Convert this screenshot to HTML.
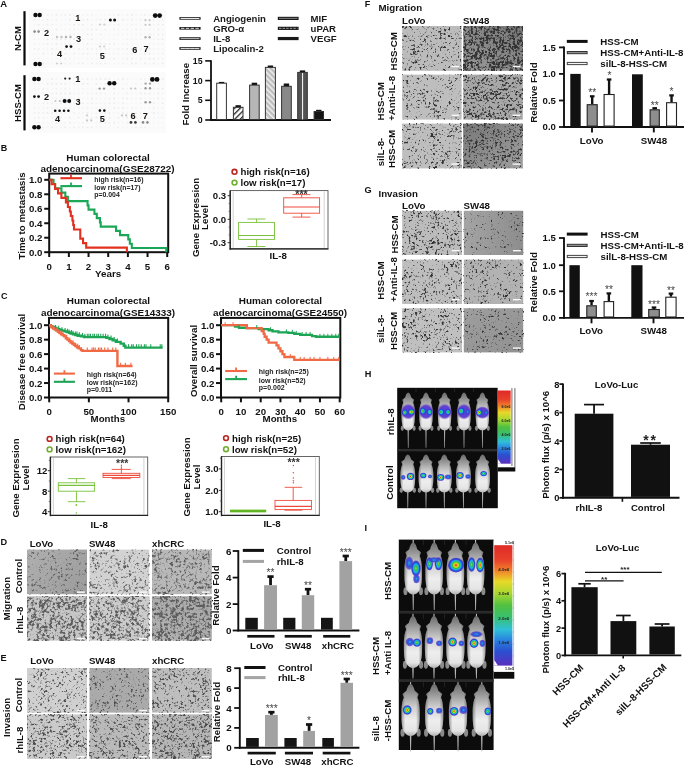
<!DOCTYPE html>
<html><head><meta charset="utf-8"><title>Figure</title>
<style>html,body{margin:0;padding:0;background:#fff;width:685px;height:766px;overflow:hidden}svg{display:block;filter:blur(0.45px)}text{font-family:"Liberation Sans", sans-serif}</style>
</head><body>
<svg width="685" height="766" viewBox="0 0 685 766" font-family='"Liberation Sans", sans-serif'>
<defs>
<pattern id="hatchA" patternUnits="userSpaceOnUse" width="3.9" height="3.9" patternTransform="rotate(45)"><rect width="3.9" height="3.9" fill="#fff"/><rect width="1.3" height="3.9" fill="#222"/></pattern>
<pattern id="hatchB" patternUnits="userSpaceOnUse" width="3.9" height="3.9" patternTransform="rotate(-45)"><rect width="3.9" height="3.9" fill="#bdbdbd"/><rect width="1.4" height="3.9" fill="#f2f2f2"/></pattern>
<filter id="sp1" x="0" y="0" width="1" height="1" color-interpolation-filters="sRGB"><feTurbulence type="fractalNoise" baseFrequency="0.38" numOctaves="3" seed="11" result="a"/><feTurbulence type="fractalNoise" baseFrequency="0.1" numOctaves="2" seed="111" result="b"/><feColorMatrix in="a" type="matrix" values="1 0 0 0 0 1 0 0 0 0 1 0 0 0 0 0 0 0 0 1" result="a2"/><feColorMatrix in="b" type="matrix" values="1 0 0 0 0 1 0 0 0 0 1 0 0 0 0 0 0 0 0 1" result="b2"/><feComposite in="a2" in2="b2" operator="arithmetic" k1="0" k2="1" k3="0.4" k4="-0.200" result="c"/><feColorMatrix in="c" type="matrix" values="0 0 0 0 0.36 0 0 0 0 0.36 0 0 0 0 0.36 -4.5 0 0 0 1.846"/><feGaussianBlur stdDeviation="0.6"/></filter>
<linearGradient id="gsp1" x1="0" y1="0" x2="1" y2="0.6"><stop offset="0" stop-color="#000" stop-opacity="0.0"/><stop offset="1" stop-color="#000" stop-opacity="0.1"/></linearGradient>
<filter id="sp2" x="0" y="0" width="1" height="1" color-interpolation-filters="sRGB"><feTurbulence type="fractalNoise" baseFrequency="0.38" numOctaves="3" seed="12" result="a"/><feTurbulence type="fractalNoise" baseFrequency="0.1" numOctaves="2" seed="112" result="b"/><feColorMatrix in="a" type="matrix" values="1 0 0 0 0 1 0 0 0 0 1 0 0 0 0 0 0 0 0 1" result="a2"/><feColorMatrix in="b" type="matrix" values="1 0 0 0 0 1 0 0 0 0 1 0 0 0 0 0 0 0 0 1" result="b2"/><feComposite in="a2" in2="b2" operator="arithmetic" k1="0" k2="1" k3="0.4" k4="-0.200" result="c"/><feColorMatrix in="c" type="matrix" values="0 0 0 0 0.36 0 0 0 0 0.36 0 0 0 0 0.36 -4.5 0 0 0 2.001"/><feGaussianBlur stdDeviation="0.6"/></filter>
<filter id="sp3" x="0" y="0" width="1" height="1" color-interpolation-filters="sRGB"><feTurbulence type="fractalNoise" baseFrequency="0.38" numOctaves="3" seed="13" result="a"/><feTurbulence type="fractalNoise" baseFrequency="0.1" numOctaves="2" seed="113" result="b"/><feColorMatrix in="a" type="matrix" values="1 0 0 0 0 1 0 0 0 0 1 0 0 0 0 0 0 0 0 1" result="a2"/><feColorMatrix in="b" type="matrix" values="1 0 0 0 0 1 0 0 0 0 1 0 0 0 0 0 0 0 0 1" result="b2"/><feComposite in="a2" in2="b2" operator="arithmetic" k1="0" k2="1" k3="0.4" k4="-0.200" result="c"/><feColorMatrix in="c" type="matrix" values="0 0 0 0 0.36 0 0 0 0 0.36 0 0 0 0 0.36 -4.5 0 0 0 2.111"/><feGaussianBlur stdDeviation="0.6"/></filter>
<filter id="sp4" x="0" y="0" width="1" height="1" color-interpolation-filters="sRGB"><feTurbulence type="fractalNoise" baseFrequency="0.38" numOctaves="3" seed="14" result="a"/><feTurbulence type="fractalNoise" baseFrequency="0.1" numOctaves="2" seed="114" result="b"/><feColorMatrix in="a" type="matrix" values="1 0 0 0 0 1 0 0 0 0 1 0 0 0 0 0 0 0 0 1" result="a2"/><feColorMatrix in="b" type="matrix" values="1 0 0 0 0 1 0 0 0 0 1 0 0 0 0 0 0 0 0 1" result="b2"/><feComposite in="a2" in2="b2" operator="arithmetic" k1="0" k2="1" k3="0.4" k4="-0.200" result="c"/><feColorMatrix in="c" type="matrix" values="0 0 0 0 0.36 0 0 0 0 0.36 0 0 0 0 0.36 -4.5 0 0 0 2.427"/><feGaussianBlur stdDeviation="0.6"/></filter>
<filter id="sp5" x="0" y="0" width="1" height="1" color-interpolation-filters="sRGB"><feTurbulence type="fractalNoise" baseFrequency="0.38" numOctaves="3" seed="15" result="a"/><feTurbulence type="fractalNoise" baseFrequency="0.1" numOctaves="2" seed="115" result="b"/><feColorMatrix in="a" type="matrix" values="1 0 0 0 0 1 0 0 0 0 1 0 0 0 0 0 0 0 0 1" result="a2"/><feColorMatrix in="b" type="matrix" values="1 0 0 0 0 1 0 0 0 0 1 0 0 0 0 0 0 0 0 1" result="b2"/><feComposite in="a2" in2="b2" operator="arithmetic" k1="0" k2="1" k3="0.4" k4="-0.200" result="c"/><feColorMatrix in="c" type="matrix" values="0 0 0 0 0.36 0 0 0 0 0.36 0 0 0 0 0.36 -4.5 0 0 0 2.390"/><feGaussianBlur stdDeviation="0.6"/></filter>
<filter id="sp6" x="0" y="0" width="1" height="1" color-interpolation-filters="sRGB"><feTurbulence type="fractalNoise" baseFrequency="0.38" numOctaves="3" seed="16" result="a"/><feTurbulence type="fractalNoise" baseFrequency="0.1" numOctaves="2" seed="116" result="b"/><feColorMatrix in="a" type="matrix" values="1 0 0 0 0 1 0 0 0 0 1 0 0 0 0 0 0 0 0 1" result="a2"/><feColorMatrix in="b" type="matrix" values="1 0 0 0 0 1 0 0 0 0 1 0 0 0 0 0 0 0 0 1" result="b2"/><feComposite in="a2" in2="b2" operator="arithmetic" k1="0" k2="1" k3="0.4" k4="-0.200" result="c"/><feColorMatrix in="c" type="matrix" values="0 0 0 0 0.36 0 0 0 0 0.36 0 0 0 0 0.36 -4.5 0 0 0 2.435"/><feGaussianBlur stdDeviation="0.6"/></filter>
<linearGradient id="gsp6" x1="0" y1="1" x2="1" y2="0"><stop offset="0" stop-color="#000" stop-opacity="0.0"/><stop offset="1" stop-color="#000" stop-opacity="0.06"/></linearGradient>
<filter id="sp7" x="0" y="0" width="1" height="1" color-interpolation-filters="sRGB"><feTurbulence type="fractalNoise" baseFrequency="0.42" numOctaves="3" seed="21" result="a"/><feTurbulence type="fractalNoise" baseFrequency="0.1" numOctaves="2" seed="121" result="b"/><feColorMatrix in="a" type="matrix" values="1 0 0 0 0 1 0 0 0 0 1 0 0 0 0 0 0 0 0 1" result="a2"/><feColorMatrix in="b" type="matrix" values="1 0 0 0 0 1 0 0 0 0 1 0 0 0 0 0 0 0 0 1" result="b2"/><feComposite in="a2" in2="b2" operator="arithmetic" k1="0" k2="1" k3="0.4" k4="-0.200" result="c"/><feColorMatrix in="c" type="matrix" values="0 0 0 0 0.3 0 0 0 0 0.3 0 0 0 0 0.3 -5.0 0 0 0 2.109"/><feGaussianBlur stdDeviation="0.55"/></filter>
<filter id="sp8" x="0" y="0" width="1" height="1" color-interpolation-filters="sRGB"><feTurbulence type="fractalNoise" baseFrequency="0.42" numOctaves="3" seed="22" result="a"/><feTurbulence type="fractalNoise" baseFrequency="0.1" numOctaves="2" seed="122" result="b"/><feColorMatrix in="a" type="matrix" values="1 0 0 0 0 1 0 0 0 0 1 0 0 0 0 0 0 0 0 1" result="a2"/><feColorMatrix in="b" type="matrix" values="1 0 0 0 0 1 0 0 0 0 1 0 0 0 0 0 0 0 0 1" result="b2"/><feComposite in="a2" in2="b2" operator="arithmetic" k1="0" k2="1" k3="0.4" k4="-0.200" result="c"/><feColorMatrix in="c" type="matrix" values="0 0 0 0 0.3 0 0 0 0 0.3 0 0 0 0 0.3 -5.0 0 0 0 2.001"/><feGaussianBlur stdDeviation="0.55"/></filter>
<filter id="sp9" x="0" y="0" width="1" height="1" color-interpolation-filters="sRGB"><feTurbulence type="fractalNoise" baseFrequency="0.42" numOctaves="3" seed="23" result="a"/><feTurbulence type="fractalNoise" baseFrequency="0.1" numOctaves="2" seed="123" result="b"/><feColorMatrix in="a" type="matrix" values="1 0 0 0 0 1 0 0 0 0 1 0 0 0 0 0 0 0 0 1" result="a2"/><feColorMatrix in="b" type="matrix" values="1 0 0 0 0 1 0 0 0 0 1 0 0 0 0 0 0 0 0 1" result="b2"/><feComposite in="a2" in2="b2" operator="arithmetic" k1="0" k2="1" k3="0.4" k4="-0.200" result="c"/><feColorMatrix in="c" type="matrix" values="0 0 0 0 0.3 0 0 0 0 0.3 0 0 0 0 0.3 -5.0 0 0 0 2.158"/><feGaussianBlur stdDeviation="0.55"/></filter>
<filter id="sp10" x="0" y="0" width="1" height="1" color-interpolation-filters="sRGB"><feTurbulence type="fractalNoise" baseFrequency="0.42" numOctaves="3" seed="24" result="a"/><feTurbulence type="fractalNoise" baseFrequency="0.1" numOctaves="2" seed="124" result="b"/><feColorMatrix in="a" type="matrix" values="1 0 0 0 0 1 0 0 0 0 1 0 0 0 0 0 0 0 0 1" result="a2"/><feColorMatrix in="b" type="matrix" values="1 0 0 0 0 1 0 0 0 0 1 0 0 0 0 0 0 0 0 1" result="b2"/><feComposite in="a2" in2="b2" operator="arithmetic" k1="0" k2="1" k3="0.4" k4="-0.200" result="c"/><feColorMatrix in="c" type="matrix" values="0 0 0 0 0.3 0 0 0 0 0.3 0 0 0 0 0.3 -5.0 0 0 0 2.360"/><feGaussianBlur stdDeviation="0.55"/></filter>
<filter id="sp11" x="0" y="0" width="1" height="1" color-interpolation-filters="sRGB"><feTurbulence type="fractalNoise" baseFrequency="0.42" numOctaves="3" seed="25" result="a"/><feTurbulence type="fractalNoise" baseFrequency="0.1" numOctaves="2" seed="125" result="b"/><feColorMatrix in="a" type="matrix" values="1 0 0 0 0 1 0 0 0 0 1 0 0 0 0 0 0 0 0 1" result="a2"/><feColorMatrix in="b" type="matrix" values="1 0 0 0 0 1 0 0 0 0 1 0 0 0 0 0 0 0 0 1" result="b2"/><feComposite in="a2" in2="b2" operator="arithmetic" k1="0" k2="1" k3="0.4" k4="-0.200" result="c"/><feColorMatrix in="c" type="matrix" values="0 0 0 0 0.3 0 0 0 0 0.3 0 0 0 0 0.3 -5.0 0 0 0 2.260"/><feGaussianBlur stdDeviation="0.55"/></filter>
<filter id="sp12" x="0" y="0" width="1" height="1" color-interpolation-filters="sRGB"><feTurbulence type="fractalNoise" baseFrequency="0.42" numOctaves="3" seed="26" result="a"/><feTurbulence type="fractalNoise" baseFrequency="0.1" numOctaves="2" seed="126" result="b"/><feColorMatrix in="a" type="matrix" values="1 0 0 0 0 1 0 0 0 0 1 0 0 0 0 0 0 0 0 1" result="a2"/><feColorMatrix in="b" type="matrix" values="1 0 0 0 0 1 0 0 0 0 1 0 0 0 0 0 0 0 0 1" result="b2"/><feComposite in="a2" in2="b2" operator="arithmetic" k1="0" k2="1" k3="0.4" k4="-0.200" result="c"/><feColorMatrix in="c" type="matrix" values="0 0 0 0 0.3 0 0 0 0 0.3 0 0 0 0 0.3 -5.0 0 0 0 2.439"/><feGaussianBlur stdDeviation="0.55"/></filter>
<filter id="sp13" x="0" y="0" width="1" height="1" color-interpolation-filters="sRGB"><feTurbulence type="fractalNoise" baseFrequency="0.45" numOctaves="3" seed="31" result="a"/><feTurbulence type="fractalNoise" baseFrequency="0.1" numOctaves="2" seed="131" result="b"/><feColorMatrix in="a" type="matrix" values="1 0 0 0 0 1 0 0 0 0 1 0 0 0 0 0 0 0 0 1" result="a2"/><feColorMatrix in="b" type="matrix" values="1 0 0 0 0 1 0 0 0 0 1 0 0 0 0 0 0 0 0 1" result="b2"/><feComposite in="a2" in2="b2" operator="arithmetic" k1="0" k2="1" k3="0.4" k4="-0.200" result="c"/><feColorMatrix in="c" type="matrix" values="0 0 0 0 0.2 0 0 0 0 0.2 0 0 0 0 0.2 -5.5 0 0 0 2.303"/><feGaussianBlur stdDeviation="0.5"/></filter>
<filter id="sp14" x="0" y="0" width="1" height="1" color-interpolation-filters="sRGB"><feTurbulence type="fractalNoise" baseFrequency="0.45" numOctaves="3" seed="32" result="a"/><feTurbulence type="fractalNoise" baseFrequency="0.1" numOctaves="2" seed="132" result="b"/><feColorMatrix in="a" type="matrix" values="1 0 0 0 0 1 0 0 0 0 1 0 0 0 0 0 0 0 0 1" result="a2"/><feColorMatrix in="b" type="matrix" values="1 0 0 0 0 1 0 0 0 0 1 0 0 0 0 0 0 0 0 1" result="b2"/><feComposite in="a2" in2="b2" operator="arithmetic" k1="0" k2="1" k3="0.4" k4="-0.200" result="c"/><feColorMatrix in="c" type="matrix" values="0 0 0 0 0.2 0 0 0 0 0.2 0 0 0 0 0.2 -5.5 0 0 0 3.067"/><feGaussianBlur stdDeviation="0.5"/></filter>
<linearGradient id="gsp14" x1="0" y1="1" x2="1" y2="0"><stop offset="0" stop-color="#000" stop-opacity="0.0"/><stop offset="1" stop-color="#000" stop-opacity="0.22"/></linearGradient>
<filter id="sp15" x="0" y="0" width="1" height="1" color-interpolation-filters="sRGB"><feTurbulence type="fractalNoise" baseFrequency="0.45" numOctaves="3" seed="33" result="a"/><feTurbulence type="fractalNoise" baseFrequency="0.1" numOctaves="2" seed="133" result="b"/><feColorMatrix in="a" type="matrix" values="1 0 0 0 0 1 0 0 0 0 1 0 0 0 0 0 0 0 0 1" result="a2"/><feColorMatrix in="b" type="matrix" values="1 0 0 0 0 1 0 0 0 0 1 0 0 0 0 0 0 0 0 1" result="b2"/><feComposite in="a2" in2="b2" operator="arithmetic" k1="0" k2="1" k3="0.4" k4="-0.200" result="c"/><feColorMatrix in="c" type="matrix" values="0 0 0 0 0.2 0 0 0 0 0.2 0 0 0 0 0.2 -5.5 0 0 0 2.219"/><feGaussianBlur stdDeviation="0.5"/></filter>
<filter id="sp16" x="0" y="0" width="1" height="1" color-interpolation-filters="sRGB"><feTurbulence type="fractalNoise" baseFrequency="0.45" numOctaves="3" seed="34" result="a"/><feTurbulence type="fractalNoise" baseFrequency="0.1" numOctaves="2" seed="134" result="b"/><feColorMatrix in="a" type="matrix" values="1 0 0 0 0 1 0 0 0 0 1 0 0 0 0 0 0 0 0 1" result="a2"/><feColorMatrix in="b" type="matrix" values="1 0 0 0 0 1 0 0 0 0 1 0 0 0 0 0 0 0 0 1" result="b2"/><feComposite in="a2" in2="b2" operator="arithmetic" k1="0" k2="1" k3="0.4" k4="-0.200" result="c"/><feColorMatrix in="c" type="matrix" values="0 0 0 0 0.2 0 0 0 0 0.2 0 0 0 0 0.2 -5.5 0 0 0 2.650"/><feGaussianBlur stdDeviation="0.5"/></filter>
<filter id="sp17" x="0" y="0" width="1" height="1" color-interpolation-filters="sRGB"><feTurbulence type="fractalNoise" baseFrequency="0.45" numOctaves="3" seed="35" result="a"/><feTurbulence type="fractalNoise" baseFrequency="0.1" numOctaves="2" seed="135" result="b"/><feColorMatrix in="a" type="matrix" values="1 0 0 0 0 1 0 0 0 0 1 0 0 0 0 0 0 0 0 1" result="a2"/><feColorMatrix in="b" type="matrix" values="1 0 0 0 0 1 0 0 0 0 1 0 0 0 0 0 0 0 0 1" result="b2"/><feComposite in="a2" in2="b2" operator="arithmetic" k1="0" k2="1" k3="0.4" k4="-0.200" result="c"/><feColorMatrix in="c" type="matrix" values="0 0 0 0 0.2 0 0 0 0 0.2 0 0 0 0 0.2 -5.5 0 0 0 2.300"/><feGaussianBlur stdDeviation="0.5"/></filter>
<filter id="sp18" x="0" y="0" width="1" height="1" color-interpolation-filters="sRGB"><feTurbulence type="fractalNoise" baseFrequency="0.45" numOctaves="3" seed="36" result="a"/><feTurbulence type="fractalNoise" baseFrequency="0.1" numOctaves="2" seed="136" result="b"/><feColorMatrix in="a" type="matrix" values="1 0 0 0 0 1 0 0 0 0 1 0 0 0 0 0 0 0 0 1" result="a2"/><feColorMatrix in="b" type="matrix" values="1 0 0 0 0 1 0 0 0 0 1 0 0 0 0 0 0 0 0 1" result="b2"/><feComposite in="a2" in2="b2" operator="arithmetic" k1="0" k2="1" k3="0.4" k4="-0.200" result="c"/><feColorMatrix in="c" type="matrix" values="0 0 0 0 0.2 0 0 0 0 0.2 0 0 0 0 0.2 -5.5 0 0 0 2.563"/><feGaussianBlur stdDeviation="0.5"/></filter>
<linearGradient id="gsp18" x1="1" y1="1" x2="0" y2="0"><stop offset="0" stop-color="#000" stop-opacity="0.0"/><stop offset="1" stop-color="#000" stop-opacity="0.25"/></linearGradient>
<filter id="sp19" x="0" y="0" width="1" height="1" color-interpolation-filters="sRGB"><feTurbulence type="fractalNoise" baseFrequency="0.45" numOctaves="3" seed="41" result="a"/><feTurbulence type="fractalNoise" baseFrequency="0.1" numOctaves="2" seed="141" result="b"/><feColorMatrix in="a" type="matrix" values="1 0 0 0 0 1 0 0 0 0 1 0 0 0 0 0 0 0 0 1" result="a2"/><feColorMatrix in="b" type="matrix" values="1 0 0 0 0 1 0 0 0 0 1 0 0 0 0 0 0 0 0 1" result="b2"/><feComposite in="a2" in2="b2" operator="arithmetic" k1="0" k2="1" k3="0.4" k4="-0.200" result="c"/><feColorMatrix in="c" type="matrix" values="0 0 0 0 0.2 0 0 0 0 0.2 0 0 0 0 0.2 -5.5 0 0 0 2.359"/><feGaussianBlur stdDeviation="0.5"/></filter>
<filter id="sp20" x="0" y="0" width="1" height="1" color-interpolation-filters="sRGB"><feTurbulence type="fractalNoise" baseFrequency="0.45" numOctaves="3" seed="42" result="a"/><feTurbulence type="fractalNoise" baseFrequency="0.1" numOctaves="2" seed="142" result="b"/><feColorMatrix in="a" type="matrix" values="1 0 0 0 0 1 0 0 0 0 1 0 0 0 0 0 0 0 0 1" result="a2"/><feColorMatrix in="b" type="matrix" values="1 0 0 0 0 1 0 0 0 0 1 0 0 0 0 0 0 0 0 1" result="b2"/><feComposite in="a2" in2="b2" operator="arithmetic" k1="0" k2="1" k3="0.4" k4="-0.200" result="c"/><feColorMatrix in="c" type="matrix" values="0 0 0 0 0.2 0 0 0 0 0.2 0 0 0 0 0.2 -5.5 0 0 0 1.877"/><feGaussianBlur stdDeviation="0.5"/></filter>
<linearGradient id="gsp20" x1="0" y1="0" x2="1" y2="0"><stop offset="0" stop-color="#000" stop-opacity="0.0"/><stop offset="1" stop-color="#000" stop-opacity="0.14"/></linearGradient>
<filter id="sp21" x="0" y="0" width="1" height="1" color-interpolation-filters="sRGB"><feTurbulence type="fractalNoise" baseFrequency="0.45" numOctaves="3" seed="43" result="a"/><feTurbulence type="fractalNoise" baseFrequency="0.1" numOctaves="2" seed="143" result="b"/><feColorMatrix in="a" type="matrix" values="1 0 0 0 0 1 0 0 0 0 1 0 0 0 0 0 0 0 0 1" result="a2"/><feColorMatrix in="b" type="matrix" values="1 0 0 0 0 1 0 0 0 0 1 0 0 0 0 0 0 0 0 1" result="b2"/><feComposite in="a2" in2="b2" operator="arithmetic" k1="0" k2="1" k3="0.4" k4="-0.200" result="c"/><feColorMatrix in="c" type="matrix" values="0 0 0 0 0.2 0 0 0 0 0.2 0 0 0 0 0.2 -5.5 0 0 0 2.287"/><feGaussianBlur stdDeviation="0.5"/></filter>
<filter id="sp22" x="0" y="0" width="1" height="1" color-interpolation-filters="sRGB"><feTurbulence type="fractalNoise" baseFrequency="0.45" numOctaves="3" seed="44" result="a"/><feTurbulence type="fractalNoise" baseFrequency="0.1" numOctaves="2" seed="144" result="b"/><feColorMatrix in="a" type="matrix" values="1 0 0 0 0 1 0 0 0 0 1 0 0 0 0 0 0 0 0 1" result="a2"/><feColorMatrix in="b" type="matrix" values="1 0 0 0 0 1 0 0 0 0 1 0 0 0 0 0 0 0 0 1" result="b2"/><feComposite in="a2" in2="b2" operator="arithmetic" k1="0" k2="1" k3="0.4" k4="-0.200" result="c"/><feColorMatrix in="c" type="matrix" values="0 0 0 0 0.2 0 0 0 0 0.2 0 0 0 0 0.2 -5.5 0 0 0 2.128"/><feGaussianBlur stdDeviation="0.5"/></filter>
<filter id="sp23" x="0" y="0" width="1" height="1" color-interpolation-filters="sRGB"><feTurbulence type="fractalNoise" baseFrequency="0.45" numOctaves="3" seed="45" result="a"/><feTurbulence type="fractalNoise" baseFrequency="0.1" numOctaves="2" seed="145" result="b"/><feColorMatrix in="a" type="matrix" values="1 0 0 0 0 1 0 0 0 0 1 0 0 0 0 0 0 0 0 1" result="a2"/><feColorMatrix in="b" type="matrix" values="1 0 0 0 0 1 0 0 0 0 1 0 0 0 0 0 0 0 0 1" result="b2"/><feComposite in="a2" in2="b2" operator="arithmetic" k1="0" k2="1" k3="0.4" k4="-0.200" result="c"/><feColorMatrix in="c" type="matrix" values="0 0 0 0 0.2 0 0 0 0 0.2 0 0 0 0 0.2 -5.5 0 0 0 2.307"/><feGaussianBlur stdDeviation="0.5"/></filter>
<filter id="sp24" x="0" y="0" width="1" height="1" color-interpolation-filters="sRGB"><feTurbulence type="fractalNoise" baseFrequency="0.45" numOctaves="3" seed="46" result="a"/><feTurbulence type="fractalNoise" baseFrequency="0.1" numOctaves="2" seed="146" result="b"/><feColorMatrix in="a" type="matrix" values="1 0 0 0 0 1 0 0 0 0 1 0 0 0 0 0 0 0 0 1" result="a2"/><feColorMatrix in="b" type="matrix" values="1 0 0 0 0 1 0 0 0 0 1 0 0 0 0 0 0 0 0 1" result="b2"/><feComposite in="a2" in2="b2" operator="arithmetic" k1="0" k2="1" k3="0.4" k4="-0.200" result="c"/><feColorMatrix in="c" type="matrix" values="0 0 0 0 0.2 0 0 0 0 0.2 0 0 0 0 0.2 -5.5 0 0 0 2.084"/><feGaussianBlur stdDeviation="0.5"/></filter>
<linearGradient id="gsp24" x1="0" y1="0" x2="1" y2="1"><stop offset="0" stop-color="#000" stop-opacity="0.0"/><stop offset="1" stop-color="#000" stop-opacity="0.08"/></linearGradient>
<linearGradient id="mbody" x1="0" y1="0" x2="0" y2="1"><stop offset="0" stop-color="#6a6a6a"/><stop offset="0.22" stop-color="#9c9c9c"/><stop offset="0.45" stop-color="#d0d0d0"/><stop offset="0.7" stop-color="#eeeeee"/><stop offset="0.9" stop-color="#e4e4e4"/><stop offset="1" stop-color="#b0b0b0"/></linearGradient>
<linearGradient id="medge" x1="0" y1="0" x2="1" y2="0"><stop offset="0" stop-color="#000" stop-opacity="0.35"/><stop offset="0.2" stop-color="#000" stop-opacity="0"/><stop offset="0.8" stop-color="#000" stop-opacity="0"/><stop offset="1" stop-color="#000" stop-opacity="0.35"/></linearGradient>
<radialGradient id="heat"><stop offset="0" stop-color="#e8202a"/><stop offset="0.18" stop-color="#f0a020"/><stop offset="0.3" stop-color="#c8e020"/><stop offset="0.45" stop-color="#30c040"/><stop offset="0.62" stop-color="#20b8e0"/><stop offset="0.8" stop-color="#2448d8"/><stop offset="1" stop-color="#4a30c8" stop-opacity="0.85"/></radialGradient>
<radialGradient id="cool"><stop offset="0" stop-color="#a8e030"/><stop offset="0.25" stop-color="#30c040"/><stop offset="0.5" stop-color="#20b8e0"/><stop offset="0.78" stop-color="#2448d8"/><stop offset="1" stop-color="#4a30c8" stop-opacity="0.8"/></radialGradient>
<radialGradient id="blu"><stop offset="0" stop-color="#2aa8e8"/><stop offset="0.5" stop-color="#2a50d8"/><stop offset="1" stop-color="#5a38c8" stop-opacity="0.7"/></radialGradient>
<radialGradient id="purp"><stop offset="0" stop-color="#4a44d8"/><stop offset="0.75" stop-color="#6040d0"/><stop offset="1" stop-color="#7048c8" stop-opacity="0.3"/></radialGradient>
<linearGradient id="cbar" x1="0" y1="0" x2="0" y2="1"><stop offset="0" stop-color="#e02a28"/><stop offset="0.12" stop-color="#e8402a"/><stop offset="0.21" stop-color="#f0802a"/><stop offset="0.3" stop-color="#e8d828"/><stop offset="0.4" stop-color="#a8d830"/><stop offset="0.5" stop-color="#50c040"/><stop offset="0.6" stop-color="#38c070"/><stop offset="0.7" stop-color="#30c0d8"/><stop offset="0.78" stop-color="#2a88e0"/><stop offset="0.88" stop-color="#2a50d0"/><stop offset="1" stop-color="#5a30c0"/></linearGradient>
</defs>
<rect width="685" height="766" fill="#fff"/>
<text x="0.3" y="6.5" font-size="9.5" font-weight="bold" text-anchor="start" fill="#111">A</text>
<rect x="29.00" y="9.00" width="137.00" height="59.00" fill="#fbfbfb"/>
<rect x="29.00" y="72.00" width="137.00" height="61.00" fill="#fbfbfb"/>
<circle cx="34.50" cy="15.00" r="1.00" fill="#efefef"/>
<circle cx="38.70" cy="15.00" r="1.00" fill="#f5f5f5"/>
<circle cx="43.35" cy="15.00" r="1.00" fill="#f7f7f7"/>
<circle cx="47.55" cy="15.00" r="1.00" fill="#f3f3f3"/>
<circle cx="52.20" cy="15.00" r="1.00" fill="#f3f3f3"/>
<circle cx="56.40" cy="15.00" r="1.00" fill="#ececec"/>
<circle cx="61.05" cy="15.00" r="1.00" fill="#f3f3f3"/>
<circle cx="65.25" cy="15.00" r="1.00" fill="#efefef"/>
<circle cx="69.90" cy="15.00" r="1.00" fill="#ececec"/>
<circle cx="74.10" cy="15.00" r="1.00" fill="#f3f3f3"/>
<circle cx="78.75" cy="15.00" r="1.00" fill="#ececec"/>
<circle cx="82.95" cy="15.00" r="1.00" fill="#f5f5f5"/>
<circle cx="87.60" cy="15.00" r="1.00" fill="#f3f3f3"/>
<circle cx="91.80" cy="15.00" r="1.00" fill="#f3f3f3"/>
<circle cx="96.45" cy="15.00" r="1.00" fill="#f7f7f7"/>
<circle cx="100.65" cy="15.00" r="1.00" fill="#f7f7f7"/>
<circle cx="105.30" cy="15.00" r="1.00" fill="#f3f3f3"/>
<circle cx="109.50" cy="15.00" r="1.00" fill="#f5f5f5"/>
<circle cx="114.15" cy="15.00" r="1.00" fill="#f3f3f3"/>
<circle cx="118.35" cy="15.00" r="1.00" fill="#ececec"/>
<circle cx="123.00" cy="15.00" r="1.00" fill="#f7f7f7"/>
<circle cx="127.20" cy="15.00" r="1.00" fill="#f3f3f3"/>
<circle cx="131.85" cy="15.00" r="1.00" fill="#ececec"/>
<circle cx="136.05" cy="15.00" r="1.00" fill="#f3f3f3"/>
<circle cx="140.70" cy="15.00" r="1.00" fill="#f5f5f5"/>
<circle cx="144.90" cy="15.00" r="1.00" fill="#ececec"/>
<circle cx="149.55" cy="15.00" r="1.00" fill="#f3f3f3"/>
<circle cx="153.75" cy="15.00" r="1.00" fill="#ececec"/>
<circle cx="158.40" cy="15.00" r="1.00" fill="#ececec"/>
<circle cx="162.60" cy="15.00" r="1.00" fill="#f7f7f7"/>
<circle cx="34.50" cy="19.85" r="1.00" fill="#f3f3f3"/>
<circle cx="38.70" cy="19.85" r="1.00" fill="#f5f5f5"/>
<circle cx="43.35" cy="19.85" r="1.00" fill="#f3f3f3"/>
<circle cx="47.55" cy="19.85" r="1.00" fill="#ececec"/>
<circle cx="52.20" cy="19.85" r="1.00" fill="#f5f5f5"/>
<circle cx="56.40" cy="19.85" r="1.00" fill="#efefef"/>
<circle cx="61.05" cy="19.85" r="1.00" fill="#f7f7f7"/>
<circle cx="65.25" cy="19.85" r="1.00" fill="#f5f5f5"/>
<circle cx="69.90" cy="19.85" r="1.00" fill="#ececec"/>
<circle cx="74.10" cy="19.85" r="1.00" fill="#f3f3f3"/>
<circle cx="78.75" cy="19.85" r="1.00" fill="#ececec"/>
<circle cx="82.95" cy="19.85" r="1.00" fill="#efefef"/>
<circle cx="87.60" cy="19.85" r="1.00" fill="#ececec"/>
<circle cx="91.80" cy="19.85" r="1.00" fill="#f5f5f5"/>
<circle cx="96.45" cy="19.85" r="1.00" fill="#f3f3f3"/>
<circle cx="100.65" cy="19.85" r="1.00" fill="#ececec"/>
<circle cx="105.30" cy="19.85" r="1.00" fill="#ececec"/>
<circle cx="109.50" cy="19.85" r="1.00" fill="#f5f5f5"/>
<circle cx="114.15" cy="19.85" r="1.00" fill="#efefef"/>
<circle cx="118.35" cy="19.85" r="1.00" fill="#f3f3f3"/>
<circle cx="123.00" cy="19.85" r="1.00" fill="#ececec"/>
<circle cx="127.20" cy="19.85" r="1.00" fill="#f3f3f3"/>
<circle cx="131.85" cy="19.85" r="1.00" fill="#ececec"/>
<circle cx="136.05" cy="19.85" r="1.00" fill="#f3f3f3"/>
<circle cx="140.70" cy="19.85" r="1.00" fill="#ececec"/>
<circle cx="144.90" cy="19.85" r="1.00" fill="#f5f5f5"/>
<circle cx="149.55" cy="19.85" r="1.00" fill="#f7f7f7"/>
<circle cx="153.75" cy="19.85" r="1.00" fill="#ececec"/>
<circle cx="158.40" cy="19.85" r="1.00" fill="#f7f7f7"/>
<circle cx="162.60" cy="19.85" r="1.00" fill="#efefef"/>
<circle cx="34.50" cy="24.70" r="1.00" fill="#f7f7f7"/>
<circle cx="38.70" cy="24.70" r="1.00" fill="#ececec"/>
<circle cx="43.35" cy="24.70" r="1.00" fill="#f7f7f7"/>
<circle cx="47.55" cy="24.70" r="1.00" fill="#efefef"/>
<circle cx="52.20" cy="24.70" r="1.00" fill="#efefef"/>
<circle cx="56.40" cy="24.70" r="1.00" fill="#f5f5f5"/>
<circle cx="61.05" cy="24.70" r="1.00" fill="#f5f5f5"/>
<circle cx="65.25" cy="24.70" r="1.00" fill="#f5f5f5"/>
<circle cx="69.90" cy="24.70" r="1.00" fill="#f3f3f3"/>
<circle cx="74.10" cy="24.70" r="1.00" fill="#ececec"/>
<circle cx="78.75" cy="24.70" r="1.00" fill="#efefef"/>
<circle cx="82.95" cy="24.70" r="1.00" fill="#ececec"/>
<circle cx="87.60" cy="24.70" r="1.00" fill="#f7f7f7"/>
<circle cx="91.80" cy="24.70" r="1.00" fill="#efefef"/>
<circle cx="96.45" cy="24.70" r="1.00" fill="#f7f7f7"/>
<circle cx="100.65" cy="24.70" r="1.00" fill="#efefef"/>
<circle cx="105.30" cy="24.70" r="1.00" fill="#ececec"/>
<circle cx="109.50" cy="24.70" r="1.00" fill="#f3f3f3"/>
<circle cx="114.15" cy="24.70" r="1.00" fill="#f3f3f3"/>
<circle cx="118.35" cy="24.70" r="1.00" fill="#ececec"/>
<circle cx="123.00" cy="24.70" r="1.00" fill="#f7f7f7"/>
<circle cx="127.20" cy="24.70" r="1.00" fill="#f5f5f5"/>
<circle cx="131.85" cy="24.70" r="1.00" fill="#efefef"/>
<circle cx="136.05" cy="24.70" r="1.00" fill="#f5f5f5"/>
<circle cx="140.70" cy="24.70" r="1.00" fill="#f7f7f7"/>
<circle cx="144.90" cy="24.70" r="1.00" fill="#f7f7f7"/>
<circle cx="149.55" cy="24.70" r="1.00" fill="#f3f3f3"/>
<circle cx="153.75" cy="24.70" r="1.00" fill="#f3f3f3"/>
<circle cx="158.40" cy="24.70" r="1.00" fill="#ececec"/>
<circle cx="162.60" cy="24.70" r="1.00" fill="#ececec"/>
<circle cx="34.50" cy="29.55" r="1.00" fill="#efefef"/>
<circle cx="38.70" cy="29.55" r="1.00" fill="#efefef"/>
<circle cx="43.35" cy="29.55" r="1.00" fill="#efefef"/>
<circle cx="47.55" cy="29.55" r="1.00" fill="#ececec"/>
<circle cx="52.20" cy="29.55" r="1.00" fill="#f7f7f7"/>
<circle cx="56.40" cy="29.55" r="1.00" fill="#ececec"/>
<circle cx="61.05" cy="29.55" r="1.00" fill="#f7f7f7"/>
<circle cx="65.25" cy="29.55" r="1.00" fill="#f3f3f3"/>
<circle cx="69.90" cy="29.55" r="1.00" fill="#f3f3f3"/>
<circle cx="74.10" cy="29.55" r="1.00" fill="#efefef"/>
<circle cx="78.75" cy="29.55" r="1.00" fill="#f7f7f7"/>
<circle cx="82.95" cy="29.55" r="1.00" fill="#f3f3f3"/>
<circle cx="87.60" cy="29.55" r="1.00" fill="#f3f3f3"/>
<circle cx="91.80" cy="29.55" r="1.00" fill="#efefef"/>
<circle cx="96.45" cy="29.55" r="1.00" fill="#ececec"/>
<circle cx="100.65" cy="29.55" r="1.00" fill="#f7f7f7"/>
<circle cx="105.30" cy="29.55" r="1.00" fill="#efefef"/>
<circle cx="109.50" cy="29.55" r="1.00" fill="#f7f7f7"/>
<circle cx="114.15" cy="29.55" r="1.00" fill="#efefef"/>
<circle cx="118.35" cy="29.55" r="1.00" fill="#f3f3f3"/>
<circle cx="123.00" cy="29.55" r="1.00" fill="#f7f7f7"/>
<circle cx="127.20" cy="29.55" r="1.00" fill="#efefef"/>
<circle cx="131.85" cy="29.55" r="1.00" fill="#f5f5f5"/>
<circle cx="136.05" cy="29.55" r="1.00" fill="#ececec"/>
<circle cx="140.70" cy="29.55" r="1.00" fill="#f3f3f3"/>
<circle cx="144.90" cy="29.55" r="1.00" fill="#f7f7f7"/>
<circle cx="149.55" cy="29.55" r="1.00" fill="#f3f3f3"/>
<circle cx="153.75" cy="29.55" r="1.00" fill="#f5f5f5"/>
<circle cx="158.40" cy="29.55" r="1.00" fill="#efefef"/>
<circle cx="162.60" cy="29.55" r="1.00" fill="#f5f5f5"/>
<circle cx="34.50" cy="34.40" r="1.00" fill="#f5f5f5"/>
<circle cx="38.70" cy="34.40" r="1.00" fill="#f7f7f7"/>
<circle cx="43.35" cy="34.40" r="1.00" fill="#f7f7f7"/>
<circle cx="47.55" cy="34.40" r="1.00" fill="#f7f7f7"/>
<circle cx="52.20" cy="34.40" r="1.00" fill="#f3f3f3"/>
<circle cx="56.40" cy="34.40" r="1.00" fill="#f5f5f5"/>
<circle cx="61.05" cy="34.40" r="1.00" fill="#f7f7f7"/>
<circle cx="65.25" cy="34.40" r="1.00" fill="#f7f7f7"/>
<circle cx="69.90" cy="34.40" r="1.00" fill="#ececec"/>
<circle cx="74.10" cy="34.40" r="1.00" fill="#efefef"/>
<circle cx="78.75" cy="34.40" r="1.00" fill="#f5f5f5"/>
<circle cx="82.95" cy="34.40" r="1.00" fill="#f7f7f7"/>
<circle cx="87.60" cy="34.40" r="1.00" fill="#ececec"/>
<circle cx="91.80" cy="34.40" r="1.00" fill="#efefef"/>
<circle cx="96.45" cy="34.40" r="1.00" fill="#f7f7f7"/>
<circle cx="100.65" cy="34.40" r="1.00" fill="#efefef"/>
<circle cx="105.30" cy="34.40" r="1.00" fill="#f7f7f7"/>
<circle cx="109.50" cy="34.40" r="1.00" fill="#f5f5f5"/>
<circle cx="114.15" cy="34.40" r="1.00" fill="#f5f5f5"/>
<circle cx="118.35" cy="34.40" r="1.00" fill="#f3f3f3"/>
<circle cx="123.00" cy="34.40" r="1.00" fill="#f5f5f5"/>
<circle cx="127.20" cy="34.40" r="1.00" fill="#f5f5f5"/>
<circle cx="131.85" cy="34.40" r="1.00" fill="#f5f5f5"/>
<circle cx="136.05" cy="34.40" r="1.00" fill="#f5f5f5"/>
<circle cx="140.70" cy="34.40" r="1.00" fill="#f3f3f3"/>
<circle cx="144.90" cy="34.40" r="1.00" fill="#f7f7f7"/>
<circle cx="149.55" cy="34.40" r="1.00" fill="#ececec"/>
<circle cx="153.75" cy="34.40" r="1.00" fill="#f5f5f5"/>
<circle cx="158.40" cy="34.40" r="1.00" fill="#efefef"/>
<circle cx="162.60" cy="34.40" r="1.00" fill="#efefef"/>
<circle cx="34.50" cy="39.25" r="1.00" fill="#f3f3f3"/>
<circle cx="38.70" cy="39.25" r="1.00" fill="#f5f5f5"/>
<circle cx="43.35" cy="39.25" r="1.00" fill="#f7f7f7"/>
<circle cx="47.55" cy="39.25" r="1.00" fill="#ececec"/>
<circle cx="52.20" cy="39.25" r="1.00" fill="#efefef"/>
<circle cx="56.40" cy="39.25" r="1.00" fill="#ececec"/>
<circle cx="61.05" cy="39.25" r="1.00" fill="#ececec"/>
<circle cx="65.25" cy="39.25" r="1.00" fill="#efefef"/>
<circle cx="69.90" cy="39.25" r="1.00" fill="#f5f5f5"/>
<circle cx="74.10" cy="39.25" r="1.00" fill="#ececec"/>
<circle cx="78.75" cy="39.25" r="1.00" fill="#ececec"/>
<circle cx="82.95" cy="39.25" r="1.00" fill="#f3f3f3"/>
<circle cx="87.60" cy="39.25" r="1.00" fill="#f7f7f7"/>
<circle cx="91.80" cy="39.25" r="1.00" fill="#ececec"/>
<circle cx="96.45" cy="39.25" r="1.00" fill="#f7f7f7"/>
<circle cx="100.65" cy="39.25" r="1.00" fill="#f7f7f7"/>
<circle cx="105.30" cy="39.25" r="1.00" fill="#f7f7f7"/>
<circle cx="109.50" cy="39.25" r="1.00" fill="#f7f7f7"/>
<circle cx="114.15" cy="39.25" r="1.00" fill="#f3f3f3"/>
<circle cx="118.35" cy="39.25" r="1.00" fill="#f7f7f7"/>
<circle cx="123.00" cy="39.25" r="1.00" fill="#f7f7f7"/>
<circle cx="127.20" cy="39.25" r="1.00" fill="#f3f3f3"/>
<circle cx="131.85" cy="39.25" r="1.00" fill="#f5f5f5"/>
<circle cx="136.05" cy="39.25" r="1.00" fill="#f3f3f3"/>
<circle cx="140.70" cy="39.25" r="1.00" fill="#f5f5f5"/>
<circle cx="144.90" cy="39.25" r="1.00" fill="#f7f7f7"/>
<circle cx="149.55" cy="39.25" r="1.00" fill="#f5f5f5"/>
<circle cx="153.75" cy="39.25" r="1.00" fill="#f3f3f3"/>
<circle cx="158.40" cy="39.25" r="1.00" fill="#efefef"/>
<circle cx="162.60" cy="39.25" r="1.00" fill="#ececec"/>
<circle cx="34.50" cy="44.10" r="1.00" fill="#f3f3f3"/>
<circle cx="38.70" cy="44.10" r="1.00" fill="#f3f3f3"/>
<circle cx="43.35" cy="44.10" r="1.00" fill="#f3f3f3"/>
<circle cx="47.55" cy="44.10" r="1.00" fill="#ececec"/>
<circle cx="52.20" cy="44.10" r="1.00" fill="#f5f5f5"/>
<circle cx="56.40" cy="44.10" r="1.00" fill="#ececec"/>
<circle cx="61.05" cy="44.10" r="1.00" fill="#f3f3f3"/>
<circle cx="65.25" cy="44.10" r="1.00" fill="#efefef"/>
<circle cx="69.90" cy="44.10" r="1.00" fill="#ececec"/>
<circle cx="74.10" cy="44.10" r="1.00" fill="#f3f3f3"/>
<circle cx="78.75" cy="44.10" r="1.00" fill="#f3f3f3"/>
<circle cx="82.95" cy="44.10" r="1.00" fill="#f5f5f5"/>
<circle cx="87.60" cy="44.10" r="1.00" fill="#ececec"/>
<circle cx="91.80" cy="44.10" r="1.00" fill="#f7f7f7"/>
<circle cx="96.45" cy="44.10" r="1.00" fill="#f5f5f5"/>
<circle cx="100.65" cy="44.10" r="1.00" fill="#efefef"/>
<circle cx="105.30" cy="44.10" r="1.00" fill="#efefef"/>
<circle cx="109.50" cy="44.10" r="1.00" fill="#ececec"/>
<circle cx="114.15" cy="44.10" r="1.00" fill="#efefef"/>
<circle cx="118.35" cy="44.10" r="1.00" fill="#f7f7f7"/>
<circle cx="123.00" cy="44.10" r="1.00" fill="#f3f3f3"/>
<circle cx="127.20" cy="44.10" r="1.00" fill="#f3f3f3"/>
<circle cx="131.85" cy="44.10" r="1.00" fill="#f7f7f7"/>
<circle cx="136.05" cy="44.10" r="1.00" fill="#f7f7f7"/>
<circle cx="140.70" cy="44.10" r="1.00" fill="#f7f7f7"/>
<circle cx="144.90" cy="44.10" r="1.00" fill="#f7f7f7"/>
<circle cx="149.55" cy="44.10" r="1.00" fill="#efefef"/>
<circle cx="153.75" cy="44.10" r="1.00" fill="#f3f3f3"/>
<circle cx="158.40" cy="44.10" r="1.00" fill="#f5f5f5"/>
<circle cx="162.60" cy="44.10" r="1.00" fill="#f3f3f3"/>
<circle cx="34.50" cy="48.95" r="1.00" fill="#efefef"/>
<circle cx="38.70" cy="48.95" r="1.00" fill="#efefef"/>
<circle cx="43.35" cy="48.95" r="1.00" fill="#f7f7f7"/>
<circle cx="47.55" cy="48.95" r="1.00" fill="#f5f5f5"/>
<circle cx="52.20" cy="48.95" r="1.00" fill="#ececec"/>
<circle cx="56.40" cy="48.95" r="1.00" fill="#f3f3f3"/>
<circle cx="61.05" cy="48.95" r="1.00" fill="#f5f5f5"/>
<circle cx="65.25" cy="48.95" r="1.00" fill="#ececec"/>
<circle cx="69.90" cy="48.95" r="1.00" fill="#efefef"/>
<circle cx="74.10" cy="48.95" r="1.00" fill="#f5f5f5"/>
<circle cx="78.75" cy="48.95" r="1.00" fill="#ececec"/>
<circle cx="82.95" cy="48.95" r="1.00" fill="#f3f3f3"/>
<circle cx="87.60" cy="48.95" r="1.00" fill="#ececec"/>
<circle cx="91.80" cy="48.95" r="1.00" fill="#efefef"/>
<circle cx="96.45" cy="48.95" r="1.00" fill="#f3f3f3"/>
<circle cx="100.65" cy="48.95" r="1.00" fill="#efefef"/>
<circle cx="105.30" cy="48.95" r="1.00" fill="#ececec"/>
<circle cx="109.50" cy="48.95" r="1.00" fill="#efefef"/>
<circle cx="114.15" cy="48.95" r="1.00" fill="#f5f5f5"/>
<circle cx="118.35" cy="48.95" r="1.00" fill="#efefef"/>
<circle cx="123.00" cy="48.95" r="1.00" fill="#f5f5f5"/>
<circle cx="127.20" cy="48.95" r="1.00" fill="#ececec"/>
<circle cx="131.85" cy="48.95" r="1.00" fill="#ececec"/>
<circle cx="136.05" cy="48.95" r="1.00" fill="#ececec"/>
<circle cx="140.70" cy="48.95" r="1.00" fill="#efefef"/>
<circle cx="144.90" cy="48.95" r="1.00" fill="#f5f5f5"/>
<circle cx="149.55" cy="48.95" r="1.00" fill="#ececec"/>
<circle cx="153.75" cy="48.95" r="1.00" fill="#f5f5f5"/>
<circle cx="158.40" cy="48.95" r="1.00" fill="#f5f5f5"/>
<circle cx="162.60" cy="48.95" r="1.00" fill="#f7f7f7"/>
<circle cx="34.50" cy="53.80" r="1.00" fill="#f5f5f5"/>
<circle cx="38.70" cy="53.80" r="1.00" fill="#f5f5f5"/>
<circle cx="43.35" cy="53.80" r="1.00" fill="#ececec"/>
<circle cx="47.55" cy="53.80" r="1.00" fill="#f7f7f7"/>
<circle cx="52.20" cy="53.80" r="1.00" fill="#efefef"/>
<circle cx="56.40" cy="53.80" r="1.00" fill="#f3f3f3"/>
<circle cx="61.05" cy="53.80" r="1.00" fill="#f3f3f3"/>
<circle cx="65.25" cy="53.80" r="1.00" fill="#efefef"/>
<circle cx="69.90" cy="53.80" r="1.00" fill="#f7f7f7"/>
<circle cx="74.10" cy="53.80" r="1.00" fill="#efefef"/>
<circle cx="78.75" cy="53.80" r="1.00" fill="#f5f5f5"/>
<circle cx="82.95" cy="53.80" r="1.00" fill="#ececec"/>
<circle cx="87.60" cy="53.80" r="1.00" fill="#efefef"/>
<circle cx="91.80" cy="53.80" r="1.00" fill="#f7f7f7"/>
<circle cx="96.45" cy="53.80" r="1.00" fill="#efefef"/>
<circle cx="100.65" cy="53.80" r="1.00" fill="#efefef"/>
<circle cx="105.30" cy="53.80" r="1.00" fill="#f3f3f3"/>
<circle cx="109.50" cy="53.80" r="1.00" fill="#f5f5f5"/>
<circle cx="114.15" cy="53.80" r="1.00" fill="#f3f3f3"/>
<circle cx="118.35" cy="53.80" r="1.00" fill="#f5f5f5"/>
<circle cx="123.00" cy="53.80" r="1.00" fill="#f7f7f7"/>
<circle cx="127.20" cy="53.80" r="1.00" fill="#f5f5f5"/>
<circle cx="131.85" cy="53.80" r="1.00" fill="#efefef"/>
<circle cx="136.05" cy="53.80" r="1.00" fill="#f5f5f5"/>
<circle cx="140.70" cy="53.80" r="1.00" fill="#f7f7f7"/>
<circle cx="144.90" cy="53.80" r="1.00" fill="#ececec"/>
<circle cx="149.55" cy="53.80" r="1.00" fill="#ececec"/>
<circle cx="153.75" cy="53.80" r="1.00" fill="#f3f3f3"/>
<circle cx="158.40" cy="53.80" r="1.00" fill="#f7f7f7"/>
<circle cx="162.60" cy="53.80" r="1.00" fill="#efefef"/>
<circle cx="34.50" cy="58.65" r="1.00" fill="#f3f3f3"/>
<circle cx="38.70" cy="58.65" r="1.00" fill="#f3f3f3"/>
<circle cx="43.35" cy="58.65" r="1.00" fill="#f7f7f7"/>
<circle cx="47.55" cy="58.65" r="1.00" fill="#f5f5f5"/>
<circle cx="52.20" cy="58.65" r="1.00" fill="#f7f7f7"/>
<circle cx="56.40" cy="58.65" r="1.00" fill="#f5f5f5"/>
<circle cx="61.05" cy="58.65" r="1.00" fill="#f7f7f7"/>
<circle cx="65.25" cy="58.65" r="1.00" fill="#efefef"/>
<circle cx="69.90" cy="58.65" r="1.00" fill="#f3f3f3"/>
<circle cx="74.10" cy="58.65" r="1.00" fill="#f7f7f7"/>
<circle cx="78.75" cy="58.65" r="1.00" fill="#f7f7f7"/>
<circle cx="82.95" cy="58.65" r="1.00" fill="#f7f7f7"/>
<circle cx="87.60" cy="58.65" r="1.00" fill="#f3f3f3"/>
<circle cx="91.80" cy="58.65" r="1.00" fill="#f5f5f5"/>
<circle cx="96.45" cy="58.65" r="1.00" fill="#f5f5f5"/>
<circle cx="100.65" cy="58.65" r="1.00" fill="#f5f5f5"/>
<circle cx="105.30" cy="58.65" r="1.00" fill="#f3f3f3"/>
<circle cx="109.50" cy="58.65" r="1.00" fill="#f5f5f5"/>
<circle cx="114.15" cy="58.65" r="1.00" fill="#ececec"/>
<circle cx="118.35" cy="58.65" r="1.00" fill="#f7f7f7"/>
<circle cx="123.00" cy="58.65" r="1.00" fill="#f5f5f5"/>
<circle cx="127.20" cy="58.65" r="1.00" fill="#ececec"/>
<circle cx="131.85" cy="58.65" r="1.00" fill="#ececec"/>
<circle cx="136.05" cy="58.65" r="1.00" fill="#f7f7f7"/>
<circle cx="140.70" cy="58.65" r="1.00" fill="#efefef"/>
<circle cx="144.90" cy="58.65" r="1.00" fill="#f5f5f5"/>
<circle cx="149.55" cy="58.65" r="1.00" fill="#ececec"/>
<circle cx="153.75" cy="58.65" r="1.00" fill="#ececec"/>
<circle cx="158.40" cy="58.65" r="1.00" fill="#f5f5f5"/>
<circle cx="162.60" cy="58.65" r="1.00" fill="#f3f3f3"/>
<circle cx="34.50" cy="63.50" r="1.00" fill="#f3f3f3"/>
<circle cx="38.70" cy="63.50" r="1.00" fill="#f3f3f3"/>
<circle cx="43.35" cy="63.50" r="1.00" fill="#ececec"/>
<circle cx="47.55" cy="63.50" r="1.00" fill="#f5f5f5"/>
<circle cx="52.20" cy="63.50" r="1.00" fill="#f7f7f7"/>
<circle cx="56.40" cy="63.50" r="1.00" fill="#f5f5f5"/>
<circle cx="61.05" cy="63.50" r="1.00" fill="#f5f5f5"/>
<circle cx="65.25" cy="63.50" r="1.00" fill="#f3f3f3"/>
<circle cx="69.90" cy="63.50" r="1.00" fill="#efefef"/>
<circle cx="74.10" cy="63.50" r="1.00" fill="#f5f5f5"/>
<circle cx="78.75" cy="63.50" r="1.00" fill="#efefef"/>
<circle cx="82.95" cy="63.50" r="1.00" fill="#ececec"/>
<circle cx="87.60" cy="63.50" r="1.00" fill="#f5f5f5"/>
<circle cx="91.80" cy="63.50" r="1.00" fill="#ececec"/>
<circle cx="96.45" cy="63.50" r="1.00" fill="#efefef"/>
<circle cx="100.65" cy="63.50" r="1.00" fill="#efefef"/>
<circle cx="105.30" cy="63.50" r="1.00" fill="#ececec"/>
<circle cx="109.50" cy="63.50" r="1.00" fill="#f7f7f7"/>
<circle cx="114.15" cy="63.50" r="1.00" fill="#f5f5f5"/>
<circle cx="118.35" cy="63.50" r="1.00" fill="#f3f3f3"/>
<circle cx="123.00" cy="63.50" r="1.00" fill="#efefef"/>
<circle cx="127.20" cy="63.50" r="1.00" fill="#f7f7f7"/>
<circle cx="131.85" cy="63.50" r="1.00" fill="#ececec"/>
<circle cx="136.05" cy="63.50" r="1.00" fill="#ececec"/>
<circle cx="140.70" cy="63.50" r="1.00" fill="#f7f7f7"/>
<circle cx="144.90" cy="63.50" r="1.00" fill="#ececec"/>
<circle cx="149.55" cy="63.50" r="1.00" fill="#f5f5f5"/>
<circle cx="153.75" cy="63.50" r="1.00" fill="#ececec"/>
<circle cx="158.40" cy="63.50" r="1.00" fill="#f5f5f5"/>
<circle cx="162.60" cy="63.50" r="1.00" fill="#ececec"/>
<circle cx="34.50" cy="79.00" r="1.00" fill="#ececec"/>
<circle cx="38.70" cy="79.00" r="1.00" fill="#f3f3f3"/>
<circle cx="43.35" cy="79.00" r="1.00" fill="#f7f7f7"/>
<circle cx="47.55" cy="79.00" r="1.00" fill="#f5f5f5"/>
<circle cx="52.20" cy="79.00" r="1.00" fill="#ececec"/>
<circle cx="56.40" cy="79.00" r="1.00" fill="#f3f3f3"/>
<circle cx="61.05" cy="79.00" r="1.00" fill="#f5f5f5"/>
<circle cx="65.25" cy="79.00" r="1.00" fill="#f5f5f5"/>
<circle cx="69.90" cy="79.00" r="1.00" fill="#f5f5f5"/>
<circle cx="74.10" cy="79.00" r="1.00" fill="#f7f7f7"/>
<circle cx="78.75" cy="79.00" r="1.00" fill="#ececec"/>
<circle cx="82.95" cy="79.00" r="1.00" fill="#f3f3f3"/>
<circle cx="87.60" cy="79.00" r="1.00" fill="#ececec"/>
<circle cx="91.80" cy="79.00" r="1.00" fill="#f3f3f3"/>
<circle cx="96.45" cy="79.00" r="1.00" fill="#efefef"/>
<circle cx="100.65" cy="79.00" r="1.00" fill="#ececec"/>
<circle cx="105.30" cy="79.00" r="1.00" fill="#ececec"/>
<circle cx="109.50" cy="79.00" r="1.00" fill="#ececec"/>
<circle cx="114.15" cy="79.00" r="1.00" fill="#f7f7f7"/>
<circle cx="118.35" cy="79.00" r="1.00" fill="#f3f3f3"/>
<circle cx="123.00" cy="79.00" r="1.00" fill="#ececec"/>
<circle cx="127.20" cy="79.00" r="1.00" fill="#f3f3f3"/>
<circle cx="131.85" cy="79.00" r="1.00" fill="#f5f5f5"/>
<circle cx="136.05" cy="79.00" r="1.00" fill="#f5f5f5"/>
<circle cx="140.70" cy="79.00" r="1.00" fill="#efefef"/>
<circle cx="144.90" cy="79.00" r="1.00" fill="#f3f3f3"/>
<circle cx="149.55" cy="79.00" r="1.00" fill="#f3f3f3"/>
<circle cx="153.75" cy="79.00" r="1.00" fill="#ececec"/>
<circle cx="158.40" cy="79.00" r="1.00" fill="#f7f7f7"/>
<circle cx="162.60" cy="79.00" r="1.00" fill="#ececec"/>
<circle cx="34.50" cy="83.85" r="1.00" fill="#f3f3f3"/>
<circle cx="38.70" cy="83.85" r="1.00" fill="#f3f3f3"/>
<circle cx="43.35" cy="83.85" r="1.00" fill="#f7f7f7"/>
<circle cx="47.55" cy="83.85" r="1.00" fill="#efefef"/>
<circle cx="52.20" cy="83.85" r="1.00" fill="#ececec"/>
<circle cx="56.40" cy="83.85" r="1.00" fill="#ececec"/>
<circle cx="61.05" cy="83.85" r="1.00" fill="#ececec"/>
<circle cx="65.25" cy="83.85" r="1.00" fill="#ececec"/>
<circle cx="69.90" cy="83.85" r="1.00" fill="#f5f5f5"/>
<circle cx="74.10" cy="83.85" r="1.00" fill="#efefef"/>
<circle cx="78.75" cy="83.85" r="1.00" fill="#f7f7f7"/>
<circle cx="82.95" cy="83.85" r="1.00" fill="#ececec"/>
<circle cx="87.60" cy="83.85" r="1.00" fill="#ececec"/>
<circle cx="91.80" cy="83.85" r="1.00" fill="#f7f7f7"/>
<circle cx="96.45" cy="83.85" r="1.00" fill="#ececec"/>
<circle cx="100.65" cy="83.85" r="1.00" fill="#f5f5f5"/>
<circle cx="105.30" cy="83.85" r="1.00" fill="#ececec"/>
<circle cx="109.50" cy="83.85" r="1.00" fill="#efefef"/>
<circle cx="114.15" cy="83.85" r="1.00" fill="#ececec"/>
<circle cx="118.35" cy="83.85" r="1.00" fill="#f5f5f5"/>
<circle cx="123.00" cy="83.85" r="1.00" fill="#f7f7f7"/>
<circle cx="127.20" cy="83.85" r="1.00" fill="#f5f5f5"/>
<circle cx="131.85" cy="83.85" r="1.00" fill="#f7f7f7"/>
<circle cx="136.05" cy="83.85" r="1.00" fill="#f3f3f3"/>
<circle cx="140.70" cy="83.85" r="1.00" fill="#f7f7f7"/>
<circle cx="144.90" cy="83.85" r="1.00" fill="#f7f7f7"/>
<circle cx="149.55" cy="83.85" r="1.00" fill="#efefef"/>
<circle cx="153.75" cy="83.85" r="1.00" fill="#f3f3f3"/>
<circle cx="158.40" cy="83.85" r="1.00" fill="#f5f5f5"/>
<circle cx="162.60" cy="83.85" r="1.00" fill="#f7f7f7"/>
<circle cx="34.50" cy="88.70" r="1.00" fill="#f3f3f3"/>
<circle cx="38.70" cy="88.70" r="1.00" fill="#f5f5f5"/>
<circle cx="43.35" cy="88.70" r="1.00" fill="#efefef"/>
<circle cx="47.55" cy="88.70" r="1.00" fill="#f3f3f3"/>
<circle cx="52.20" cy="88.70" r="1.00" fill="#f5f5f5"/>
<circle cx="56.40" cy="88.70" r="1.00" fill="#efefef"/>
<circle cx="61.05" cy="88.70" r="1.00" fill="#f5f5f5"/>
<circle cx="65.25" cy="88.70" r="1.00" fill="#efefef"/>
<circle cx="69.90" cy="88.70" r="1.00" fill="#f5f5f5"/>
<circle cx="74.10" cy="88.70" r="1.00" fill="#f7f7f7"/>
<circle cx="78.75" cy="88.70" r="1.00" fill="#f5f5f5"/>
<circle cx="82.95" cy="88.70" r="1.00" fill="#f3f3f3"/>
<circle cx="87.60" cy="88.70" r="1.00" fill="#f7f7f7"/>
<circle cx="91.80" cy="88.70" r="1.00" fill="#f7f7f7"/>
<circle cx="96.45" cy="88.70" r="1.00" fill="#f5f5f5"/>
<circle cx="100.65" cy="88.70" r="1.00" fill="#f5f5f5"/>
<circle cx="105.30" cy="88.70" r="1.00" fill="#f5f5f5"/>
<circle cx="109.50" cy="88.70" r="1.00" fill="#f7f7f7"/>
<circle cx="114.15" cy="88.70" r="1.00" fill="#ececec"/>
<circle cx="118.35" cy="88.70" r="1.00" fill="#f7f7f7"/>
<circle cx="123.00" cy="88.70" r="1.00" fill="#efefef"/>
<circle cx="127.20" cy="88.70" r="1.00" fill="#f7f7f7"/>
<circle cx="131.85" cy="88.70" r="1.00" fill="#f5f5f5"/>
<circle cx="136.05" cy="88.70" r="1.00" fill="#efefef"/>
<circle cx="140.70" cy="88.70" r="1.00" fill="#efefef"/>
<circle cx="144.90" cy="88.70" r="1.00" fill="#f3f3f3"/>
<circle cx="149.55" cy="88.70" r="1.00" fill="#efefef"/>
<circle cx="153.75" cy="88.70" r="1.00" fill="#f3f3f3"/>
<circle cx="158.40" cy="88.70" r="1.00" fill="#efefef"/>
<circle cx="162.60" cy="88.70" r="1.00" fill="#ececec"/>
<circle cx="34.50" cy="93.55" r="1.00" fill="#f7f7f7"/>
<circle cx="38.70" cy="93.55" r="1.00" fill="#f7f7f7"/>
<circle cx="43.35" cy="93.55" r="1.00" fill="#f3f3f3"/>
<circle cx="47.55" cy="93.55" r="1.00" fill="#f7f7f7"/>
<circle cx="52.20" cy="93.55" r="1.00" fill="#efefef"/>
<circle cx="56.40" cy="93.55" r="1.00" fill="#ececec"/>
<circle cx="61.05" cy="93.55" r="1.00" fill="#ececec"/>
<circle cx="65.25" cy="93.55" r="1.00" fill="#efefef"/>
<circle cx="69.90" cy="93.55" r="1.00" fill="#ececec"/>
<circle cx="74.10" cy="93.55" r="1.00" fill="#f3f3f3"/>
<circle cx="78.75" cy="93.55" r="1.00" fill="#f3f3f3"/>
<circle cx="82.95" cy="93.55" r="1.00" fill="#f5f5f5"/>
<circle cx="87.60" cy="93.55" r="1.00" fill="#f3f3f3"/>
<circle cx="91.80" cy="93.55" r="1.00" fill="#f3f3f3"/>
<circle cx="96.45" cy="93.55" r="1.00" fill="#efefef"/>
<circle cx="100.65" cy="93.55" r="1.00" fill="#efefef"/>
<circle cx="105.30" cy="93.55" r="1.00" fill="#f3f3f3"/>
<circle cx="109.50" cy="93.55" r="1.00" fill="#f5f5f5"/>
<circle cx="114.15" cy="93.55" r="1.00" fill="#efefef"/>
<circle cx="118.35" cy="93.55" r="1.00" fill="#f5f5f5"/>
<circle cx="123.00" cy="93.55" r="1.00" fill="#f7f7f7"/>
<circle cx="127.20" cy="93.55" r="1.00" fill="#efefef"/>
<circle cx="131.85" cy="93.55" r="1.00" fill="#f7f7f7"/>
<circle cx="136.05" cy="93.55" r="1.00" fill="#f5f5f5"/>
<circle cx="140.70" cy="93.55" r="1.00" fill="#ececec"/>
<circle cx="144.90" cy="93.55" r="1.00" fill="#ececec"/>
<circle cx="149.55" cy="93.55" r="1.00" fill="#ececec"/>
<circle cx="153.75" cy="93.55" r="1.00" fill="#f7f7f7"/>
<circle cx="158.40" cy="93.55" r="1.00" fill="#efefef"/>
<circle cx="162.60" cy="93.55" r="1.00" fill="#f3f3f3"/>
<circle cx="34.50" cy="98.40" r="1.00" fill="#efefef"/>
<circle cx="38.70" cy="98.40" r="1.00" fill="#f3f3f3"/>
<circle cx="43.35" cy="98.40" r="1.00" fill="#f5f5f5"/>
<circle cx="47.55" cy="98.40" r="1.00" fill="#f7f7f7"/>
<circle cx="52.20" cy="98.40" r="1.00" fill="#f3f3f3"/>
<circle cx="56.40" cy="98.40" r="1.00" fill="#efefef"/>
<circle cx="61.05" cy="98.40" r="1.00" fill="#f3f3f3"/>
<circle cx="65.25" cy="98.40" r="1.00" fill="#f3f3f3"/>
<circle cx="69.90" cy="98.40" r="1.00" fill="#efefef"/>
<circle cx="74.10" cy="98.40" r="1.00" fill="#f3f3f3"/>
<circle cx="78.75" cy="98.40" r="1.00" fill="#ececec"/>
<circle cx="82.95" cy="98.40" r="1.00" fill="#f5f5f5"/>
<circle cx="87.60" cy="98.40" r="1.00" fill="#f3f3f3"/>
<circle cx="91.80" cy="98.40" r="1.00" fill="#efefef"/>
<circle cx="96.45" cy="98.40" r="1.00" fill="#f3f3f3"/>
<circle cx="100.65" cy="98.40" r="1.00" fill="#f7f7f7"/>
<circle cx="105.30" cy="98.40" r="1.00" fill="#f3f3f3"/>
<circle cx="109.50" cy="98.40" r="1.00" fill="#efefef"/>
<circle cx="114.15" cy="98.40" r="1.00" fill="#ececec"/>
<circle cx="118.35" cy="98.40" r="1.00" fill="#f7f7f7"/>
<circle cx="123.00" cy="98.40" r="1.00" fill="#efefef"/>
<circle cx="127.20" cy="98.40" r="1.00" fill="#ececec"/>
<circle cx="131.85" cy="98.40" r="1.00" fill="#f5f5f5"/>
<circle cx="136.05" cy="98.40" r="1.00" fill="#f3f3f3"/>
<circle cx="140.70" cy="98.40" r="1.00" fill="#ececec"/>
<circle cx="144.90" cy="98.40" r="1.00" fill="#f5f5f5"/>
<circle cx="149.55" cy="98.40" r="1.00" fill="#f3f3f3"/>
<circle cx="153.75" cy="98.40" r="1.00" fill="#f5f5f5"/>
<circle cx="158.40" cy="98.40" r="1.00" fill="#efefef"/>
<circle cx="162.60" cy="98.40" r="1.00" fill="#f3f3f3"/>
<circle cx="34.50" cy="103.25" r="1.00" fill="#f5f5f5"/>
<circle cx="38.70" cy="103.25" r="1.00" fill="#f5f5f5"/>
<circle cx="43.35" cy="103.25" r="1.00" fill="#efefef"/>
<circle cx="47.55" cy="103.25" r="1.00" fill="#efefef"/>
<circle cx="52.20" cy="103.25" r="1.00" fill="#ececec"/>
<circle cx="56.40" cy="103.25" r="1.00" fill="#f5f5f5"/>
<circle cx="61.05" cy="103.25" r="1.00" fill="#efefef"/>
<circle cx="65.25" cy="103.25" r="1.00" fill="#f7f7f7"/>
<circle cx="69.90" cy="103.25" r="1.00" fill="#ececec"/>
<circle cx="74.10" cy="103.25" r="1.00" fill="#f5f5f5"/>
<circle cx="78.75" cy="103.25" r="1.00" fill="#efefef"/>
<circle cx="82.95" cy="103.25" r="1.00" fill="#efefef"/>
<circle cx="87.60" cy="103.25" r="1.00" fill="#f3f3f3"/>
<circle cx="91.80" cy="103.25" r="1.00" fill="#efefef"/>
<circle cx="96.45" cy="103.25" r="1.00" fill="#f3f3f3"/>
<circle cx="100.65" cy="103.25" r="1.00" fill="#f3f3f3"/>
<circle cx="105.30" cy="103.25" r="1.00" fill="#f3f3f3"/>
<circle cx="109.50" cy="103.25" r="1.00" fill="#ececec"/>
<circle cx="114.15" cy="103.25" r="1.00" fill="#ececec"/>
<circle cx="118.35" cy="103.25" r="1.00" fill="#f5f5f5"/>
<circle cx="123.00" cy="103.25" r="1.00" fill="#ececec"/>
<circle cx="127.20" cy="103.25" r="1.00" fill="#f7f7f7"/>
<circle cx="131.85" cy="103.25" r="1.00" fill="#f5f5f5"/>
<circle cx="136.05" cy="103.25" r="1.00" fill="#f7f7f7"/>
<circle cx="140.70" cy="103.25" r="1.00" fill="#f3f3f3"/>
<circle cx="144.90" cy="103.25" r="1.00" fill="#f7f7f7"/>
<circle cx="149.55" cy="103.25" r="1.00" fill="#f7f7f7"/>
<circle cx="153.75" cy="103.25" r="1.00" fill="#ececec"/>
<circle cx="158.40" cy="103.25" r="1.00" fill="#f7f7f7"/>
<circle cx="162.60" cy="103.25" r="1.00" fill="#ececec"/>
<circle cx="34.50" cy="108.10" r="1.00" fill="#efefef"/>
<circle cx="38.70" cy="108.10" r="1.00" fill="#f5f5f5"/>
<circle cx="43.35" cy="108.10" r="1.00" fill="#f5f5f5"/>
<circle cx="47.55" cy="108.10" r="1.00" fill="#efefef"/>
<circle cx="52.20" cy="108.10" r="1.00" fill="#f5f5f5"/>
<circle cx="56.40" cy="108.10" r="1.00" fill="#f5f5f5"/>
<circle cx="61.05" cy="108.10" r="1.00" fill="#f7f7f7"/>
<circle cx="65.25" cy="108.10" r="1.00" fill="#efefef"/>
<circle cx="69.90" cy="108.10" r="1.00" fill="#f3f3f3"/>
<circle cx="74.10" cy="108.10" r="1.00" fill="#f5f5f5"/>
<circle cx="78.75" cy="108.10" r="1.00" fill="#f3f3f3"/>
<circle cx="82.95" cy="108.10" r="1.00" fill="#f3f3f3"/>
<circle cx="87.60" cy="108.10" r="1.00" fill="#efefef"/>
<circle cx="91.80" cy="108.10" r="1.00" fill="#f7f7f7"/>
<circle cx="96.45" cy="108.10" r="1.00" fill="#f5f5f5"/>
<circle cx="100.65" cy="108.10" r="1.00" fill="#f3f3f3"/>
<circle cx="105.30" cy="108.10" r="1.00" fill="#f3f3f3"/>
<circle cx="109.50" cy="108.10" r="1.00" fill="#f7f7f7"/>
<circle cx="114.15" cy="108.10" r="1.00" fill="#ececec"/>
<circle cx="118.35" cy="108.10" r="1.00" fill="#efefef"/>
<circle cx="123.00" cy="108.10" r="1.00" fill="#ececec"/>
<circle cx="127.20" cy="108.10" r="1.00" fill="#f5f5f5"/>
<circle cx="131.85" cy="108.10" r="1.00" fill="#efefef"/>
<circle cx="136.05" cy="108.10" r="1.00" fill="#f3f3f3"/>
<circle cx="140.70" cy="108.10" r="1.00" fill="#f7f7f7"/>
<circle cx="144.90" cy="108.10" r="1.00" fill="#f5f5f5"/>
<circle cx="149.55" cy="108.10" r="1.00" fill="#f5f5f5"/>
<circle cx="153.75" cy="108.10" r="1.00" fill="#efefef"/>
<circle cx="158.40" cy="108.10" r="1.00" fill="#f7f7f7"/>
<circle cx="162.60" cy="108.10" r="1.00" fill="#f3f3f3"/>
<circle cx="34.50" cy="112.95" r="1.00" fill="#efefef"/>
<circle cx="38.70" cy="112.95" r="1.00" fill="#efefef"/>
<circle cx="43.35" cy="112.95" r="1.00" fill="#efefef"/>
<circle cx="47.55" cy="112.95" r="1.00" fill="#ececec"/>
<circle cx="52.20" cy="112.95" r="1.00" fill="#efefef"/>
<circle cx="56.40" cy="112.95" r="1.00" fill="#f5f5f5"/>
<circle cx="61.05" cy="112.95" r="1.00" fill="#f3f3f3"/>
<circle cx="65.25" cy="112.95" r="1.00" fill="#efefef"/>
<circle cx="69.90" cy="112.95" r="1.00" fill="#f5f5f5"/>
<circle cx="74.10" cy="112.95" r="1.00" fill="#efefef"/>
<circle cx="78.75" cy="112.95" r="1.00" fill="#f5f5f5"/>
<circle cx="82.95" cy="112.95" r="1.00" fill="#f3f3f3"/>
<circle cx="87.60" cy="112.95" r="1.00" fill="#efefef"/>
<circle cx="91.80" cy="112.95" r="1.00" fill="#f7f7f7"/>
<circle cx="96.45" cy="112.95" r="1.00" fill="#f3f3f3"/>
<circle cx="100.65" cy="112.95" r="1.00" fill="#f7f7f7"/>
<circle cx="105.30" cy="112.95" r="1.00" fill="#efefef"/>
<circle cx="109.50" cy="112.95" r="1.00" fill="#ececec"/>
<circle cx="114.15" cy="112.95" r="1.00" fill="#f5f5f5"/>
<circle cx="118.35" cy="112.95" r="1.00" fill="#f5f5f5"/>
<circle cx="123.00" cy="112.95" r="1.00" fill="#ececec"/>
<circle cx="127.20" cy="112.95" r="1.00" fill="#f3f3f3"/>
<circle cx="131.85" cy="112.95" r="1.00" fill="#f3f3f3"/>
<circle cx="136.05" cy="112.95" r="1.00" fill="#efefef"/>
<circle cx="140.70" cy="112.95" r="1.00" fill="#f3f3f3"/>
<circle cx="144.90" cy="112.95" r="1.00" fill="#f5f5f5"/>
<circle cx="149.55" cy="112.95" r="1.00" fill="#f7f7f7"/>
<circle cx="153.75" cy="112.95" r="1.00" fill="#ececec"/>
<circle cx="158.40" cy="112.95" r="1.00" fill="#f3f3f3"/>
<circle cx="162.60" cy="112.95" r="1.00" fill="#f7f7f7"/>
<circle cx="34.50" cy="117.80" r="1.00" fill="#f3f3f3"/>
<circle cx="38.70" cy="117.80" r="1.00" fill="#efefef"/>
<circle cx="43.35" cy="117.80" r="1.00" fill="#efefef"/>
<circle cx="47.55" cy="117.80" r="1.00" fill="#f5f5f5"/>
<circle cx="52.20" cy="117.80" r="1.00" fill="#f3f3f3"/>
<circle cx="56.40" cy="117.80" r="1.00" fill="#ececec"/>
<circle cx="61.05" cy="117.80" r="1.00" fill="#ececec"/>
<circle cx="65.25" cy="117.80" r="1.00" fill="#f5f5f5"/>
<circle cx="69.90" cy="117.80" r="1.00" fill="#ececec"/>
<circle cx="74.10" cy="117.80" r="1.00" fill="#f7f7f7"/>
<circle cx="78.75" cy="117.80" r="1.00" fill="#efefef"/>
<circle cx="82.95" cy="117.80" r="1.00" fill="#f7f7f7"/>
<circle cx="87.60" cy="117.80" r="1.00" fill="#f5f5f5"/>
<circle cx="91.80" cy="117.80" r="1.00" fill="#efefef"/>
<circle cx="96.45" cy="117.80" r="1.00" fill="#ececec"/>
<circle cx="100.65" cy="117.80" r="1.00" fill="#f5f5f5"/>
<circle cx="105.30" cy="117.80" r="1.00" fill="#f3f3f3"/>
<circle cx="109.50" cy="117.80" r="1.00" fill="#ececec"/>
<circle cx="114.15" cy="117.80" r="1.00" fill="#f7f7f7"/>
<circle cx="118.35" cy="117.80" r="1.00" fill="#ececec"/>
<circle cx="123.00" cy="117.80" r="1.00" fill="#f5f5f5"/>
<circle cx="127.20" cy="117.80" r="1.00" fill="#ececec"/>
<circle cx="131.85" cy="117.80" r="1.00" fill="#ececec"/>
<circle cx="136.05" cy="117.80" r="1.00" fill="#ececec"/>
<circle cx="140.70" cy="117.80" r="1.00" fill="#f3f3f3"/>
<circle cx="144.90" cy="117.80" r="1.00" fill="#ececec"/>
<circle cx="149.55" cy="117.80" r="1.00" fill="#f5f5f5"/>
<circle cx="153.75" cy="117.80" r="1.00" fill="#f3f3f3"/>
<circle cx="158.40" cy="117.80" r="1.00" fill="#f3f3f3"/>
<circle cx="162.60" cy="117.80" r="1.00" fill="#f3f3f3"/>
<circle cx="34.50" cy="122.65" r="1.00" fill="#f5f5f5"/>
<circle cx="38.70" cy="122.65" r="1.00" fill="#efefef"/>
<circle cx="43.35" cy="122.65" r="1.00" fill="#f3f3f3"/>
<circle cx="47.55" cy="122.65" r="1.00" fill="#f7f7f7"/>
<circle cx="52.20" cy="122.65" r="1.00" fill="#f7f7f7"/>
<circle cx="56.40" cy="122.65" r="1.00" fill="#ececec"/>
<circle cx="61.05" cy="122.65" r="1.00" fill="#f3f3f3"/>
<circle cx="65.25" cy="122.65" r="1.00" fill="#f3f3f3"/>
<circle cx="69.90" cy="122.65" r="1.00" fill="#ececec"/>
<circle cx="74.10" cy="122.65" r="1.00" fill="#f5f5f5"/>
<circle cx="78.75" cy="122.65" r="1.00" fill="#f7f7f7"/>
<circle cx="82.95" cy="122.65" r="1.00" fill="#efefef"/>
<circle cx="87.60" cy="122.65" r="1.00" fill="#f3f3f3"/>
<circle cx="91.80" cy="122.65" r="1.00" fill="#f7f7f7"/>
<circle cx="96.45" cy="122.65" r="1.00" fill="#f3f3f3"/>
<circle cx="100.65" cy="122.65" r="1.00" fill="#ececec"/>
<circle cx="105.30" cy="122.65" r="1.00" fill="#ececec"/>
<circle cx="109.50" cy="122.65" r="1.00" fill="#f3f3f3"/>
<circle cx="114.15" cy="122.65" r="1.00" fill="#ececec"/>
<circle cx="118.35" cy="122.65" r="1.00" fill="#f3f3f3"/>
<circle cx="123.00" cy="122.65" r="1.00" fill="#f7f7f7"/>
<circle cx="127.20" cy="122.65" r="1.00" fill="#efefef"/>
<circle cx="131.85" cy="122.65" r="1.00" fill="#f3f3f3"/>
<circle cx="136.05" cy="122.65" r="1.00" fill="#efefef"/>
<circle cx="140.70" cy="122.65" r="1.00" fill="#f5f5f5"/>
<circle cx="144.90" cy="122.65" r="1.00" fill="#f5f5f5"/>
<circle cx="149.55" cy="122.65" r="1.00" fill="#f5f5f5"/>
<circle cx="153.75" cy="122.65" r="1.00" fill="#f7f7f7"/>
<circle cx="158.40" cy="122.65" r="1.00" fill="#f7f7f7"/>
<circle cx="162.60" cy="122.65" r="1.00" fill="#f7f7f7"/>
<circle cx="34.50" cy="127.50" r="1.00" fill="#f3f3f3"/>
<circle cx="38.70" cy="127.50" r="1.00" fill="#f7f7f7"/>
<circle cx="43.35" cy="127.50" r="1.00" fill="#efefef"/>
<circle cx="47.55" cy="127.50" r="1.00" fill="#f3f3f3"/>
<circle cx="52.20" cy="127.50" r="1.00" fill="#ececec"/>
<circle cx="56.40" cy="127.50" r="1.00" fill="#f5f5f5"/>
<circle cx="61.05" cy="127.50" r="1.00" fill="#f3f3f3"/>
<circle cx="65.25" cy="127.50" r="1.00" fill="#ececec"/>
<circle cx="69.90" cy="127.50" r="1.00" fill="#f5f5f5"/>
<circle cx="74.10" cy="127.50" r="1.00" fill="#efefef"/>
<circle cx="78.75" cy="127.50" r="1.00" fill="#efefef"/>
<circle cx="82.95" cy="127.50" r="1.00" fill="#efefef"/>
<circle cx="87.60" cy="127.50" r="1.00" fill="#ececec"/>
<circle cx="91.80" cy="127.50" r="1.00" fill="#ececec"/>
<circle cx="96.45" cy="127.50" r="1.00" fill="#f5f5f5"/>
<circle cx="100.65" cy="127.50" r="1.00" fill="#f3f3f3"/>
<circle cx="105.30" cy="127.50" r="1.00" fill="#f7f7f7"/>
<circle cx="109.50" cy="127.50" r="1.00" fill="#f3f3f3"/>
<circle cx="114.15" cy="127.50" r="1.00" fill="#f7f7f7"/>
<circle cx="118.35" cy="127.50" r="1.00" fill="#efefef"/>
<circle cx="123.00" cy="127.50" r="1.00" fill="#f3f3f3"/>
<circle cx="127.20" cy="127.50" r="1.00" fill="#f5f5f5"/>
<circle cx="131.85" cy="127.50" r="1.00" fill="#f7f7f7"/>
<circle cx="136.05" cy="127.50" r="1.00" fill="#efefef"/>
<circle cx="140.70" cy="127.50" r="1.00" fill="#ececec"/>
<circle cx="144.90" cy="127.50" r="1.00" fill="#efefef"/>
<circle cx="149.55" cy="127.50" r="1.00" fill="#f7f7f7"/>
<circle cx="153.75" cy="127.50" r="1.00" fill="#f7f7f7"/>
<circle cx="158.40" cy="127.50" r="1.00" fill="#f7f7f7"/>
<circle cx="162.60" cy="127.50" r="1.00" fill="#f3f3f3"/>
<circle cx="35.50" cy="15.00" r="2.20" fill="#0d0d0d"/>
<circle cx="39.70" cy="15.00" r="2.20" fill="#0d0d0d"/>
<circle cx="35.50" cy="64.00" r="2.20" fill="#0d0d0d"/>
<circle cx="39.70" cy="64.00" r="2.20" fill="#0d0d0d"/>
<circle cx="155.20" cy="15.60" r="2.40" fill="#0d0d0d"/>
<circle cx="159.60" cy="15.60" r="2.40" fill="#0d0d0d"/>
<circle cx="110.40" cy="20.10" r="1.50" fill="#111"/>
<circle cx="114.60" cy="20.10" r="1.50" fill="#111"/>
<circle cx="34.60" cy="31.60" r="1.30" fill="#8a8a8a"/>
<circle cx="38.60" cy="31.60" r="1.30" fill="#8a8a8a"/>
<circle cx="57.00" cy="37.00" r="1.20" fill="#c4c4c4"/>
<circle cx="61.50" cy="37.00" r="1.20" fill="#c4c4c4"/>
<circle cx="66.00" cy="37.00" r="1.20" fill="#b0b0b0"/>
<circle cx="70.50" cy="37.00" r="1.20" fill="#b0b0b0"/>
<circle cx="66.60" cy="46.60" r="1.40" fill="#111"/>
<circle cx="71.00" cy="46.60" r="1.40" fill="#111"/>
<circle cx="145.50" cy="20.20" r="1.10" fill="#c8c8c8"/>
<circle cx="149.60" cy="20.20" r="1.10" fill="#c8c8c8"/>
<circle cx="145.50" cy="24.80" r="1.10" fill="#c8c8c8"/>
<circle cx="149.60" cy="24.80" r="1.10" fill="#c8c8c8"/>
<circle cx="145.50" cy="37.20" r="1.20" fill="#b4b4b4"/>
<circle cx="149.60" cy="37.20" r="1.20" fill="#b4b4b4"/>
<circle cx="100.00" cy="24.50" r="1.10" fill="#cfcfcf"/>
<circle cx="104.20" cy="24.50" r="1.10" fill="#cfcfcf"/>
<circle cx="100.00" cy="46.50" r="1.10" fill="#cfcfcf"/>
<circle cx="104.20" cy="46.50" r="1.10" fill="#cfcfcf"/>
<circle cx="57.00" cy="63.50" r="1.10" fill="#d0d0d0"/>
<circle cx="61.20" cy="63.50" r="1.10" fill="#d0d0d0"/>
<circle cx="34.40" cy="79.00" r="2.20" fill="#0d0d0d"/>
<circle cx="38.60" cy="79.00" r="2.20" fill="#0d0d0d"/>
<circle cx="34.40" cy="127.20" r="2.20" fill="#0d0d0d"/>
<circle cx="38.60" cy="127.20" r="2.20" fill="#0d0d0d"/>
<circle cx="152.40" cy="79.40" r="2.40" fill="#0d0d0d"/>
<circle cx="157.00" cy="79.40" r="2.40" fill="#0d0d0d"/>
<circle cx="109.60" cy="83.20" r="2.20" fill="#0d0d0d"/>
<circle cx="114.20" cy="83.20" r="2.20" fill="#0d0d0d"/>
<circle cx="65.20" cy="78.60" r="1.10" fill="#222"/>
<circle cx="69.60" cy="78.60" r="1.10" fill="#222"/>
<circle cx="34.40" cy="96.60" r="1.40" fill="#111"/>
<circle cx="38.60" cy="96.60" r="1.40" fill="#111"/>
<circle cx="64.60" cy="101.00" r="2.00" fill="#0d0d0d"/>
<circle cx="69.20" cy="101.00" r="2.00" fill="#0d0d0d"/>
<circle cx="55.40" cy="101.00" r="1.10" fill="#c8c8c8"/>
<circle cx="59.80" cy="101.00" r="1.10" fill="#bbbbbb"/>
<circle cx="55.20" cy="110.80" r="1.30" fill="#111"/>
<circle cx="59.60" cy="110.80" r="1.30" fill="#111"/>
<circle cx="64.00" cy="110.80" r="1.30" fill="#111"/>
<circle cx="68.40" cy="110.80" r="1.30" fill="#111"/>
<circle cx="99.90" cy="110.60" r="1.30" fill="#111"/>
<circle cx="104.30" cy="110.60" r="1.30" fill="#111"/>
<circle cx="131.00" cy="122.40" r="1.40" fill="#3a3a3a"/>
<circle cx="135.40" cy="122.40" r="1.40" fill="#3a3a3a"/>
<circle cx="143.00" cy="122.40" r="1.30" fill="#8a8a8a"/>
<circle cx="147.40" cy="122.40" r="1.30" fill="#8a8a8a"/>
<circle cx="99.60" cy="88.60" r="1.20" fill="#9a9a9a"/>
<circle cx="104.00" cy="88.60" r="1.20" fill="#9a9a9a"/>
<circle cx="145.60" cy="83.60" r="1.20" fill="#a8a8a8"/>
<circle cx="150.00" cy="83.60" r="1.20" fill="#a8a8a8"/>
<circle cx="145.60" cy="88.30" r="1.20" fill="#9a9a9a"/>
<circle cx="150.00" cy="88.30" r="1.20" fill="#9a9a9a"/>
<circle cx="145.60" cy="102.20" r="1.20" fill="#9a9a9a"/>
<circle cx="150.00" cy="102.20" r="1.20" fill="#9a9a9a"/>
<circle cx="131.00" cy="88.50" r="1.10" fill="#c8c8c8"/>
<circle cx="135.20" cy="88.50" r="1.10" fill="#c8c8c8"/>
<circle cx="87.00" cy="120.40" r="1.10" fill="#c8c8c8"/>
<circle cx="91.20" cy="120.40" r="1.10" fill="#c8c8c8"/>
<circle cx="122.00" cy="115.40" r="1.10" fill="#c8c8c8"/>
<circle cx="126.20" cy="115.40" r="1.10" fill="#c8c8c8"/>
<circle cx="87.00" cy="115.40" r="1.10" fill="#d0d0d0"/>
<text x="75.3" y="21.2" font-size="9.2" font-weight="bold" text-anchor="start" fill="#1a1410">1</text>
<text x="44.0" y="35.6" font-size="9.2" font-weight="bold" text-anchor="start" fill="#1a1410">2</text>
<text x="76.0" y="42.0" font-size="9.2" font-weight="bold" text-anchor="start" fill="#1a1410">3</text>
<text x="57.0" y="57.2" font-size="9.2" font-weight="bold" text-anchor="start" fill="#1a1410">4</text>
<text x="99.7" y="59.2" font-size="9.2" font-weight="bold" text-anchor="start" fill="#1a1410">5</text>
<text x="132.2" y="52.6" font-size="9.2" font-weight="bold" text-anchor="start" fill="#1a1410">6</text>
<text x="143.5" y="52.2" font-size="9.2" font-weight="bold" text-anchor="start" fill="#1a1410">7</text>
<text x="75.3" y="82.0" font-size="9.2" font-weight="bold" text-anchor="start" fill="#1a1410">1</text>
<text x="44.0" y="100.2" font-size="9.2" font-weight="bold" text-anchor="start" fill="#1a1410">2</text>
<text x="75.5" y="105.2" font-size="9.2" font-weight="bold" text-anchor="start" fill="#1a1410">3</text>
<text x="55.0" y="121.6" font-size="9.2" font-weight="bold" text-anchor="start" fill="#1a1410">4</text>
<text x="99.7" y="121.6" font-size="9.2" font-weight="bold" text-anchor="start" fill="#1a1410">5</text>
<text x="130.6" y="119.0" font-size="9.2" font-weight="bold" text-anchor="start" fill="#1a1410">6</text>
<text x="142.8" y="119.0" font-size="9.2" font-weight="bold" text-anchor="start" fill="#1a1410">7</text>
<rect x="23.40" y="11.20" width="2.20" height="54.20" fill="#0a0a0a"/>
<rect x="23.40" y="75.20" width="2.20" height="55.20" fill="#0a0a0a"/>
<text x="0" y="0" font-size="9.6" font-weight="bold" text-anchor="middle" fill="#111" transform="translate(20.86 38.60) rotate(-90)">N-CM</text>
<text x="0" y="0" font-size="9.6" font-weight="bold" text-anchor="middle" fill="#111" transform="translate(20.86 103.00) rotate(-90)">HSS-CM</text>
<rect x="179.40" y="17.10" width="21.20" height="2.60" fill="#1a1a1a"/>
<line x1="180.60" y1="18.40" x2="199.40" y2="18.40" stroke="#fff" stroke-width="1.0"/>
<text x="213.2" y="21.7" font-size="9.6" font-weight="bold" text-anchor="start" fill="#1a1a1a">Angiogenin</text>
<rect x="179.40" y="27.05" width="21.20" height="2.60" fill="#1a1a1a"/>
<line x1="181.00" y1="28.35" x2="199.20" y2="28.35" stroke="#f4f4f4" stroke-width="0.9" stroke-dasharray="3.4 1.4"/>
<text x="213.2" y="31.650000000000002" font-size="9.6" font-weight="bold" text-anchor="start" fill="#1a1a1a">GRO-α</text>
<rect x="179.40" y="37.25" width="21.20" height="2.60" fill="#1a1a1a"/>
<line x1="180.60" y1="38.55" x2="199.40" y2="38.55" stroke="#b4b4b4" stroke-width="1.0"/>
<text x="213.2" y="41.849999999999994" font-size="9.6" font-weight="bold" text-anchor="start" fill="#1a1a1a">IL-8</text>
<rect x="179.40" y="47.15" width="21.20" height="2.60" fill="#1a1a1a"/>
<line x1="180.60" y1="48.45" x2="199.40" y2="48.45" stroke="#c8c8c8" stroke-width="1.0"/>
<line x1="181.00" y1="48.45" x2="199.20" y2="48.45" stroke="#f4f4f4" stroke-width="0.5" stroke-dasharray="3.4 1.4"/>
<text x="213.2" y="51.75" font-size="9.6" font-weight="bold" text-anchor="start" fill="#1a1a1a">Lipocalin-2</text>
<rect x="277.80" y="16.80" width="20.80" height="3.20" fill="#1a1a1a"/>
<line x1="279.00" y1="18.40" x2="297.50" y2="18.40" stroke="#6e6e6e" stroke-width="1.2"/>
<text x="310.6" y="21.7" font-size="9.6" font-weight="bold" text-anchor="start" fill="#1a1a1a">MIF</text>
<rect x="277.80" y="26.75" width="20.80" height="3.20" fill="#1a1a1a"/>
<line x1="279.00" y1="28.35" x2="297.50" y2="28.35" stroke="#bbb" stroke-width="0.8" stroke-dasharray="2.4 1.2"/>
<text x="310.6" y="31.650000000000002" font-size="9.6" font-weight="bold" text-anchor="start" fill="#1a1a1a">uPAR</text>
<rect x="277.80" y="36.95" width="20.80" height="3.20" fill="#1a1a1a"/>
<text x="310.6" y="41.849999999999994" font-size="9.6" font-weight="bold" text-anchor="start" fill="#1a1a1a">VEGF</text>
<line x1="211.00" y1="60.20" x2="211.00" y2="120.80" stroke="#111" stroke-width="1.8"/>
<line x1="210.20" y1="120.00" x2="331.00" y2="120.00" stroke="#111" stroke-width="1.8"/>
<line x1="205.20" y1="120.00" x2="211.00" y2="120.00" stroke="#111" stroke-width="1.6"/>
<text x="202.6" y="123.1" font-size="8.8" font-weight="bold" text-anchor="end" fill="#111">0</text>
<line x1="205.20" y1="100.30" x2="211.00" y2="100.30" stroke="#111" stroke-width="1.6"/>
<text x="202.6" y="103.39999999999999" font-size="8.8" font-weight="bold" text-anchor="end" fill="#111">5</text>
<line x1="205.20" y1="80.60" x2="211.00" y2="80.60" stroke="#111" stroke-width="1.6"/>
<text x="202.6" y="83.69999999999999" font-size="8.8" font-weight="bold" text-anchor="end" fill="#111">10</text>
<line x1="205.20" y1="60.90" x2="211.00" y2="60.90" stroke="#111" stroke-width="1.6"/>
<text x="202.6" y="64.0" font-size="8.8" font-weight="bold" text-anchor="end" fill="#111">15</text>
<text x="0" y="0" font-size="9.7" font-weight="bold" text-anchor="middle" fill="#111" transform="translate(189.09 94.20) rotate(-90)">Fold Increase</text>
<rect x="218.85" y="81.90" width="5.40" height="1.80" fill="#111"/>
<rect x="216.70" y="83.20" width="9.70" height="36.30" fill="#fff" stroke="#333" stroke-width="1.0"/>
<rect x="235.50" y="105.20" width="5.40" height="2.60" fill="#111"/>
<rect x="233.40" y="107.30" width="9.60" height="12.20" fill="url(#hatchA)" stroke="#333" stroke-width="1.0"/>
<rect x="251.70" y="82.70" width="5.40" height="2.90" fill="#111"/>
<rect x="249.60" y="85.10" width="9.60" height="34.40" fill="#b6b6b6" stroke="#333" stroke-width="1.0"/>
<rect x="267.70" y="65.50" width="5.40" height="2.40" fill="#111"/>
<rect x="265.40" y="67.40" width="10.00" height="52.10" fill="url(#hatchB)" stroke="#333" stroke-width="1.0"/>
<rect x="283.75" y="83.50" width="5.40" height="3.30" fill="#111"/>
<rect x="281.60" y="86.30" width="9.70" height="33.20" fill="#888888" stroke="#333" stroke-width="1.0"/>
<rect x="299.80" y="70.40" width="5.40" height="2.50" fill="#111"/>
<rect x="297.70" y="72.40" width="9.60" height="47.10" fill="#525252" stroke="#333" stroke-width="1.0"/>
<rect x="302.00" y="73.00" width="1.10" height="46.40" fill="#f0f0f0"/>
<rect x="316.10" y="109.80" width="5.40" height="2.20" fill="#111"/>
<rect x="314.10" y="111.50" width="9.40" height="8.00" fill="#151515" stroke="#333" stroke-width="1.0"/>
<text x="0.8" y="151.3" font-size="9.0" font-weight="bold" text-anchor="start" fill="#111">B</text>
<text x="108.0" y="160.6" font-size="9.95" font-weight="bold" text-anchor="middle" fill="#111">Human colorectal</text>
<text x="107.5" y="171.5" font-size="9.95" font-weight="bold" text-anchor="middle" fill="#111">adenocarcinoma(GSE28722)</text>
<rect x="49.20" y="173.60" width="119.00" height="78.60" fill="none" stroke="#111" stroke-width="2.0"/>
<line x1="44.20" y1="252.20" x2="49.20" y2="252.20" stroke="#111" stroke-width="2.0"/>
<text x="42.4" y="255.7" font-size="9.7" font-weight="bold" text-anchor="end" fill="#111">0.0</text>
<line x1="44.20" y1="237.72" x2="49.20" y2="237.72" stroke="#111" stroke-width="2.0"/>
<text x="42.4" y="241.22" font-size="9.7" font-weight="bold" text-anchor="end" fill="#111">0.2</text>
<line x1="44.20" y1="223.24" x2="49.20" y2="223.24" stroke="#111" stroke-width="2.0"/>
<text x="42.4" y="226.73999999999998" font-size="9.7" font-weight="bold" text-anchor="end" fill="#111">0.4</text>
<line x1="44.20" y1="208.76" x2="49.20" y2="208.76" stroke="#111" stroke-width="2.0"/>
<text x="42.4" y="212.26" font-size="9.7" font-weight="bold" text-anchor="end" fill="#111">0.6</text>
<line x1="44.20" y1="194.28" x2="49.20" y2="194.28" stroke="#111" stroke-width="2.0"/>
<text x="42.4" y="197.77999999999997" font-size="9.7" font-weight="bold" text-anchor="end" fill="#111">0.8</text>
<line x1="44.20" y1="179.80" x2="49.20" y2="179.80" stroke="#111" stroke-width="2.0"/>
<text x="42.4" y="183.29999999999998" font-size="9.7" font-weight="bold" text-anchor="end" fill="#111">1.0</text>
<line x1="49.20" y1="252.20" x2="49.20" y2="257.00" stroke="#111" stroke-width="2.0"/>
<line x1="68.87" y1="252.20" x2="68.87" y2="257.00" stroke="#111" stroke-width="2.0"/>
<line x1="88.54" y1="252.20" x2="88.54" y2="257.00" stroke="#111" stroke-width="2.0"/>
<line x1="108.21" y1="252.20" x2="108.21" y2="257.00" stroke="#111" stroke-width="2.0"/>
<line x1="127.88" y1="252.20" x2="127.88" y2="257.00" stroke="#111" stroke-width="2.0"/>
<line x1="147.55" y1="252.20" x2="147.55" y2="257.00" stroke="#111" stroke-width="2.0"/>
<line x1="167.22" y1="252.20" x2="167.22" y2="257.00" stroke="#111" stroke-width="2.0"/>
<text x="49.2" y="270.0" font-size="9.7" font-weight="bold" text-anchor="middle" fill="#111">0</text>
<text x="68.87" y="270.0" font-size="9.7" font-weight="bold" text-anchor="middle" fill="#111">1</text>
<text x="88.54" y="270.0" font-size="9.7" font-weight="bold" text-anchor="middle" fill="#111">2</text>
<text x="108.21000000000001" y="270.0" font-size="9.7" font-weight="bold" text-anchor="middle" fill="#111">3</text>
<text x="127.88000000000001" y="270.0" font-size="9.7" font-weight="bold" text-anchor="middle" fill="#111">4</text>
<text x="147.55" y="270.0" font-size="9.7" font-weight="bold" text-anchor="middle" fill="#111">5</text>
<text x="167.22000000000003" y="270.0" font-size="9.7" font-weight="bold" text-anchor="middle" fill="#111">6</text>
<text x="108.2" y="276.6" font-size="9.8" font-weight="bold" text-anchor="middle" fill="#111">Years</text>
<text x="0" y="0" font-size="9.7" font-weight="bold" text-anchor="middle" fill="#111" transform="translate(25.49 216.00) rotate(-90)">Time to metastasis</text>
<path d="M49.20,179.80 H53.53 V184.06 H55.10 V188.32 H61.40 V192.58 H65.33 V196.84 H67.89 V201.09 H87.56 V205.35 H88.54 V209.61 H94.44 V213.87 H96.80 V218.13 H99.95 V222.39 H100.74 V226.65 H116.08 V230.91 H120.01 V235.16 H128.27 V239.42 H129.85 V243.68 H131.81 V247.94 H166.24 V252.20 H166.24" stroke="#1aa757" stroke-width="2.1" fill="none"/>
<path d="M49.20,179.80 H51.56 V184.32 H55.10 V188.85 H58.05 V193.38 H61.40 V197.90 H65.92 V202.42 H67.89 V206.95 H69.85 V211.47 H70.84 V216.00 H72.41 V220.52 H73.20 V225.05 H73.98 V229.57 H80.28 V238.62 H83.03 V243.15 H86.18 V247.67 H126.90 V252.20 H126.90" stroke="#e2321f" stroke-width="2.1" fill="none"/>
<line x1="60.40" y1="178.20" x2="82.00" y2="178.20" stroke="#e2321f" stroke-width="2.1"/>
<line x1="71.00" y1="174.60" x2="71.00" y2="178.20" stroke="#e2321f" stroke-width="1.8"/>
<line x1="60.40" y1="186.10" x2="82.00" y2="186.10" stroke="#1aa757" stroke-width="2.1"/>
<line x1="71.00" y1="182.60" x2="71.00" y2="186.10" stroke="#1aa757" stroke-width="1.8"/>
<text x="94.3" y="181.5" font-size="6.9" font-weight="bold" text-anchor="start" fill="#222">high risk(n=16)</text>
<text x="94.3" y="189.5" font-size="6.9" font-weight="bold" text-anchor="start" fill="#222">low risk(n=17)</text>
<text x="94.3" y="197.2" font-size="6.9" font-weight="bold" text-anchor="start" fill="#222">p=0.004</text>
<rect x="230.20" y="190.60" width="97.80" height="58.30" fill="none" stroke="#555" stroke-width="0.9"/>
<line x1="230.20" y1="190.40" x2="230.20" y2="249.70" stroke="#222" stroke-width="1.4"/>
<line x1="229.70" y1="248.90" x2="328.40" y2="248.90" stroke="#222" stroke-width="1.4"/>
<line x1="233.20" y1="191.60" x2="233.20" y2="247.90" stroke="#c8c8c8" stroke-width="0.8"/>
<line x1="324.20" y1="191.60" x2="324.20" y2="247.90" stroke="#c8c8c8" stroke-width="0.8"/>
<line x1="227.60" y1="195.70" x2="230.20" y2="195.70" stroke="#333" stroke-width="1.0"/>
<text x="226.2" y="199.2" font-size="9.6" font-weight="bold" text-anchor="end" fill="#111">0.3</text>
<line x1="227.60" y1="219.30" x2="230.20" y2="219.30" stroke="#333" stroke-width="1.0"/>
<text x="226.2" y="222.8" font-size="9.6" font-weight="bold" text-anchor="end" fill="#111">0.0</text>
<line x1="227.60" y1="242.70" x2="230.20" y2="242.70" stroke="#333" stroke-width="1.0"/>
<text x="226.2" y="246.2" font-size="9.6" font-weight="bold" text-anchor="end" fill="#111">-0.3</text>
<line x1="228.60" y1="203.60" x2="230.20" y2="203.60" stroke="#555" stroke-width="0.8"/>
<line x1="228.60" y1="211.40" x2="230.20" y2="211.40" stroke="#555" stroke-width="0.8"/>
<line x1="228.60" y1="227.10" x2="230.20" y2="227.10" stroke="#555" stroke-width="0.8"/>
<line x1="228.60" y1="234.90" x2="230.20" y2="234.90" stroke="#555" stroke-width="0.8"/>
<circle cx="234.5" cy="171.8" r="2.4" fill="none" stroke="#b8261f" stroke-width="1.6"/>
<circle cx="234.5" cy="182.6" r="2.4" fill="none" stroke="#6fae2e" stroke-width="1.6"/>
<text x="240.5" y="175.20000000000002" font-size="9.7" font-weight="bold" text-anchor="start" fill="#111">high risk(n=16)</text>
<text x="240.5" y="186.0" font-size="9.7" font-weight="bold" text-anchor="start" fill="#111">low risk(n=17)</text>
<rect x="238.60" y="222.40" width="35.90" height="17.00" fill="none" stroke="#78c23a" stroke-width="0.9"/>
<line x1="238.60" y1="235.50" x2="274.50" y2="235.50" stroke="#78c23a" stroke-width="1.2"/>
<line x1="256.55" y1="222.40" x2="256.55" y2="219.00" stroke="#78c23a" stroke-width="0.9"/>
<line x1="256.55" y1="239.40" x2="256.55" y2="246.50" stroke="#78c23a" stroke-width="0.9"/>
<line x1="247.40" y1="219.00" x2="265.50" y2="219.00" stroke="#78c23a" stroke-width="0.9"/>
<line x1="247.40" y1="246.50" x2="265.50" y2="246.50" stroke="#78c23a" stroke-width="0.9"/>
<rect x="283.70" y="197.80" width="35.90" height="15.40" fill="none" stroke="#ee4a3a" stroke-width="0.9"/>
<line x1="283.70" y1="207.00" x2="319.60" y2="207.00" stroke="#ee4a3a" stroke-width="1.2"/>
<line x1="301.65" y1="197.80" x2="301.65" y2="194.60" stroke="#ee4a3a" stroke-width="0.9"/>
<line x1="301.65" y1="213.20" x2="301.65" y2="217.10" stroke="#ee4a3a" stroke-width="0.9"/>
<line x1="292.50" y1="194.60" x2="310.40" y2="194.60" stroke="#ee4a3a" stroke-width="0.9"/>
<line x1="292.50" y1="217.10" x2="310.40" y2="217.10" stroke="#ee4a3a" stroke-width="0.9"/>
<text x="301.5" y="197.6" font-size="10.5" font-weight="bold" text-anchor="middle" fill="#333">***</text>
<text x="278.2" y="259.0" font-size="9.7" font-weight="bold" text-anchor="middle" fill="#111">IL-8</text>
<text x="0" y="0" font-size="9.7" font-weight="bold" text-anchor="middle" fill="#111" transform="translate(198.69 217.50) rotate(-90)">Gene Expression</text>
<text x="0" y="0" font-size="9.7" font-weight="bold" text-anchor="middle" fill="#111" transform="translate(208.19 217.50) rotate(-90)">Level</text>
<text x="1.0" y="298.7" font-size="9.0" font-weight="bold" text-anchor="start" fill="#111">C</text>
<text x="108.4" y="304.4" font-size="9.95" font-weight="bold" text-anchor="middle" fill="#111">Human colorectal</text>
<text x="108.0" y="315.5" font-size="9.95" font-weight="bold" text-anchor="middle" fill="#111">adenocarcinoma(GSE14333)</text>
<text x="280.4" y="304.4" font-size="9.95" font-weight="bold" text-anchor="middle" fill="#111">Human colorectal</text>
<text x="280.0" y="315.5" font-size="9.95" font-weight="bold" text-anchor="middle" fill="#111">adenocarcinoma(GSE24550)</text>
<rect x="49.00" y="317.90" width="119.20" height="79.60" fill="none" stroke="#111" stroke-width="2.0"/>
<line x1="44.00" y1="397.50" x2="49.00" y2="397.50" stroke="#111" stroke-width="2.0"/>
<text x="42.4" y="401.0" font-size="9.7" font-weight="bold" text-anchor="end" fill="#111">0.0</text>
<line x1="44.00" y1="383.04" x2="49.00" y2="383.04" stroke="#111" stroke-width="2.0"/>
<text x="42.4" y="386.54" font-size="9.7" font-weight="bold" text-anchor="end" fill="#111">0.2</text>
<line x1="44.00" y1="368.58" x2="49.00" y2="368.58" stroke="#111" stroke-width="2.0"/>
<text x="42.4" y="372.08" font-size="9.7" font-weight="bold" text-anchor="end" fill="#111">0.4</text>
<line x1="44.00" y1="354.12" x2="49.00" y2="354.12" stroke="#111" stroke-width="2.0"/>
<text x="42.4" y="357.62" font-size="9.7" font-weight="bold" text-anchor="end" fill="#111">0.6</text>
<line x1="44.00" y1="339.66" x2="49.00" y2="339.66" stroke="#111" stroke-width="2.0"/>
<text x="42.4" y="343.15999999999997" font-size="9.7" font-weight="bold" text-anchor="end" fill="#111">0.8</text>
<line x1="44.00" y1="325.20" x2="49.00" y2="325.20" stroke="#111" stroke-width="2.0"/>
<text x="42.4" y="328.7" font-size="9.7" font-weight="bold" text-anchor="end" fill="#111">1.0</text>
<line x1="49.20" y1="397.50" x2="49.20" y2="402.30" stroke="#111" stroke-width="2.0"/>
<line x1="88.87" y1="397.50" x2="88.87" y2="402.30" stroke="#111" stroke-width="2.0"/>
<line x1="128.53" y1="397.50" x2="128.53" y2="402.30" stroke="#111" stroke-width="2.0"/>
<line x1="168.20" y1="397.50" x2="168.20" y2="402.30" stroke="#111" stroke-width="2.0"/>
<text x="49.2" y="415.1" font-size="9.7" font-weight="bold" text-anchor="middle" fill="#111">0</text>
<text x="88.86666666666667" y="415.1" font-size="9.7" font-weight="bold" text-anchor="middle" fill="#111">50</text>
<text x="128.53333333333333" y="415.1" font-size="9.7" font-weight="bold" text-anchor="middle" fill="#111">100</text>
<text x="168.2" y="415.1" font-size="9.7" font-weight="bold" text-anchor="middle" fill="#111">150</text>
<text x="107.8" y="421.6" font-size="9.7" font-weight="bold" text-anchor="middle" fill="#111">Months</text>
<text x="0" y="0" font-size="9.7" font-weight="bold" text-anchor="middle" fill="#111" transform="translate(25.09 362.00) rotate(-90)">Disease free survival</text>
<path d="M49.20,325.20 H50.79 V326.28 H52.37 V327.01 H53.96 V327.73 H55.55 V328.45 H57.13 V329.18 H59.51 V329.90 H61.89 V330.62 H64.27 V331.35 H66.65 V332.07 H69.03 V332.79 H70.62 V333.51 H73.00 V334.24 H75.38 V334.96 H77.76 V335.68 H80.93 V336.41 H84.11 V337.13 H96.80 H106.32 V337.85 H109.49 V338.94 H112.67 V340.38 H115.84 V341.83 H120.60 V343.64 H123.77 V345.81 H125.36 V347.61 H162.65" stroke="#1da455" stroke-width="2.4" fill="none"/>
<path d="M49.20,325.20 H50.79 V326.28 H51.58 V327.37 H53.17 V328.45 H54.75 V329.54 H56.34 V330.62 H57.93 V331.71 H59.51 V333.15 H61.10 V334.24 H62.69 V335.32 H64.27 V336.41 H65.86 V338.21 H67.45 V339.66 H69.03 V341.11 H70.62 V342.55 H72.21 V343.64 H73.79 V344.72 H75.38 V346.17 H76.97 V347.25 H78.55 V348.34 H80.93 V350.14 H82.52 V350.87 H116.63 H117.43 V366.05 H132.50" stroke="#ef6a45" stroke-width="2.4" fill="none"/>
<line x1="55.55" y1="328.45" x2="55.55" y2="325.05" stroke="#1da455" stroke-width="1.1"/>
<line x1="58.72" y1="329.18" x2="58.72" y2="325.78" stroke="#1da455" stroke-width="1.1"/>
<line x1="61.89" y1="330.62" x2="61.89" y2="327.22" stroke="#1da455" stroke-width="1.1"/>
<line x1="65.07" y1="331.35" x2="65.07" y2="327.95" stroke="#1da455" stroke-width="1.1"/>
<line x1="67.45" y1="332.07" x2="67.45" y2="328.67" stroke="#1da455" stroke-width="1.1"/>
<line x1="69.03" y1="332.79" x2="69.03" y2="329.39" stroke="#1da455" stroke-width="1.1"/>
<line x1="71.41" y1="333.51" x2="71.41" y2="330.11" stroke="#1da455" stroke-width="1.1"/>
<line x1="73.00" y1="334.24" x2="73.00" y2="330.84" stroke="#1da455" stroke-width="1.1"/>
<line x1="75.38" y1="334.96" x2="75.38" y2="331.56" stroke="#1da455" stroke-width="1.1"/>
<line x1="76.97" y1="334.96" x2="76.97" y2="331.56" stroke="#1da455" stroke-width="1.1"/>
<line x1="79.35" y1="335.68" x2="79.35" y2="332.28" stroke="#1da455" stroke-width="1.1"/>
<line x1="82.52" y1="336.41" x2="82.52" y2="333.01" stroke="#1da455" stroke-width="1.1"/>
<line x1="84.90" y1="337.13" x2="84.90" y2="333.73" stroke="#1da455" stroke-width="1.1"/>
<line x1="87.28" y1="337.13" x2="87.28" y2="333.73" stroke="#1da455" stroke-width="1.1"/>
<line x1="88.87" y1="337.13" x2="88.87" y2="333.73" stroke="#1da455" stroke-width="1.1"/>
<line x1="90.45" y1="337.13" x2="90.45" y2="333.73" stroke="#1da455" stroke-width="1.1"/>
<line x1="92.83" y1="337.13" x2="92.83" y2="333.73" stroke="#1da455" stroke-width="1.1"/>
<line x1="94.42" y1="337.13" x2="94.42" y2="333.73" stroke="#1da455" stroke-width="1.1"/>
<line x1="96.80" y1="337.13" x2="96.80" y2="333.73" stroke="#1da455" stroke-width="1.1"/>
<line x1="98.39" y1="337.13" x2="98.39" y2="333.73" stroke="#1da455" stroke-width="1.1"/>
<line x1="100.77" y1="337.13" x2="100.77" y2="333.73" stroke="#1da455" stroke-width="1.1"/>
<line x1="103.15" y1="337.13" x2="103.15" y2="333.73" stroke="#1da455" stroke-width="1.1"/>
<line x1="105.53" y1="337.13" x2="105.53" y2="333.73" stroke="#1da455" stroke-width="1.1"/>
<line x1="107.91" y1="337.85" x2="107.91" y2="334.45" stroke="#1da455" stroke-width="1.1"/>
<line x1="111.08" y1="338.94" x2="111.08" y2="335.54" stroke="#1da455" stroke-width="1.1"/>
<line x1="114.25" y1="340.38" x2="114.25" y2="336.98" stroke="#1da455" stroke-width="1.1"/>
<line x1="117.43" y1="341.83" x2="117.43" y2="338.43" stroke="#1da455" stroke-width="1.1"/>
<line x1="128.53" y1="347.61" x2="128.53" y2="344.21" stroke="#1da455" stroke-width="1.1"/>
<line x1="131.71" y1="347.61" x2="131.71" y2="344.21" stroke="#1da455" stroke-width="1.1"/>
<line x1="133.29" y1="347.61" x2="133.29" y2="344.21" stroke="#1da455" stroke-width="1.1"/>
<line x1="136.47" y1="347.61" x2="136.47" y2="344.21" stroke="#1da455" stroke-width="1.1"/>
<line x1="138.85" y1="347.61" x2="138.85" y2="344.21" stroke="#1da455" stroke-width="1.1"/>
<line x1="141.23" y1="347.61" x2="141.23" y2="344.21" stroke="#1da455" stroke-width="1.1"/>
<line x1="144.40" y1="347.61" x2="144.40" y2="344.21" stroke="#1da455" stroke-width="1.1"/>
<line x1="145.99" y1="347.61" x2="145.99" y2="344.21" stroke="#1da455" stroke-width="1.1"/>
<line x1="150.75" y1="347.61" x2="150.75" y2="344.21" stroke="#1da455" stroke-width="1.1"/>
<line x1="160.27" y1="347.61" x2="160.27" y2="344.21" stroke="#1da455" stroke-width="1.1"/>
<line x1="161.85" y1="347.61" x2="161.85" y2="344.21" stroke="#1da455" stroke-width="1.1"/>
<line x1="57.13" y1="330.62" x2="57.13" y2="327.22" stroke="#ef6a45" stroke-width="1.1"/>
<line x1="61.89" y1="334.24" x2="61.89" y2="330.84" stroke="#ef6a45" stroke-width="1.1"/>
<line x1="66.65" y1="338.21" x2="66.65" y2="334.81" stroke="#ef6a45" stroke-width="1.1"/>
<line x1="69.83" y1="341.11" x2="69.83" y2="337.71" stroke="#ef6a45" stroke-width="1.1"/>
<line x1="73.00" y1="343.64" x2="73.00" y2="340.24" stroke="#ef6a45" stroke-width="1.1"/>
<line x1="75.38" y1="346.17" x2="75.38" y2="342.77" stroke="#ef6a45" stroke-width="1.1"/>
<line x1="77.76" y1="347.25" x2="77.76" y2="343.85" stroke="#ef6a45" stroke-width="1.1"/>
<line x1="79.35" y1="348.34" x2="79.35" y2="344.94" stroke="#ef6a45" stroke-width="1.1"/>
<line x1="87.28" y1="350.87" x2="87.28" y2="347.47" stroke="#ef6a45" stroke-width="1.1"/>
<line x1="92.04" y1="350.87" x2="92.04" y2="347.47" stroke="#ef6a45" stroke-width="1.1"/>
<line x1="93.63" y1="350.87" x2="93.63" y2="347.47" stroke="#ef6a45" stroke-width="1.1"/>
<line x1="95.21" y1="350.87" x2="95.21" y2="347.47" stroke="#ef6a45" stroke-width="1.1"/>
<line x1="98.39" y1="350.87" x2="98.39" y2="347.47" stroke="#ef6a45" stroke-width="1.1"/>
<line x1="99.97" y1="350.87" x2="99.97" y2="347.47" stroke="#ef6a45" stroke-width="1.1"/>
<line x1="101.56" y1="350.87" x2="101.56" y2="347.47" stroke="#ef6a45" stroke-width="1.1"/>
<line x1="104.73" y1="350.87" x2="104.73" y2="347.47" stroke="#ef6a45" stroke-width="1.1"/>
<line x1="107.91" y1="350.87" x2="107.91" y2="347.47" stroke="#ef6a45" stroke-width="1.1"/>
<line x1="112.67" y1="350.87" x2="112.67" y2="347.47" stroke="#ef6a45" stroke-width="1.1"/>
<line x1="115.84" y1="350.87" x2="115.84" y2="347.47" stroke="#ef6a45" stroke-width="1.1"/>
<line x1="120.60" y1="366.05" x2="120.60" y2="362.65" stroke="#ef6a45" stroke-width="1.1"/>
<line x1="125.36" y1="366.05" x2="125.36" y2="362.65" stroke="#ef6a45" stroke-width="1.1"/>
<line x1="130.91" y1="366.05" x2="130.91" y2="362.65" stroke="#ef6a45" stroke-width="1.1"/>
<line x1="53.90" y1="373.60" x2="74.90" y2="373.60" stroke="#ef6a45" stroke-width="2.1"/>
<line x1="64.40" y1="370.20" x2="64.40" y2="373.60" stroke="#ef6a45" stroke-width="1.8"/>
<line x1="53.90" y1="381.80" x2="74.90" y2="381.80" stroke="#1da455" stroke-width="2.1"/>
<line x1="64.40" y1="378.40" x2="64.40" y2="381.80" stroke="#1da455" stroke-width="1.8"/>
<text x="86.7" y="377.0" font-size="7.0" font-weight="bold" text-anchor="start" fill="#222">high risk(n=64)</text>
<text x="86.7" y="385.2" font-size="7.0" font-weight="bold" text-anchor="start" fill="#222">low risk(n=162)</text>
<text x="86.7" y="392.0" font-size="7.0" font-weight="bold" text-anchor="start" fill="#222">p=0.011</text>
<rect x="221.00" y="317.90" width="119.30" height="79.60" fill="none" stroke="#111" stroke-width="2.0"/>
<line x1="216.00" y1="397.50" x2="221.00" y2="397.50" stroke="#111" stroke-width="2.0"/>
<text x="214.4" y="401.0" font-size="9.7" font-weight="bold" text-anchor="end" fill="#111">0.0</text>
<line x1="216.00" y1="383.04" x2="221.00" y2="383.04" stroke="#111" stroke-width="2.0"/>
<text x="214.4" y="386.54" font-size="9.7" font-weight="bold" text-anchor="end" fill="#111">0.2</text>
<line x1="216.00" y1="368.58" x2="221.00" y2="368.58" stroke="#111" stroke-width="2.0"/>
<text x="214.4" y="372.08" font-size="9.7" font-weight="bold" text-anchor="end" fill="#111">0.4</text>
<line x1="216.00" y1="354.12" x2="221.00" y2="354.12" stroke="#111" stroke-width="2.0"/>
<text x="214.4" y="357.62" font-size="9.7" font-weight="bold" text-anchor="end" fill="#111">0.6</text>
<line x1="216.00" y1="339.66" x2="221.00" y2="339.66" stroke="#111" stroke-width="2.0"/>
<text x="214.4" y="343.15999999999997" font-size="9.7" font-weight="bold" text-anchor="end" fill="#111">0.8</text>
<line x1="216.00" y1="325.20" x2="221.00" y2="325.20" stroke="#111" stroke-width="2.0"/>
<text x="214.4" y="328.7" font-size="9.7" font-weight="bold" text-anchor="end" fill="#111">1.0</text>
<line x1="221.20" y1="397.50" x2="221.20" y2="402.30" stroke="#111" stroke-width="2.0"/>
<line x1="240.95" y1="397.50" x2="240.95" y2="402.30" stroke="#111" stroke-width="2.0"/>
<line x1="260.70" y1="397.50" x2="260.70" y2="402.30" stroke="#111" stroke-width="2.0"/>
<line x1="280.45" y1="397.50" x2="280.45" y2="402.30" stroke="#111" stroke-width="2.0"/>
<line x1="300.20" y1="397.50" x2="300.20" y2="402.30" stroke="#111" stroke-width="2.0"/>
<line x1="319.95" y1="397.50" x2="319.95" y2="402.30" stroke="#111" stroke-width="2.0"/>
<line x1="339.70" y1="397.50" x2="339.70" y2="402.30" stroke="#111" stroke-width="2.0"/>
<text x="221.2" y="415.1" font-size="9.7" font-weight="bold" text-anchor="middle" fill="#111">0</text>
<text x="240.95" y="415.1" font-size="9.7" font-weight="bold" text-anchor="middle" fill="#111">10</text>
<text x="260.7" y="415.1" font-size="9.7" font-weight="bold" text-anchor="middle" fill="#111">20</text>
<text x="280.45" y="415.1" font-size="9.7" font-weight="bold" text-anchor="middle" fill="#111">30</text>
<text x="300.2" y="415.1" font-size="9.7" font-weight="bold" text-anchor="middle" fill="#111">40</text>
<text x="319.95" y="415.1" font-size="9.7" font-weight="bold" text-anchor="middle" fill="#111">50</text>
<text x="339.7" y="415.1" font-size="9.7" font-weight="bold" text-anchor="middle" fill="#111">60</text>
<text x="279.8" y="421.6" font-size="9.7" font-weight="bold" text-anchor="middle" fill="#111">Months</text>
<text x="0" y="0" font-size="9.7" font-weight="bold" text-anchor="middle" fill="#111" transform="translate(196.99 361.00) rotate(-90)">Overall survival</text>
<path d="M221.20,325.20 H235.02 V326.65 H238.97 V327.73 H246.88 V328.09 H258.72 V329.18 H268.60 V330.26 H272.55 V331.35 H278.48 V332.43 H288.35 V332.79 H294.27 V333.88 H300.20 V334.96 H312.05 V336.05 H316.00 V336.77 H339.70" stroke="#1da455" stroke-width="2.3" fill="none"/>
<path d="M221.20,325.20 H246.88 V328.09 H261.69 V330.98 H263.66 V333.88 H264.65 V336.77 H266.62 V339.66 H268.60 V342.55 H276.50 V345.44 H278.48 V348.34 H280.45 V351.23 H282.43 V354.12 H284.40 V357.01 H294.27 V359.90 H339.70" stroke="#ef6a45" stroke-width="2.3" fill="none"/>
<line x1="238.97" y1="327.73" x2="238.97" y2="324.73" stroke="#1da455" stroke-width="1.0"/>
<line x1="256.75" y1="328.09" x2="256.75" y2="325.09" stroke="#1da455" stroke-width="1.0"/>
<line x1="270.57" y1="330.26" x2="270.57" y2="327.26" stroke="#1da455" stroke-width="1.0"/>
<line x1="286.38" y1="332.43" x2="286.38" y2="329.43" stroke="#1da455" stroke-width="1.0"/>
<line x1="292.30" y1="332.79" x2="292.30" y2="329.79" stroke="#1da455" stroke-width="1.0"/>
<line x1="296.25" y1="333.88" x2="296.25" y2="330.88" stroke="#1da455" stroke-width="1.0"/>
<line x1="302.18" y1="334.96" x2="302.18" y2="331.96" stroke="#1da455" stroke-width="1.0"/>
<line x1="306.12" y1="334.96" x2="306.12" y2="331.96" stroke="#1da455" stroke-width="1.0"/>
<line x1="310.07" y1="334.96" x2="310.07" y2="331.96" stroke="#1da455" stroke-width="1.0"/>
<line x1="319.95" y1="336.77" x2="319.95" y2="333.77" stroke="#1da455" stroke-width="1.0"/>
<line x1="323.90" y1="336.77" x2="323.90" y2="333.77" stroke="#1da455" stroke-width="1.0"/>
<line x1="327.85" y1="336.77" x2="327.85" y2="333.77" stroke="#1da455" stroke-width="1.0"/>
<line x1="331.80" y1="336.77" x2="331.80" y2="333.77" stroke="#1da455" stroke-width="1.0"/>
<line x1="335.75" y1="336.77" x2="335.75" y2="333.77" stroke="#1da455" stroke-width="1.0"/>
<line x1="338.71" y1="336.77" x2="338.71" y2="333.77" stroke="#1da455" stroke-width="1.0"/>
<line x1="225.15" y1="325.20" x2="225.15" y2="322.20" stroke="#ef6a45" stroke-width="1.0"/>
<line x1="233.05" y1="325.20" x2="233.05" y2="322.20" stroke="#ef6a45" stroke-width="1.0"/>
<line x1="290.32" y1="357.01" x2="290.32" y2="354.01" stroke="#ef6a45" stroke-width="1.0"/>
<line x1="300.20" y1="359.90" x2="300.20" y2="356.90" stroke="#ef6a45" stroke-width="1.0"/>
<line x1="304.15" y1="359.90" x2="304.15" y2="356.90" stroke="#ef6a45" stroke-width="1.0"/>
<line x1="310.07" y1="359.90" x2="310.07" y2="356.90" stroke="#ef6a45" stroke-width="1.0"/>
<line x1="314.02" y1="359.90" x2="314.02" y2="356.90" stroke="#ef6a45" stroke-width="1.0"/>
<line x1="319.95" y1="359.90" x2="319.95" y2="356.90" stroke="#ef6a45" stroke-width="1.0"/>
<line x1="327.85" y1="359.90" x2="327.85" y2="356.90" stroke="#ef6a45" stroke-width="1.0"/>
<line x1="333.77" y1="359.90" x2="333.77" y2="356.90" stroke="#ef6a45" stroke-width="1.0"/>
<line x1="338.71" y1="359.90" x2="338.71" y2="356.90" stroke="#ef6a45" stroke-width="1.0"/>
<line x1="225.20" y1="371.00" x2="247.00" y2="371.00" stroke="#ef6a45" stroke-width="2.1"/>
<line x1="236.10" y1="367.60" x2="236.10" y2="371.00" stroke="#ef6a45" stroke-width="1.8"/>
<line x1="225.20" y1="379.10" x2="247.00" y2="379.10" stroke="#1da455" stroke-width="2.1"/>
<line x1="236.10" y1="375.70" x2="236.10" y2="379.10" stroke="#1da455" stroke-width="1.8"/>
<text x="258.8" y="374.3" font-size="7.0" font-weight="bold" text-anchor="start" fill="#222">high risk(n=25)</text>
<text x="258.8" y="382.5" font-size="7.0" font-weight="bold" text-anchor="start" fill="#222">low risk(n=52)</text>
<text x="258.8" y="389.6" font-size="7.0" font-weight="bold" text-anchor="start" fill="#222">p=0.002</text>
<rect x="50.40" y="457.00" width="97.30" height="58.40" fill="none" stroke="#555" stroke-width="0.9"/>
<line x1="50.40" y1="456.80" x2="50.40" y2="516.20" stroke="#222" stroke-width="1.4"/>
<line x1="49.90" y1="515.40" x2="148.10" y2="515.40" stroke="#222" stroke-width="1.4"/>
<line x1="53.40" y1="458.00" x2="53.40" y2="514.40" stroke="#c8c8c8" stroke-width="0.8"/>
<line x1="143.90" y1="458.00" x2="143.90" y2="514.40" stroke="#c8c8c8" stroke-width="0.8"/>
<line x1="47.80" y1="470.70" x2="50.40" y2="470.70" stroke="#333" stroke-width="1.0"/>
<text x="47.4" y="474.2" font-size="9.6" font-weight="bold" text-anchor="end" fill="#111">12</text>
<line x1="47.80" y1="491.20" x2="50.40" y2="491.20" stroke="#333" stroke-width="1.0"/>
<text x="47.4" y="494.7" font-size="9.6" font-weight="bold" text-anchor="end" fill="#111">8</text>
<line x1="47.80" y1="511.70" x2="50.40" y2="511.70" stroke="#333" stroke-width="1.0"/>
<text x="47.4" y="515.2" font-size="9.6" font-weight="bold" text-anchor="end" fill="#111">4</text>
<line x1="48.80" y1="460.50" x2="50.40" y2="460.50" stroke="#555" stroke-width="0.8"/>
<line x1="48.80" y1="481.00" x2="50.40" y2="481.00" stroke="#555" stroke-width="0.8"/>
<line x1="48.80" y1="501.50" x2="50.40" y2="501.50" stroke="#555" stroke-width="0.8"/>
<circle cx="49.6" cy="438.9" r="2.4" fill="none" stroke="#b8261f" stroke-width="1.6"/>
<circle cx="49.6" cy="449.4" r="2.4" fill="none" stroke="#6fae2e" stroke-width="1.6"/>
<text x="55.6" y="442.29999999999995" font-size="9.7" font-weight="bold" text-anchor="start" fill="#111">high risk(n=64)</text>
<text x="55.6" y="452.79999999999995" font-size="9.7" font-weight="bold" text-anchor="start" fill="#111">low risk(n=162)</text>
<rect x="58.30" y="482.80" width="36.30" height="8.40" fill="none" stroke="#78c23a" stroke-width="0.9"/>
<line x1="58.30" y1="485.40" x2="94.60" y2="485.40" stroke="#78c23a" stroke-width="1.2"/>
<line x1="76.45" y1="482.80" x2="76.45" y2="478.60" stroke="#78c23a" stroke-width="0.9"/>
<line x1="76.45" y1="491.20" x2="76.45" y2="501.70" stroke="#78c23a" stroke-width="0.9"/>
<line x1="67.80" y1="478.60" x2="85.40" y2="478.60" stroke="#78c23a" stroke-width="0.9"/>
<line x1="67.80" y1="501.70" x2="85.40" y2="501.70" stroke="#78c23a" stroke-width="0.9"/>
<circle cx="76.40" cy="505.00" r="0.90" fill="#78c23a"/>
<circle cx="76.40" cy="513.00" r="0.80" fill="#78c23a"/>
<rect x="103.00" y="473.30" width="36.80" height="4.20" fill="none" stroke="#ee4a3a" stroke-width="0.9"/>
<line x1="103.00" y1="475.40" x2="139.80" y2="475.40" stroke="#ee4a3a" stroke-width="1.2"/>
<line x1="121.40" y1="473.30" x2="121.40" y2="469.40" stroke="#ee4a3a" stroke-width="0.9"/>
<line x1="121.40" y1="477.50" x2="121.40" y2="478.60" stroke="#ee4a3a" stroke-width="0.9"/>
<line x1="111.70" y1="469.40" x2="130.80" y2="469.40" stroke="#ee4a3a" stroke-width="0.9"/>
<line x1="111.70" y1="478.60" x2="130.80" y2="478.60" stroke="#ee4a3a" stroke-width="0.9"/>
<circle cx="121.40" cy="465.20" r="0.70" fill="#ee4a3a"/>
<circle cx="121.40" cy="467.00" r="0.70" fill="#ee4a3a"/>
<circle cx="121.40" cy="468.20" r="0.70" fill="#ee4a3a"/>
<text x="122.2" y="467.0" font-size="10.5" font-weight="bold" text-anchor="middle" fill="#333">***</text>
<text x="99.2" y="528.0" font-size="9.7" font-weight="bold" text-anchor="middle" fill="#111">IL-8</text>
<text x="0" y="0" font-size="9.7" font-weight="bold" text-anchor="middle" fill="#111" transform="translate(18.89 478.00) rotate(-90)">Gene Expression</text>
<text x="0" y="0" font-size="9.7" font-weight="bold" text-anchor="middle" fill="#111" transform="translate(28.69 478.00) rotate(-90)">Level</text>
<rect x="221.50" y="456.50" width="97.80" height="58.90" fill="none" stroke="#555" stroke-width="0.9"/>
<line x1="221.50" y1="456.30" x2="221.50" y2="516.20" stroke="#222" stroke-width="1.4"/>
<line x1="221.00" y1="515.40" x2="319.70" y2="515.40" stroke="#222" stroke-width="1.4"/>
<line x1="224.50" y1="457.50" x2="224.50" y2="514.40" stroke="#c8c8c8" stroke-width="0.8"/>
<line x1="315.50" y1="457.50" x2="315.50" y2="514.40" stroke="#c8c8c8" stroke-width="0.8"/>
<line x1="218.90" y1="468.90" x2="221.50" y2="468.90" stroke="#333" stroke-width="1.0"/>
<text x="218.6" y="472.4" font-size="9.6" font-weight="bold" text-anchor="end" fill="#111">3.0</text>
<line x1="218.90" y1="490.40" x2="221.50" y2="490.40" stroke="#333" stroke-width="1.0"/>
<text x="218.6" y="493.9" font-size="9.6" font-weight="bold" text-anchor="end" fill="#111">2.0</text>
<line x1="218.90" y1="511.70" x2="221.50" y2="511.70" stroke="#333" stroke-width="1.0"/>
<text x="218.6" y="515.2" font-size="9.6" font-weight="bold" text-anchor="end" fill="#111">1.0</text>
<line x1="219.90" y1="458.20" x2="221.50" y2="458.20" stroke="#555" stroke-width="0.8"/>
<line x1="219.90" y1="479.60" x2="221.50" y2="479.60" stroke="#555" stroke-width="0.8"/>
<line x1="219.90" y1="501.00" x2="221.50" y2="501.00" stroke="#555" stroke-width="0.8"/>
<circle cx="226.0" cy="438.1" r="2.4" fill="none" stroke="#b8261f" stroke-width="1.6"/>
<circle cx="226.0" cy="449.2" r="2.4" fill="none" stroke="#6fae2e" stroke-width="1.6"/>
<text x="232.0" y="441.5" font-size="9.7" font-weight="bold" text-anchor="start" fill="#111">high risk(n=25)</text>
<text x="232.0" y="452.59999999999997" font-size="9.7" font-weight="bold" text-anchor="start" fill="#111">low risk(n=52)</text>
<rect x="230.00" y="509.60" width="36.20" height="2.80" fill="#6cc12a"/>
<line x1="230.00" y1="511.00" x2="266.20" y2="511.00" stroke="#4a9a1a" stroke-width="0.6"/>
<rect x="275.00" y="500.40" width="36.40" height="9.20" fill="none" stroke="#ee4a3a" stroke-width="0.9"/>
<line x1="275.00" y1="506.40" x2="311.40" y2="506.40" stroke="#ee4a3a" stroke-width="1.2"/>
<line x1="293.20" y1="500.40" x2="293.20" y2="487.30" stroke="#ee4a3a" stroke-width="0.9"/>
<line x1="293.20" y1="509.60" x2="293.20" y2="510.20" stroke="#ee4a3a" stroke-width="0.9"/>
<line x1="284.60" y1="487.30" x2="302.20" y2="487.30" stroke="#ee4a3a" stroke-width="0.9"/>
<line x1="284.60" y1="510.20" x2="302.20" y2="510.20" stroke="#ee4a3a" stroke-width="0.9"/>
<circle cx="293.40" cy="465.60" r="0.75" fill="#ee4a3a"/>
<circle cx="293.40" cy="472.80" r="0.75" fill="#ee4a3a"/>
<circle cx="293.40" cy="478.00" r="0.75" fill="#ee4a3a"/>
<circle cx="293.40" cy="480.70" r="0.75" fill="#ee4a3a"/>
<circle cx="293.40" cy="482.80" r="0.75" fill="#ee4a3a"/>
<text x="293.6" y="465.6" font-size="10.5" font-weight="bold" text-anchor="middle" fill="#333">***</text>
<text x="272.0" y="526.8" font-size="9.7" font-weight="bold" text-anchor="middle" fill="#111">IL-8</text>
<text x="0" y="0" font-size="9.7" font-weight="bold" text-anchor="middle" fill="#111" transform="translate(190.29 477.00) rotate(-90)">Gene Expression</text>
<text x="0" y="0" font-size="9.7" font-weight="bold" text-anchor="middle" fill="#111" transform="translate(200.39 477.00) rotate(-90)">Level</text>
<text x="0.6" y="544.6" font-size="9.2" font-weight="bold" text-anchor="start" fill="#111">D</text>
<text x="29.7" y="546.6" font-size="9.7" font-weight="bold" text-anchor="start" fill="#111">LoVo</text>
<text x="88.9" y="546.6" font-size="9.7" font-weight="bold" text-anchor="start" fill="#111">SW48</text>
<text x="152.0" y="546.6" font-size="9.7" font-weight="bold" text-anchor="start" fill="#111">xhCRC</text>
<rect x="27.00" y="549.60" width="60.00" height="44.60" fill="#b0b0b0"/>
<rect x="27.00" y="549.60" width="60.00" height="44.60" fill="url(#gsp1)"/>
<rect x="27.00" y="549.60" width="60.00" height="44.60" filter="url(#sp1)"/>
<rect x="77.00" y="591.40" width="7.80" height="1.50" fill="#f8f8f8"/>
<rect x="89.50" y="549.60" width="59.70" height="44.60" fill="#d2d2d2"/>
<rect x="89.50" y="549.60" width="59.70" height="44.60" filter="url(#sp2)"/>
<rect x="139.20" y="591.40" width="7.80" height="1.50" fill="#f8f8f8"/>
<rect x="152.00" y="549.60" width="59.80" height="44.60" fill="#b8b8b8"/>
<rect x="152.00" y="549.60" width="59.80" height="44.60" filter="url(#sp3)"/>
<rect x="201.80" y="591.40" width="7.80" height="1.50" fill="#f8f8f8"/>
<rect x="27.00" y="596.20" width="60.00" height="44.40" fill="#c6c6c6"/>
<rect x="27.00" y="596.20" width="60.00" height="44.40" filter="url(#sp4)"/>
<rect x="77.00" y="637.80" width="7.80" height="1.50" fill="#f8f8f8"/>
<rect x="89.50" y="596.20" width="59.70" height="44.40" fill="#cccccc"/>
<rect x="89.50" y="596.20" width="59.70" height="44.40" filter="url(#sp5)"/>
<rect x="139.20" y="637.80" width="7.80" height="1.50" fill="#f8f8f8"/>
<rect x="152.00" y="596.20" width="59.80" height="44.40" fill="#b2b2b2"/>
<rect x="152.00" y="596.20" width="59.80" height="44.40" fill="url(#gsp6)"/>
<rect x="152.00" y="596.20" width="59.80" height="44.40" filter="url(#sp6)"/>
<rect x="201.80" y="637.80" width="7.80" height="1.50" fill="#f8f8f8"/>
<text x="0" y="0" font-size="9.7" font-weight="bold" text-anchor="middle" fill="#111" transform="translate(22.49 576.00) rotate(-90)">Control</text>
<text x="0" y="0" font-size="9.7" font-weight="bold" text-anchor="middle" fill="#111" transform="translate(22.69 620.00) rotate(-90)">rhIL-8</text>
<text x="0" y="0" font-size="9.7" font-weight="bold" text-anchor="middle" fill="#111" transform="translate(9.69 598.60) rotate(-90)">Migration</text>
<line x1="238.30" y1="550.20" x2="238.30" y2="631.40" stroke="#111" stroke-width="1.9"/>
<line x1="237.40" y1="630.50" x2="359.40" y2="630.50" stroke="#111" stroke-width="1.9"/>
<line x1="232.70" y1="551.00" x2="238.30" y2="551.00" stroke="#111" stroke-width="1.8"/>
<text x="231.4" y="554.5" font-size="9.8" font-weight="bold" text-anchor="end" fill="#111">6</text>
<line x1="232.70" y1="577.60" x2="238.30" y2="577.60" stroke="#111" stroke-width="1.8"/>
<text x="231.4" y="581.1" font-size="9.8" font-weight="bold" text-anchor="end" fill="#111">4</text>
<line x1="232.70" y1="604.10" x2="238.30" y2="604.10" stroke="#111" stroke-width="1.8"/>
<text x="231.4" y="607.6" font-size="9.8" font-weight="bold" text-anchor="end" fill="#111">2</text>
<line x1="232.70" y1="630.50" x2="238.30" y2="630.50" stroke="#111" stroke-width="1.8"/>
<text x="231.4" y="634.0" font-size="9.8" font-weight="bold" text-anchor="end" fill="#111">0</text>
<text x="0" y="0" font-size="9.7" font-weight="bold" text-anchor="middle" fill="#111" transform="translate(219.49 595.50) rotate(-90)">Relative Fold</text>
<rect x="245.30" y="617.80" width="12.50" height="11.80" fill="#151515"/>
<line x1="270.55" y1="585.20" x2="270.55" y2="576.60" stroke="#111" stroke-width="2.8"/>
<rect x="267.45" y="575.25" width="6.20" height="2.70" fill="#111"/>
<rect x="264.10" y="585.20" width="12.90" height="44.40" fill="#a2a2a2"/>
<rect x="283.20" y="617.80" width="12.20" height="11.80" fill="#151515"/>
<line x1="308.00" y1="595.20" x2="308.00" y2="589.20" stroke="#111" stroke-width="2.8"/>
<rect x="304.90" y="587.85" width="6.20" height="2.70" fill="#111"/>
<rect x="301.80" y="595.20" width="12.40" height="34.40" fill="#a2a2a2"/>
<rect x="321.00" y="617.80" width="11.80" height="11.80" fill="#151515"/>
<line x1="345.75" y1="561.10" x2="345.75" y2="556.00" stroke="#111" stroke-width="2.8"/>
<rect x="342.65" y="554.65" width="6.20" height="2.70" fill="#111"/>
<rect x="339.40" y="561.10" width="12.70" height="68.50" fill="#a2a2a2"/>
<rect x="242.80" y="548.90" width="21.20" height="3.00" fill="#111"/>
<rect x="242.80" y="559.90" width="21.20" height="3.00" fill="#a4a4a4"/>
<text x="276.8" y="553.9" font-size="9.7" font-weight="bold" text-anchor="start" fill="#111">Control</text>
<text x="276.8" y="564.9" font-size="9.7" font-weight="bold" text-anchor="start" fill="#111">rhIL-8</text>
<rect x="247.30" y="634.95" width="27.20" height="2.70" fill="#111"/>
<text x="261.8" y="648.9" font-size="9.7" font-weight="bold" text-anchor="middle" fill="#111">LoVo</text>
<rect x="284.70" y="634.95" width="27.10" height="2.70" fill="#111"/>
<text x="298.2" y="648.9" font-size="9.7" font-weight="bold" text-anchor="middle" fill="#111">SW48</text>
<rect x="323.20" y="634.95" width="27.10" height="2.70" fill="#111"/>
<text x="337.9" y="648.9" font-size="9.7" font-weight="bold" text-anchor="middle" fill="#111">xhCRC</text>
<text x="270.5" y="576.3" font-size="10.2" font-weight="normal" text-anchor="middle" fill="#444">**</text>
<text x="308.0" y="589.4" font-size="10.2" font-weight="normal" text-anchor="middle" fill="#444">**</text>
<text x="345.8" y="555.5" font-size="10.2" font-weight="normal" text-anchor="middle" fill="#444">***</text>
<text x="0.6" y="661.2" font-size="9.2" font-weight="bold" text-anchor="start" fill="#111">E</text>
<text x="30.2" y="664.4" font-size="9.7" font-weight="bold" text-anchor="start" fill="#111">LoVo</text>
<text x="88.9" y="664.4" font-size="9.7" font-weight="bold" text-anchor="start" fill="#111">SW48</text>
<text x="152.0" y="664.4" font-size="9.7" font-weight="bold" text-anchor="start" fill="#111">xhCRC</text>
<rect x="27.00" y="668.00" width="60.00" height="44.60" fill="#d0d0d0"/>
<rect x="27.00" y="668.00" width="60.00" height="44.60" filter="url(#sp7)"/>
<rect x="77.00" y="709.80" width="7.80" height="1.50" fill="#f8f8f8"/>
<rect x="89.50" y="668.00" width="59.70" height="44.60" fill="#aaaaaa"/>
<rect x="89.50" y="668.00" width="59.70" height="44.60" filter="url(#sp8)"/>
<rect x="139.20" y="709.80" width="7.80" height="1.50" fill="#f8f8f8"/>
<rect x="152.00" y="668.00" width="59.80" height="44.60" fill="#bebebe"/>
<rect x="152.00" y="668.00" width="59.80" height="44.60" filter="url(#sp9)"/>
<rect x="201.80" y="709.80" width="7.80" height="1.50" fill="#f8f8f8"/>
<rect x="27.00" y="714.40" width="60.00" height="44.40" fill="#cacaca"/>
<rect x="27.00" y="714.40" width="60.00" height="44.40" filter="url(#sp10)"/>
<rect x="77.00" y="756.00" width="7.80" height="1.50" fill="#f8f8f8"/>
<rect x="89.50" y="714.40" width="59.70" height="44.40" fill="#bababa"/>
<rect x="89.50" y="714.40" width="59.70" height="44.40" filter="url(#sp11)"/>
<rect x="139.20" y="756.00" width="7.80" height="1.50" fill="#f8f8f8"/>
<rect x="152.00" y="714.40" width="59.80" height="44.40" fill="#b6b6b6"/>
<rect x="152.00" y="714.40" width="59.80" height="44.40" filter="url(#sp12)"/>
<rect x="201.80" y="756.00" width="7.80" height="1.50" fill="#f8f8f8"/>
<text x="0" y="0" font-size="9.7" font-weight="bold" text-anchor="middle" fill="#111" transform="translate(22.49 695.00) rotate(-90)">Control</text>
<text x="0" y="0" font-size="9.7" font-weight="bold" text-anchor="middle" fill="#111" transform="translate(22.69 740.00) rotate(-90)">rhIL-8</text>
<text x="0" y="0" font-size="9.7" font-weight="bold" text-anchor="middle" fill="#111" transform="translate(9.89 717.40) rotate(-90)">Invasion</text>
<line x1="239.80" y1="667.40" x2="239.80" y2="748.70" stroke="#111" stroke-width="1.9"/>
<line x1="238.90" y1="747.80" x2="359.40" y2="747.80" stroke="#111" stroke-width="1.9"/>
<line x1="234.20" y1="668.20" x2="239.80" y2="668.20" stroke="#111" stroke-width="1.8"/>
<text x="231.8" y="671.7" font-size="9.8" font-weight="bold" text-anchor="end" fill="#111">8</text>
<line x1="234.20" y1="688.10" x2="239.80" y2="688.10" stroke="#111" stroke-width="1.8"/>
<text x="231.8" y="691.6" font-size="9.8" font-weight="bold" text-anchor="end" fill="#111">6</text>
<line x1="234.20" y1="708.00" x2="239.80" y2="708.00" stroke="#111" stroke-width="1.8"/>
<text x="231.8" y="711.5" font-size="9.8" font-weight="bold" text-anchor="end" fill="#111">4</text>
<line x1="234.20" y1="727.90" x2="239.80" y2="727.90" stroke="#111" stroke-width="1.8"/>
<text x="231.8" y="731.4" font-size="9.8" font-weight="bold" text-anchor="end" fill="#111">2</text>
<line x1="234.20" y1="747.80" x2="239.80" y2="747.80" stroke="#111" stroke-width="1.8"/>
<text x="231.8" y="751.3" font-size="9.8" font-weight="bold" text-anchor="end" fill="#111">0</text>
<text x="0" y="0" font-size="9.7" font-weight="bold" text-anchor="middle" fill="#111" transform="translate(220.49 712.00) rotate(-90)">Relative Fold</text>
<rect x="246.10" y="738.00" width="12.70" height="8.90" fill="#151515"/>
<line x1="271.40" y1="714.90" x2="271.40" y2="712.20" stroke="#111" stroke-width="2.8"/>
<rect x="268.30" y="710.85" width="6.20" height="2.70" fill="#111"/>
<rect x="265.00" y="714.90" width="12.80" height="32.00" fill="#a2a2a2"/>
<rect x="284.40" y="738.00" width="12.30" height="8.90" fill="#151515"/>
<line x1="309.10" y1="730.90" x2="309.10" y2="724.50" stroke="#111" stroke-width="2.8"/>
<rect x="306.00" y="723.15" width="6.20" height="2.70" fill="#111"/>
<rect x="303.20" y="730.90" width="11.80" height="16.00" fill="#a2a2a2"/>
<rect x="322.30" y="738.00" width="11.60" height="8.90" fill="#151515"/>
<line x1="346.75" y1="682.80" x2="346.75" y2="679.00" stroke="#111" stroke-width="2.8"/>
<rect x="343.65" y="677.65" width="6.20" height="2.70" fill="#111"/>
<rect x="340.50" y="682.80" width="12.50" height="64.10" fill="#a2a2a2"/>
<rect x="244.30" y="666.00" width="21.20" height="3.00" fill="#111"/>
<rect x="244.30" y="676.10" width="21.20" height="3.00" fill="#a4a4a4"/>
<text x="277.9" y="671.0" font-size="9.7" font-weight="bold" text-anchor="start" fill="#111">Control</text>
<text x="277.9" y="681.1" font-size="9.7" font-weight="bold" text-anchor="start" fill="#111">rhIL-8</text>
<rect x="247.60" y="751.75" width="28.20" height="2.70" fill="#111"/>
<text x="261.7" y="765.2" font-size="9.7" font-weight="bold" text-anchor="middle" fill="#111">LoVo</text>
<rect x="284.90" y="751.75" width="28.10" height="2.70" fill="#111"/>
<text x="297.9" y="765.2" font-size="9.7" font-weight="bold" text-anchor="middle" fill="#111">SW48</text>
<rect x="322.70" y="751.75" width="27.70" height="2.70" fill="#111"/>
<text x="337.4" y="765.2" font-size="9.7" font-weight="bold" text-anchor="middle" fill="#111">xhCRC</text>
<text x="271.8" y="712.3" font-size="10.2" font-weight="normal" text-anchor="middle" fill="#444">***</text>
<text x="309.1" y="724.3" font-size="10.2" font-weight="normal" text-anchor="middle" fill="#444">*</text>
<text x="346.8" y="679.0999999999999" font-size="10.2" font-weight="normal" text-anchor="middle" fill="#444">***</text>
<text x="364.8" y="6.6" font-size="9.0" font-weight="bold" text-anchor="start" fill="#111">F</text>
<text x="378.5" y="11.2" font-size="9.7" font-weight="bold" text-anchor="start" fill="#111">Migration</text>
<text x="402.0" y="23.8" font-size="9.7" font-weight="bold" text-anchor="start" fill="#111">LoVo</text>
<text x="463.0" y="23.8" font-size="9.7" font-weight="bold" text-anchor="start" fill="#111">SW48</text>
<rect x="402.20" y="26.00" width="59.40" height="44.80" fill="#bcbcbc"/>
<rect x="402.20" y="26.00" width="59.40" height="44.80" filter="url(#sp13)"/>
<rect x="451.40" y="65.80" width="7.80" height="1.40" fill="#f8f8f8"/>
<rect x="463.20" y="26.00" width="59.60" height="44.80" fill="#9a9a9a"/>
<rect x="463.20" y="26.00" width="59.60" height="44.80" fill="url(#gsp14)"/>
<rect x="463.20" y="26.00" width="59.60" height="44.80" filter="url(#sp14)"/>
<rect x="512.60" y="65.80" width="7.80" height="1.40" fill="#f8f8f8"/>
<rect x="402.20" y="74.60" width="59.40" height="45.00" fill="#bebebe"/>
<rect x="402.20" y="74.60" width="59.40" height="45.00" filter="url(#sp15)"/>
<rect x="451.40" y="114.60" width="7.80" height="1.40" fill="#f8f8f8"/>
<rect x="463.20" y="74.60" width="59.60" height="45.00" fill="#a8a8a8"/>
<rect x="463.20" y="74.60" width="59.60" height="45.00" filter="url(#sp16)"/>
<rect x="512.60" y="114.60" width="7.80" height="1.40" fill="#f8f8f8"/>
<rect x="402.20" y="123.60" width="59.40" height="44.80" fill="#bebebe"/>
<rect x="402.20" y="123.60" width="59.40" height="44.80" filter="url(#sp17)"/>
<rect x="451.40" y="163.40" width="7.80" height="1.40" fill="#f8f8f8"/>
<rect x="463.20" y="123.60" width="59.60" height="44.80" fill="#a0a0a0"/>
<rect x="463.20" y="123.60" width="59.60" height="44.80" fill="url(#gsp18)"/>
<rect x="463.20" y="123.60" width="59.60" height="44.80" filter="url(#sp18)"/>
<rect x="512.60" y="163.40" width="7.80" height="1.40" fill="#f8f8f8"/>
<text x="0" y="0" font-size="9.7" font-weight="bold" text-anchor="middle" fill="#111" transform="translate(396.89 51.40) rotate(-90)">HSS-CM</text>
<text x="0" y="0" font-size="9.7" font-weight="bold" text-anchor="middle" fill="#111" transform="translate(384.19 101.40) rotate(-90)">HSS-CM</text>
<text x="0" y="0" font-size="9.7" font-weight="bold" text-anchor="middle" fill="#111" transform="translate(394.99 98.40) rotate(-90)">+Anti-IL-8</text>
<text x="0" y="0" font-size="9.7" font-weight="bold" text-anchor="middle" fill="#111" transform="translate(384.19 152.00) rotate(-90)">silL-8-</text>
<text x="0" y="0" font-size="9.7" font-weight="bold" text-anchor="middle" fill="#111" transform="translate(394.99 149.00) rotate(-90)">HSS-CM</text>
<line x1="564.00" y1="46.60" x2="564.00" y2="127.90" stroke="#111" stroke-width="1.9"/>
<line x1="563.10" y1="127.00" x2="684.00" y2="127.00" stroke="#111" stroke-width="1.9"/>
<line x1="559.00" y1="47.40" x2="564.00" y2="47.40" stroke="#111" stroke-width="1.8"/>
<text x="555.9" y="50.8" font-size="9.6" font-weight="bold" text-anchor="end" fill="#111">1.5</text>
<line x1="559.00" y1="73.90" x2="564.00" y2="73.90" stroke="#111" stroke-width="1.8"/>
<text x="555.9" y="77.30000000000001" font-size="9.6" font-weight="bold" text-anchor="end" fill="#111">1.0</text>
<line x1="559.00" y1="100.50" x2="564.00" y2="100.50" stroke="#111" stroke-width="1.8"/>
<text x="555.9" y="103.9" font-size="9.6" font-weight="bold" text-anchor="end" fill="#111">0.5</text>
<line x1="559.00" y1="127.00" x2="564.00" y2="127.00" stroke="#111" stroke-width="1.8"/>
<text x="555.9" y="130.4" font-size="9.6" font-weight="bold" text-anchor="end" fill="#111">0.0</text>
<text x="0" y="0" font-size="9.7" font-weight="bold" text-anchor="middle" fill="#111" transform="translate(537.09 92.60) rotate(-90)">Relative Fold</text>
<rect x="570.30" y="73.90" width="10.40" height="52.20" fill="#111"/>
<line x1="592.20" y1="104.20" x2="592.20" y2="96.30" stroke="#111" stroke-width="2.4"/>
<rect x="589.90" y="95.20" width="4.60" height="2.20" fill="#111"/>
<rect x="587.20" y="104.70" width="10.00" height="21.40" fill="#8e8e8e" stroke="#222" stroke-width="1.1"/>
<line x1="609.10" y1="94.00" x2="609.10" y2="79.50" stroke="#111" stroke-width="2.4"/>
<rect x="606.80" y="78.40" width="4.60" height="2.20" fill="#111"/>
<rect x="604.10" y="94.50" width="10.00" height="31.60" fill="#fff" stroke="#222" stroke-width="1.1"/>
<rect x="632.00" y="74.30" width="10.80" height="51.80" fill="#111"/>
<line x1="654.70" y1="109.30" x2="654.70" y2="108.20" stroke="#111" stroke-width="2.4"/>
<rect x="652.40" y="107.10" width="4.60" height="2.20" fill="#111"/>
<rect x="650.10" y="109.80" width="9.20" height="16.30" fill="#8e8e8e" stroke="#222" stroke-width="1.1"/>
<line x1="671.55" y1="102.20" x2="671.55" y2="95.40" stroke="#111" stroke-width="2.4"/>
<rect x="669.25" y="94.30" width="4.60" height="2.20" fill="#111"/>
<rect x="666.60" y="102.70" width="9.90" height="23.40" fill="#fff" stroke="#222" stroke-width="1.1"/>
<rect x="566.80" y="39.90" width="20.80" height="3.00" fill="#111"/>
<rect x="567.30" y="51.50" width="19.80" height="2.20" fill="#8e8e8e" stroke="#333" stroke-width="1.0"/>
<rect x="567.30" y="62.40" width="19.80" height="2.20" fill="#f4f4f4" stroke="#444" stroke-width="1.0"/>
<text x="600.3" y="44.8" font-size="9.7" font-weight="bold" text-anchor="start" fill="#111">HSS-CM</text>
<text x="600.3" y="56.0" font-size="9.7" font-weight="bold" text-anchor="start" fill="#111">HSS-CM+Anti-IL-8</text>
<text x="600.3" y="66.9" font-size="9.7" font-weight="bold" text-anchor="start" fill="#111">silL-8-HSS-CM</text>
<line x1="592.00" y1="127.00" x2="592.00" y2="132.40" stroke="#111" stroke-width="1.9"/>
<text x="591.6" y="143.8" font-size="9.7" font-weight="bold" text-anchor="middle" fill="#111">LoVo</text>
<line x1="653.80" y1="127.00" x2="653.80" y2="132.40" stroke="#111" stroke-width="1.9"/>
<text x="653.9" y="143.8" font-size="9.7" font-weight="bold" text-anchor="middle" fill="#111">SW48</text>
<text x="592.2" y="96.39999999999999" font-size="10.2" font-weight="normal" text-anchor="middle" fill="#444">**</text>
<text x="609.4" y="78.8" font-size="10.2" font-weight="normal" text-anchor="middle" fill="#444">*</text>
<text x="654.7" y="108.8" font-size="10.2" font-weight="normal" text-anchor="middle" fill="#444">**</text>
<text x="671.6" y="95.3" font-size="10.2" font-weight="normal" text-anchor="middle" fill="#444">*</text>
<text x="364.6" y="192.6" font-size="9.2" font-weight="bold" text-anchor="start" fill="#111">G</text>
<text x="378.5" y="196.8" font-size="9.7" font-weight="bold" text-anchor="start" fill="#111">Invasion</text>
<text x="402.0" y="209.0" font-size="9.7" font-weight="bold" text-anchor="start" fill="#111">LoVo</text>
<text x="463.6" y="209.0" font-size="9.7" font-weight="bold" text-anchor="start" fill="#111">SW48</text>
<rect x="402.20" y="210.80" width="59.80" height="44.20" fill="#bcbcbc"/>
<rect x="402.20" y="210.80" width="59.80" height="44.20" filter="url(#sp19)"/>
<rect x="451.80" y="250.00" width="7.80" height="1.40" fill="#f8f8f8"/>
<rect x="463.80" y="210.80" width="59.40" height="44.20" fill="#a4a4a4"/>
<rect x="463.80" y="210.80" width="59.40" height="44.20" fill="url(#gsp20)"/>
<rect x="463.80" y="210.80" width="59.40" height="44.20" filter="url(#sp20)"/>
<rect x="513.00" y="250.00" width="7.80" height="1.40" fill="#f8f8f8"/>
<rect x="402.20" y="259.60" width="59.80" height="44.40" fill="#bebebe"/>
<rect x="402.20" y="259.60" width="59.80" height="44.40" filter="url(#sp21)"/>
<rect x="451.80" y="299.00" width="7.80" height="1.40" fill="#f8f8f8"/>
<rect x="463.80" y="259.60" width="59.40" height="44.40" fill="#b2b2b2"/>
<rect x="463.80" y="259.60" width="59.40" height="44.40" filter="url(#sp22)"/>
<rect x="513.00" y="299.00" width="7.80" height="1.40" fill="#f8f8f8"/>
<rect x="402.20" y="308.20" width="59.80" height="44.20" fill="#c0c0c0"/>
<rect x="402.20" y="308.20" width="59.80" height="44.20" filter="url(#sp23)"/>
<rect x="451.80" y="347.40" width="7.80" height="1.40" fill="#f8f8f8"/>
<rect x="463.80" y="308.20" width="59.40" height="44.20" fill="#9e9e9e"/>
<rect x="463.80" y="308.20" width="59.40" height="44.20" fill="url(#gsp24)"/>
<rect x="463.80" y="308.20" width="59.40" height="44.20" filter="url(#sp24)"/>
<rect x="513.00" y="347.40" width="7.80" height="1.40" fill="#f8f8f8"/>
<text x="0" y="0" font-size="9.7" font-weight="bold" text-anchor="middle" fill="#111" transform="translate(397.89 234.50) rotate(-90)">HSS-CM</text>
<text x="0" y="0" font-size="9.7" font-weight="bold" text-anchor="middle" fill="#111" transform="translate(384.29 280.60) rotate(-90)">HSS-CM</text>
<text x="0" y="0" font-size="9.7" font-weight="bold" text-anchor="middle" fill="#111" transform="translate(397.29 279.50) rotate(-90)">+Anti-IL-8</text>
<text x="0" y="0" font-size="9.7" font-weight="bold" text-anchor="middle" fill="#111" transform="translate(384.29 328.70) rotate(-90)">silL-8-</text>
<text x="0" y="0" font-size="9.7" font-weight="bold" text-anchor="middle" fill="#111" transform="translate(397.29 331.00) rotate(-90)">HSS-CM</text>
<line x1="564.00" y1="237.20" x2="564.00" y2="318.80" stroke="#111" stroke-width="1.9"/>
<line x1="563.10" y1="317.90" x2="684.00" y2="317.90" stroke="#111" stroke-width="1.9"/>
<line x1="559.00" y1="238.00" x2="564.00" y2="238.00" stroke="#111" stroke-width="1.8"/>
<text x="555.9" y="241.4" font-size="9.6" font-weight="bold" text-anchor="end" fill="#111">1.5</text>
<line x1="559.00" y1="265.20" x2="564.00" y2="265.20" stroke="#111" stroke-width="1.8"/>
<text x="555.9" y="268.59999999999997" font-size="9.6" font-weight="bold" text-anchor="end" fill="#111">1.0</text>
<line x1="559.00" y1="291.30" x2="564.00" y2="291.30" stroke="#111" stroke-width="1.8"/>
<text x="555.9" y="294.7" font-size="9.6" font-weight="bold" text-anchor="end" fill="#111">0.5</text>
<line x1="559.00" y1="317.90" x2="564.00" y2="317.90" stroke="#111" stroke-width="1.8"/>
<text x="555.9" y="321.29999999999995" font-size="9.6" font-weight="bold" text-anchor="end" fill="#111">0.0</text>
<text x="0" y="0" font-size="9.7" font-weight="bold" text-anchor="middle" fill="#111" transform="translate(537.09 282.30) rotate(-90)">Relative Fold</text>
<rect x="569.40" y="265.20" width="10.40" height="51.80" fill="#111"/>
<line x1="591.55" y1="305.30" x2="591.55" y2="301.00" stroke="#111" stroke-width="2.4"/>
<rect x="589.25" y="299.90" width="4.60" height="2.20" fill="#111"/>
<rect x="586.80" y="305.80" width="9.50" height="11.20" fill="#8e8e8e" stroke="#222" stroke-width="1.1"/>
<line x1="608.85" y1="301.10" x2="608.85" y2="293.40" stroke="#111" stroke-width="2.4"/>
<rect x="606.55" y="292.30" width="4.60" height="2.20" fill="#111"/>
<rect x="604.10" y="301.60" width="9.50" height="15.40" fill="#fff" stroke="#222" stroke-width="1.1"/>
<rect x="631.30" y="265.20" width="11.20" height="51.80" fill="#111"/>
<line x1="654.00" y1="309.00" x2="654.00" y2="307.50" stroke="#111" stroke-width="2.4"/>
<rect x="651.70" y="306.40" width="4.60" height="2.20" fill="#111"/>
<rect x="648.70" y="309.50" width="10.60" height="7.50" fill="#8e8e8e" stroke="#222" stroke-width="1.1"/>
<line x1="670.95" y1="296.70" x2="670.95" y2="293.60" stroke="#111" stroke-width="2.4"/>
<rect x="668.65" y="292.50" width="4.60" height="2.20" fill="#111"/>
<rect x="665.80" y="297.20" width="10.30" height="19.80" fill="#fff" stroke="#222" stroke-width="1.1"/>
<rect x="566.80" y="232.60" width="20.80" height="3.00" fill="#111"/>
<rect x="567.30" y="244.30" width="19.80" height="2.20" fill="#8e8e8e" stroke="#333" stroke-width="1.0"/>
<rect x="567.30" y="255.40" width="19.80" height="2.20" fill="#f4f4f4" stroke="#444" stroke-width="1.0"/>
<text x="600.5" y="237.5" font-size="9.7" font-weight="bold" text-anchor="start" fill="#111">HSS-CM</text>
<text x="600.5" y="248.8" font-size="9.7" font-weight="bold" text-anchor="start" fill="#111">HSS-CM+Anti-IL-8</text>
<text x="600.5" y="259.9" font-size="9.7" font-weight="bold" text-anchor="start" fill="#111">silL-8-HSS-CM</text>
<line x1="591.50" y1="317.90" x2="591.50" y2="323.30" stroke="#111" stroke-width="1.9"/>
<text x="591.2" y="334.3" font-size="9.7" font-weight="bold" text-anchor="middle" fill="#111">LoVo</text>
<line x1="653.50" y1="317.90" x2="653.50" y2="323.30" stroke="#111" stroke-width="1.9"/>
<text x="653.7" y="334.3" font-size="9.7" font-weight="bold" text-anchor="middle" fill="#111">SW48</text>
<text x="591.5" y="300.1" font-size="10.2" font-weight="normal" text-anchor="middle" fill="#444">***</text>
<text x="608.9" y="293.3" font-size="10.2" font-weight="normal" text-anchor="middle" fill="#444">**</text>
<text x="654.0" y="307.5" font-size="10.2" font-weight="normal" text-anchor="middle" fill="#444">***</text>
<text x="671.0" y="293.6" font-size="10.2" font-weight="normal" text-anchor="middle" fill="#444">**</text>
<text x="364.8" y="377.4" font-size="9.2" font-weight="bold" text-anchor="start" fill="#111">H</text>
<rect x="397.20" y="387.80" width="100.60" height="120.40" fill="#0c0c0c"/>
<rect x="397.20" y="449.00" width="100.60" height="2.40" fill="#2c2c2c"/>
<line x1="416.00" y1="388.50" x2="416.00" y2="392.00" stroke="#333" stroke-width="0.6"/>
<line x1="435.50" y1="388.50" x2="435.50" y2="392.00" stroke="#333" stroke-width="0.6"/>
<line x1="454.50" y1="388.50" x2="454.50" y2="392.00" stroke="#333" stroke-width="0.6"/>
<line x1="473.50" y1="388.50" x2="473.50" y2="392.00" stroke="#333" stroke-width="0.6"/>
<g transform="translate(408.20 392.60) scale(0.950 0.950)">
<path d="M-0.6,39 L0.6,39 L0.3,58 L-0.3,58 Z" fill="#b8b8b8"/>
<ellipse cx="-6.2" cy="37.5" rx="1.6" ry="3" fill="#8a8a8a"/><ellipse cx="6.2" cy="37.5" rx="1.6" ry="3" fill="#8a8a8a"/>
<path d="M0,0 C1.4,0 2.6,2.6 3.2,5.2 L6.2,7.6 L5.2,10.4 C6.4,12.6 7,17 7,22 C7,29 6.8,33.6 5.2,36.6 C3.8,39 1.8,40 0,40 C-1.8,40 -3.8,39 -5.2,36.6 C-6.8,33.6 -7,29 -7,22 C-7,17 -6.4,12.6 -5.2,10.4 L-6.2,7.6 L-3.2,5.2 C-2.6,2.6 -1.4,0 0,0 Z" fill="url(#mbody)"/>
<path d="M0,0 C1.4,0 2.6,2.6 3.2,5.2 L6.2,7.6 L5.2,10.4 C6.4,12.6 7,17 7,22 C7,29 6.8,33.6 5.2,36.6 C3.8,39 1.8,40 0,40 C-1.8,40 -3.8,39 -5.2,36.6 C-6.8,33.6 -7,29 -7,22 C-7,17 -6.4,12.6 -5.2,10.4 L-6.2,7.6 L-3.2,5.2 C-2.6,2.6 -1.4,0 0,0 Z" fill="url(#medge)"/>
<ellipse cx="0" cy="20" rx="7.6" ry="8" fill="url(#purp)"/>
<ellipse cx="-3.6" cy="21" rx="3.0" ry="3.4" fill="url(#cool)"/>
<ellipse cx="3.4" cy="20.4" rx="3.4" ry="3.6" fill="url(#heat)"/>
</g>
<g transform="translate(426.00 392.60) scale(0.950 0.950)">
<path d="M-0.6,39 L0.6,39 L0.3,58 L-0.3,58 Z" fill="#b8b8b8"/>
<ellipse cx="-6.2" cy="37.5" rx="1.6" ry="3" fill="#8a8a8a"/><ellipse cx="6.2" cy="37.5" rx="1.6" ry="3" fill="#8a8a8a"/>
<path d="M0,0 C1.4,0 2.6,2.6 3.2,5.2 L6.2,7.6 L5.2,10.4 C6.4,12.6 7,17 7,22 C7,29 6.8,33.6 5.2,36.6 C3.8,39 1.8,40 0,40 C-1.8,40 -3.8,39 -5.2,36.6 C-6.8,33.6 -7,29 -7,22 C-7,17 -6.4,12.6 -5.2,10.4 L-6.2,7.6 L-3.2,5.2 C-2.6,2.6 -1.4,0 0,0 Z" fill="url(#mbody)"/>
<path d="M0,0 C1.4,0 2.6,2.6 3.2,5.2 L6.2,7.6 L5.2,10.4 C6.4,12.6 7,17 7,22 C7,29 6.8,33.6 5.2,36.6 C3.8,39 1.8,40 0,40 C-1.8,40 -3.8,39 -5.2,36.6 C-6.8,33.6 -7,29 -7,22 C-7,17 -6.4,12.6 -5.2,10.4 L-6.2,7.6 L-3.2,5.2 C-2.6,2.6 -1.4,0 0,0 Z" fill="url(#medge)"/>
<ellipse cx="0" cy="20" rx="7.6" ry="8" fill="url(#purp)"/>
<ellipse cx="-3.4" cy="19.5" rx="3.2" ry="3.8" fill="url(#cool)"/>
<ellipse cx="3.8" cy="20.5" rx="3.0" ry="3.4" fill="url(#cool)"/>
</g>
<g transform="translate(444.60 392.60) scale(0.950 0.950)">
<path d="M-0.6,39 L0.6,39 L0.3,58 L-0.3,58 Z" fill="#b8b8b8"/>
<ellipse cx="-6.2" cy="37.5" rx="1.6" ry="3" fill="#8a8a8a"/><ellipse cx="6.2" cy="37.5" rx="1.6" ry="3" fill="#8a8a8a"/>
<path d="M0,0 C1.4,0 2.6,2.6 3.2,5.2 L6.2,7.6 L5.2,10.4 C6.4,12.6 7,17 7,22 C7,29 6.8,33.6 5.2,36.6 C3.8,39 1.8,40 0,40 C-1.8,40 -3.8,39 -5.2,36.6 C-6.8,33.6 -7,29 -7,22 C-7,17 -6.4,12.6 -5.2,10.4 L-6.2,7.6 L-3.2,5.2 C-2.6,2.6 -1.4,0 0,0 Z" fill="url(#mbody)"/>
<path d="M0,0 C1.4,0 2.6,2.6 3.2,5.2 L6.2,7.6 L5.2,10.4 C6.4,12.6 7,17 7,22 C7,29 6.8,33.6 5.2,36.6 C3.8,39 1.8,40 0,40 C-1.8,40 -3.8,39 -5.2,36.6 C-6.8,33.6 -7,29 -7,22 C-7,17 -6.4,12.6 -5.2,10.4 L-6.2,7.6 L-3.2,5.2 C-2.6,2.6 -1.4,0 0,0 Z" fill="url(#medge)"/>
<ellipse cx="0" cy="20" rx="7.6" ry="8" fill="url(#purp)"/>
<ellipse cx="-3.6" cy="20.5" rx="3.2" ry="3.6" fill="url(#cool)"/>
<ellipse cx="3.6" cy="20.5" rx="3.0" ry="3.2" fill="url(#cool)"/>
</g>
<g transform="translate(464.00 392.60) scale(0.950 0.950)">
<path d="M-0.6,39 L0.6,39 L0.3,58 L-0.3,58 Z" fill="#b8b8b8"/>
<ellipse cx="-6.2" cy="37.5" rx="1.6" ry="3" fill="#8a8a8a"/><ellipse cx="6.2" cy="37.5" rx="1.6" ry="3" fill="#8a8a8a"/>
<path d="M0,0 C1.4,0 2.6,2.6 3.2,5.2 L6.2,7.6 L5.2,10.4 C6.4,12.6 7,17 7,22 C7,29 6.8,33.6 5.2,36.6 C3.8,39 1.8,40 0,40 C-1.8,40 -3.8,39 -5.2,36.6 C-6.8,33.6 -7,29 -7,22 C-7,17 -6.4,12.6 -5.2,10.4 L-6.2,7.6 L-3.2,5.2 C-2.6,2.6 -1.4,0 0,0 Z" fill="url(#mbody)"/>
<path d="M0,0 C1.4,0 2.6,2.6 3.2,5.2 L6.2,7.6 L5.2,10.4 C6.4,12.6 7,17 7,22 C7,29 6.8,33.6 5.2,36.6 C3.8,39 1.8,40 0,40 C-1.8,40 -3.8,39 -5.2,36.6 C-6.8,33.6 -7,29 -7,22 C-7,17 -6.4,12.6 -5.2,10.4 L-6.2,7.6 L-3.2,5.2 C-2.6,2.6 -1.4,0 0,0 Z" fill="url(#medge)"/>
<ellipse cx="0" cy="20" rx="7.4" ry="8" fill="url(#purp)"/>
<ellipse cx="-3.0" cy="19.5" rx="3.4" ry="3.8" fill="url(#cool)"/>
<ellipse cx="3.8" cy="20.2" rx="2.8" ry="3.0" fill="url(#blu)"/>
</g>
<g transform="translate(482.40 392.60) scale(0.950 0.950)">
<path d="M-0.6,39 L0.6,39 L0.3,58 L-0.3,58 Z" fill="#b8b8b8"/>
<ellipse cx="-6.2" cy="37.5" rx="1.6" ry="3" fill="#8a8a8a"/><ellipse cx="6.2" cy="37.5" rx="1.6" ry="3" fill="#8a8a8a"/>
<path d="M0,0 C1.4,0 2.6,2.6 3.2,5.2 L6.2,7.6 L5.2,10.4 C6.4,12.6 7,17 7,22 C7,29 6.8,33.6 5.2,36.6 C3.8,39 1.8,40 0,40 C-1.8,40 -3.8,39 -5.2,36.6 C-6.8,33.6 -7,29 -7,22 C-7,17 -6.4,12.6 -5.2,10.4 L-6.2,7.6 L-3.2,5.2 C-2.6,2.6 -1.4,0 0,0 Z" fill="url(#mbody)"/>
<path d="M0,0 C1.4,0 2.6,2.6 3.2,5.2 L6.2,7.6 L5.2,10.4 C6.4,12.6 7,17 7,22 C7,29 6.8,33.6 5.2,36.6 C3.8,39 1.8,40 0,40 C-1.8,40 -3.8,39 -5.2,36.6 C-6.8,33.6 -7,29 -7,22 C-7,17 -6.4,12.6 -5.2,10.4 L-6.2,7.6 L-3.2,5.2 C-2.6,2.6 -1.4,0 0,0 Z" fill="url(#medge)"/>
<ellipse cx="0" cy="21" rx="7.4" ry="6.5" fill="url(#purp)"/>
<ellipse cx="-3.4" cy="21.0" rx="3.4" ry="3.4" fill="url(#heat)"/>
<ellipse cx="4.0" cy="21.0" rx="2.6" ry="2.8" fill="url(#blu)"/>
</g>
<g transform="translate(407.80 454.60) scale(1.050 0.950)">
<path d="M-0.6,39 L0.6,39 L0.3,56 L-0.3,56 Z" fill="#b8b8b8"/>
<ellipse cx="-6.2" cy="37.5" rx="1.6" ry="3" fill="#8a8a8a"/><ellipse cx="6.2" cy="37.5" rx="1.6" ry="3" fill="#8a8a8a"/>
<path d="M0,0 C1.4,0 2.6,2.6 3.2,5.2 L6.2,7.6 L5.2,10.4 C6.4,12.6 7,17 7,22 C7,29 6.8,33.6 5.2,36.6 C3.8,39 1.8,40 0,40 C-1.8,40 -3.8,39 -5.2,36.6 C-6.8,33.6 -7,29 -7,22 C-7,17 -6.4,12.6 -5.2,10.4 L-6.2,7.6 L-3.2,5.2 C-2.6,2.6 -1.4,0 0,0 Z" fill="url(#mbody)"/>
<path d="M0,0 C1.4,0 2.6,2.6 3.2,5.2 L6.2,7.6 L5.2,10.4 C6.4,12.6 7,17 7,22 C7,29 6.8,33.6 5.2,36.6 C3.8,39 1.8,40 0,40 C-1.8,40 -3.8,39 -5.2,36.6 C-6.8,33.6 -7,29 -7,22 C-7,17 -6.4,12.6 -5.2,10.4 L-6.2,7.6 L-3.2,5.2 C-2.6,2.6 -1.4,0 0,0 Z" fill="url(#medge)"/>
<ellipse cx="-4.4" cy="24" rx="2.2" ry="2.6" fill="url(#blu)"/>
<ellipse cx="2.6" cy="23" rx="3.6" ry="3.8" fill="url(#heat)"/>
</g>
<g transform="translate(426.00 454.60) scale(1.050 0.950)">
<path d="M-0.6,39 L0.6,39 L0.3,56 L-0.3,56 Z" fill="#b8b8b8"/>
<ellipse cx="-6.2" cy="37.5" rx="1.6" ry="3" fill="#8a8a8a"/><ellipse cx="6.2" cy="37.5" rx="1.6" ry="3" fill="#8a8a8a"/>
<path d="M0,0 C1.4,0 2.6,2.6 3.2,5.2 L6.2,7.6 L5.2,10.4 C6.4,12.6 7,17 7,22 C7,29 6.8,33.6 5.2,36.6 C3.8,39 1.8,40 0,40 C-1.8,40 -3.8,39 -5.2,36.6 C-6.8,33.6 -7,29 -7,22 C-7,17 -6.4,12.6 -5.2,10.4 L-6.2,7.6 L-3.2,5.2 C-2.6,2.6 -1.4,0 0,0 Z" fill="url(#mbody)"/>
<path d="M0,0 C1.4,0 2.6,2.6 3.2,5.2 L6.2,7.6 L5.2,10.4 C6.4,12.6 7,17 7,22 C7,29 6.8,33.6 5.2,36.6 C3.8,39 1.8,40 0,40 C-1.8,40 -3.8,39 -5.2,36.6 C-6.8,33.6 -7,29 -7,22 C-7,17 -6.4,12.6 -5.2,10.4 L-6.2,7.6 L-3.2,5.2 C-2.6,2.6 -1.4,0 0,0 Z" fill="url(#medge)"/>
<ellipse cx="-2.6" cy="22" rx="3.0" ry="3.0" fill="url(#cool)"/>
<ellipse cx="3.8" cy="23" rx="2.0" ry="2.0" fill="url(#blu)"/>
</g>
<g transform="translate(444.30 454.60) scale(1.050 0.950)">
<path d="M-0.6,39 L0.6,39 L0.3,56 L-0.3,56 Z" fill="#b8b8b8"/>
<ellipse cx="-6.2" cy="37.5" rx="1.6" ry="3" fill="#8a8a8a"/><ellipse cx="6.2" cy="37.5" rx="1.6" ry="3" fill="#8a8a8a"/>
<path d="M0,0 C1.4,0 2.6,2.6 3.2,5.2 L6.2,7.6 L5.2,10.4 C6.4,12.6 7,17 7,22 C7,29 6.8,33.6 5.2,36.6 C3.8,39 1.8,40 0,40 C-1.8,40 -3.8,39 -5.2,36.6 C-6.8,33.6 -7,29 -7,22 C-7,17 -6.4,12.6 -5.2,10.4 L-6.2,7.6 L-3.2,5.2 C-2.6,2.6 -1.4,0 0,0 Z" fill="url(#mbody)"/>
<path d="M0,0 C1.4,0 2.6,2.6 3.2,5.2 L6.2,7.6 L5.2,10.4 C6.4,12.6 7,17 7,22 C7,29 6.8,33.6 5.2,36.6 C3.8,39 1.8,40 0,40 C-1.8,40 -3.8,39 -5.2,36.6 C-6.8,33.6 -7,29 -7,22 C-7,17 -6.4,12.6 -5.2,10.4 L-6.2,7.6 L-3.2,5.2 C-2.6,2.6 -1.4,0 0,0 Z" fill="url(#medge)"/>
<ellipse cx="-3.4" cy="24" rx="3.6" ry="3.6" fill="url(#heat)"/>
<ellipse cx="3.6" cy="23.5" rx="3.2" ry="2.6" fill="url(#blu)"/>
</g>
<g transform="translate(463.40 454.60) scale(1.050 0.950)">
<path d="M-0.6,39 L0.6,39 L0.3,56 L-0.3,56 Z" fill="#b8b8b8"/>
<ellipse cx="-6.2" cy="37.5" rx="1.6" ry="3" fill="#8a8a8a"/><ellipse cx="6.2" cy="37.5" rx="1.6" ry="3" fill="#8a8a8a"/>
<path d="M0,0 C1.4,0 2.6,2.6 3.2,5.2 L6.2,7.6 L5.2,10.4 C6.4,12.6 7,17 7,22 C7,29 6.8,33.6 5.2,36.6 C3.8,39 1.8,40 0,40 C-1.8,40 -3.8,39 -5.2,36.6 C-6.8,33.6 -7,29 -7,22 C-7,17 -6.4,12.6 -5.2,10.4 L-6.2,7.6 L-3.2,5.2 C-2.6,2.6 -1.4,0 0,0 Z" fill="url(#mbody)"/>
<path d="M0,0 C1.4,0 2.6,2.6 3.2,5.2 L6.2,7.6 L5.2,10.4 C6.4,12.6 7,17 7,22 C7,29 6.8,33.6 5.2,36.6 C3.8,39 1.8,40 0,40 C-1.8,40 -3.8,39 -5.2,36.6 C-6.8,33.6 -7,29 -7,22 C-7,17 -6.4,12.6 -5.2,10.4 L-6.2,7.6 L-3.2,5.2 C-2.6,2.6 -1.4,0 0,0 Z" fill="url(#medge)"/>
<ellipse cx="-3.2" cy="22" rx="3.6" ry="3.6" fill="url(#heat)"/>
<ellipse cx="4.4" cy="23" rx="2.6" ry="2.4" fill="url(#blu)"/>
</g>
<g transform="translate(482.60 454.60) scale(1.050 0.950)">
<path d="M-0.6,39 L0.6,39 L0.3,56 L-0.3,56 Z" fill="#b8b8b8"/>
<ellipse cx="-6.2" cy="37.5" rx="1.6" ry="3" fill="#8a8a8a"/><ellipse cx="6.2" cy="37.5" rx="1.6" ry="3" fill="#8a8a8a"/>
<path d="M0,0 C1.4,0 2.6,2.6 3.2,5.2 L6.2,7.6 L5.2,10.4 C6.4,12.6 7,17 7,22 C7,29 6.8,33.6 5.2,36.6 C3.8,39 1.8,40 0,40 C-1.8,40 -3.8,39 -5.2,36.6 C-6.8,33.6 -7,29 -7,22 C-7,17 -6.4,12.6 -5.2,10.4 L-6.2,7.6 L-3.2,5.2 C-2.6,2.6 -1.4,0 0,0 Z" fill="url(#mbody)"/>
<path d="M0,0 C1.4,0 2.6,2.6 3.2,5.2 L6.2,7.6 L5.2,10.4 C6.4,12.6 7,17 7,22 C7,29 6.8,33.6 5.2,36.6 C3.8,39 1.8,40 0,40 C-1.8,40 -3.8,39 -5.2,36.6 C-6.8,33.6 -7,29 -7,22 C-7,17 -6.4,12.6 -5.2,10.4 L-6.2,7.6 L-3.2,5.2 C-2.6,2.6 -1.4,0 0,0 Z" fill="url(#medge)"/>
<ellipse cx="1.0" cy="20" rx="3.2" ry="2.8" fill="url(#cool)"/>
</g>
<rect x="497.80" y="387.80" width="17.50" height="79.50" fill="#fff"/>
<rect x="498.00" y="390.50" width="12.70" height="73.20" fill="url(#cbar)"/>
<path d="M498.0,463.7 L498.0,459.2 L501.2,463.7 Z" fill="#fff"/>
<rect x="511.00" y="388.10" width="1.70" height="77.90" fill="#a8a8a8"/>
<line x1="514.90" y1="388.10" x2="514.90" y2="467.30" stroke="#444" stroke-width="0.8"/>
<rect x="497.80" y="467.30" width="17.50" height="4.20" fill="#0c0c0c"/>
<text x="501.6" y="408.2" font-size="3.6" font-weight="bold" text-anchor="start" fill="#222">8.0e6</text>
<text x="501.6" y="422.2" font-size="3.6" font-weight="bold" text-anchor="start" fill="#222">6.0e6</text>
<text x="501.6" y="436.3" font-size="3.6" font-weight="bold" text-anchor="start" fill="#222">4.0e6</text>
<text x="501.6" y="450.0" font-size="3.6" font-weight="bold" text-anchor="start" fill="#222">2.0e6</text>
<text x="0" y="0" font-size="9.7" font-weight="bold" text-anchor="middle" fill="#111" transform="translate(394.49 421.80) rotate(-90)">rhIL-8</text>
<text x="0" y="0" font-size="9.7" font-weight="bold" text-anchor="middle" fill="#111" transform="translate(393.29 482.60) rotate(-90)">Control</text>
<line x1="563.00" y1="383.40" x2="563.00" y2="498.70" stroke="#111" stroke-width="1.9"/>
<line x1="562.10" y1="497.80" x2="679.50" y2="497.80" stroke="#111" stroke-width="1.9"/>
<line x1="559.40" y1="384.10" x2="563.00" y2="384.10" stroke="#111" stroke-width="1.7"/>
<text x="559.4" y="387.5" font-size="9.3" font-weight="bold" text-anchor="end" fill="#111">8</text>
<line x1="559.40" y1="412.60" x2="563.00" y2="412.60" stroke="#111" stroke-width="1.7"/>
<text x="559.4" y="416.0" font-size="9.3" font-weight="bold" text-anchor="end" fill="#111">6</text>
<line x1="559.40" y1="441.10" x2="563.00" y2="441.10" stroke="#111" stroke-width="1.7"/>
<text x="559.4" y="444.5" font-size="9.3" font-weight="bold" text-anchor="end" fill="#111">4</text>
<line x1="559.40" y1="469.50" x2="563.00" y2="469.50" stroke="#111" stroke-width="1.7"/>
<text x="559.4" y="472.9" font-size="9.3" font-weight="bold" text-anchor="end" fill="#111">2</text>
<line x1="559.40" y1="497.80" x2="563.00" y2="497.80" stroke="#111" stroke-width="1.7"/>
<text x="559.4" y="501.2" font-size="9.3" font-weight="bold" text-anchor="end" fill="#111">0</text>
<line x1="622.40" y1="497.80" x2="622.40" y2="501.80" stroke="#111" stroke-width="1.6"/>
<text x="616.5" y="387.5" font-size="9.6" font-weight="bold" text-anchor="middle" fill="#111">LoVo-Luc</text>
<text x="0" y="0" font-size="9.6" font-weight="bold" text-anchor="middle" fill="#111" transform="translate(549.36 444.90) rotate(-90)">Photon flux (p/s) x 10^6</text>
<line x1="594.05" y1="413.70" x2="594.05" y2="404.60" stroke="#111" stroke-width="1.8"/>
<line x1="584.05" y1="404.60" x2="604.05" y2="404.60" stroke="#111" stroke-width="1.7"/>
<rect x="574.70" y="413.70" width="38.70" height="83.20" fill="#111"/>
<line x1="650.50" y1="444.70" x2="650.50" y2="443.00" stroke="#111" stroke-width="1.8"/>
<line x1="640.20" y1="443.00" x2="660.80" y2="443.00" stroke="#111" stroke-width="1.7"/>
<rect x="631.00" y="444.70" width="39.00" height="52.20" fill="#111"/>
<text x="650.4" y="444.79999999999995" font-size="14.0" font-weight="bold" text-anchor="middle" fill="#222" letter-spacing="1.6">**</text>
<text x="588.9" y="511.1" font-size="9.6" font-weight="bold" text-anchor="middle" fill="#111">rhIL-8</text>
<text x="648.0" y="511.3" font-size="9.6" font-weight="bold" text-anchor="middle" fill="#111">Control</text>
<text x="364.6" y="530.6" font-size="9.2" font-weight="bold" text-anchor="start" fill="#111">I</text>
<rect x="398.80" y="539.60" width="94.80" height="210.40" fill="#0c0c0c"/>
<rect x="398.80" y="610.80" width="94.80" height="2.80" fill="#2a2a2a"/>
<rect x="398.80" y="679.20" width="94.80" height="2.80" fill="#2a2a2a"/>
<line x1="423.40" y1="539.80" x2="423.40" y2="544.80" stroke="#333" stroke-width="0.6"/>
<line x1="444.60" y1="539.80" x2="444.60" y2="544.80" stroke="#333" stroke-width="0.6"/>
<line x1="466.00" y1="539.80" x2="466.00" y2="544.80" stroke="#333" stroke-width="0.6"/>
<line x1="423.40" y1="613.80" x2="423.40" y2="618.80" stroke="#333" stroke-width="0.6"/>
<line x1="444.60" y1="613.80" x2="444.60" y2="618.80" stroke="#333" stroke-width="0.6"/>
<line x1="466.00" y1="613.80" x2="466.00" y2="618.80" stroke="#333" stroke-width="0.6"/>
<line x1="423.40" y1="682.20" x2="423.40" y2="687.20" stroke="#333" stroke-width="0.6"/>
<line x1="444.60" y1="682.20" x2="444.60" y2="687.20" stroke="#333" stroke-width="0.6"/>
<line x1="466.00" y1="682.20" x2="466.00" y2="687.20" stroke="#333" stroke-width="0.6"/>
<line x1="413.20" y1="539.80" x2="413.20" y2="543.50" stroke="#d8d8d8" stroke-width="1.0"/>
<g transform="translate(413.20 542.40) scale(1.250 1.300)">
<path d="M-0.6,39 L0.6,39 L0.3,52 L-0.3,52 Z" fill="#b8b8b8"/>
<ellipse cx="-6.2" cy="37.5" rx="1.6" ry="3" fill="#8a8a8a"/><ellipse cx="6.2" cy="37.5" rx="1.6" ry="3" fill="#8a8a8a"/>
<path d="M0,0 C1.4,0 2.6,2.6 3.2,5.2 L6.2,7.6 L5.2,10.4 C6.4,12.6 7,17 7,22 C7,29 6.8,33.6 5.2,36.6 C3.8,39 1.8,40 0,40 C-1.8,40 -3.8,39 -5.2,36.6 C-6.8,33.6 -7,29 -7,22 C-7,17 -6.4,12.6 -5.2,10.4 L-6.2,7.6 L-3.2,5.2 C-2.6,2.6 -1.4,0 0,0 Z" fill="url(#mbody)"/>
<path d="M0,0 C1.4,0 2.6,2.6 3.2,5.2 L6.2,7.6 L5.2,10.4 C6.4,12.6 7,17 7,22 C7,29 6.8,33.6 5.2,36.6 C3.8,39 1.8,40 0,40 C-1.8,40 -3.8,39 -5.2,36.6 C-6.8,33.6 -7,29 -7,22 C-7,17 -6.4,12.6 -5.2,10.4 L-6.2,7.6 L-3.2,5.2 C-2.6,2.6 -1.4,0 0,0 Z" fill="url(#medge)"/>
<ellipse cx="-3.2" cy="16" rx="3.2" ry="5.0" fill="url(#blu)"/>
<ellipse cx="2.2" cy="20" rx="3.8" ry="6.0" fill="url(#cool)"/>
<ellipse cx="2.6" cy="28" rx="2.6" ry="3.5" fill="url(#blu)"/>
</g>
<line x1="434.20" y1="539.80" x2="434.20" y2="543.50" stroke="#d8d8d8" stroke-width="1.0"/>
<g transform="translate(434.20 542.40) scale(1.250 1.300)">
<path d="M-0.6,39 L0.6,39 L0.3,52 L-0.3,52 Z" fill="#b8b8b8"/>
<ellipse cx="-6.2" cy="37.5" rx="1.6" ry="3" fill="#8a8a8a"/><ellipse cx="6.2" cy="37.5" rx="1.6" ry="3" fill="#8a8a8a"/>
<path d="M0,0 C1.4,0 2.6,2.6 3.2,5.2 L6.2,7.6 L5.2,10.4 C6.4,12.6 7,17 7,22 C7,29 6.8,33.6 5.2,36.6 C3.8,39 1.8,40 0,40 C-1.8,40 -3.8,39 -5.2,36.6 C-6.8,33.6 -7,29 -7,22 C-7,17 -6.4,12.6 -5.2,10.4 L-6.2,7.6 L-3.2,5.2 C-2.6,2.6 -1.4,0 0,0 Z" fill="url(#mbody)"/>
<path d="M0,0 C1.4,0 2.6,2.6 3.2,5.2 L6.2,7.6 L5.2,10.4 C6.4,12.6 7,17 7,22 C7,29 6.8,33.6 5.2,36.6 C3.8,39 1.8,40 0,40 C-1.8,40 -3.8,39 -5.2,36.6 C-6.8,33.6 -7,29 -7,22 C-7,17 -6.4,12.6 -5.2,10.4 L-6.2,7.6 L-3.2,5.2 C-2.6,2.6 -1.4,0 0,0 Z" fill="url(#medge)"/>
<ellipse cx="-3.8" cy="16.5" rx="2.8" ry="5.0" fill="url(#cool)"/>
<ellipse cx="3.4" cy="16.5" rx="3.0" ry="5.0" fill="url(#cool)"/>
<ellipse cx="0" cy="13.5" rx="4.5" ry="2.0" fill="url(#blu)"/>
</g>
<line x1="455.40" y1="539.80" x2="455.40" y2="543.50" stroke="#d8d8d8" stroke-width="1.0"/>
<g transform="translate(455.40 542.40) scale(1.250 1.300)">
<path d="M-0.6,39 L0.6,39 L0.3,52 L-0.3,52 Z" fill="#b8b8b8"/>
<ellipse cx="-6.2" cy="37.5" rx="1.6" ry="3" fill="#8a8a8a"/><ellipse cx="6.2" cy="37.5" rx="1.6" ry="3" fill="#8a8a8a"/>
<path d="M0,0 C1.4,0 2.6,2.6 3.2,5.2 L6.2,7.6 L5.2,10.4 C6.4,12.6 7,17 7,22 C7,29 6.8,33.6 5.2,36.6 C3.8,39 1.8,40 0,40 C-1.8,40 -3.8,39 -5.2,36.6 C-6.8,33.6 -7,29 -7,22 C-7,17 -6.4,12.6 -5.2,10.4 L-6.2,7.6 L-3.2,5.2 C-2.6,2.6 -1.4,0 0,0 Z" fill="url(#mbody)"/>
<path d="M0,0 C1.4,0 2.6,2.6 3.2,5.2 L6.2,7.6 L5.2,10.4 C6.4,12.6 7,17 7,22 C7,29 6.8,33.6 5.2,36.6 C3.8,39 1.8,40 0,40 C-1.8,40 -3.8,39 -5.2,36.6 C-6.8,33.6 -7,29 -7,22 C-7,17 -6.4,12.6 -5.2,10.4 L-6.2,7.6 L-3.2,5.2 C-2.6,2.6 -1.4,0 0,0 Z" fill="url(#medge)"/>
<ellipse cx="0.5" cy="17.5" rx="6.4" ry="5.6" fill="url(#heat)"/>
</g>
<line x1="475.60" y1="539.80" x2="475.60" y2="543.50" stroke="#d8d8d8" stroke-width="1.0"/>
<g transform="translate(475.60 542.40) scale(1.250 1.300)">
<path d="M-0.6,39 L0.6,39 L0.3,52 L-0.3,52 Z" fill="#b8b8b8"/>
<ellipse cx="-6.2" cy="37.5" rx="1.6" ry="3" fill="#8a8a8a"/><ellipse cx="6.2" cy="37.5" rx="1.6" ry="3" fill="#8a8a8a"/>
<path d="M0,0 C1.4,0 2.6,2.6 3.2,5.2 L6.2,7.6 L5.2,10.4 C6.4,12.6 7,17 7,22 C7,29 6.8,33.6 5.2,36.6 C3.8,39 1.8,40 0,40 C-1.8,40 -3.8,39 -5.2,36.6 C-6.8,33.6 -7,29 -7,22 C-7,17 -6.4,12.6 -5.2,10.4 L-6.2,7.6 L-3.2,5.2 C-2.6,2.6 -1.4,0 0,0 Z" fill="url(#mbody)"/>
<path d="M0,0 C1.4,0 2.6,2.6 3.2,5.2 L6.2,7.6 L5.2,10.4 C6.4,12.6 7,17 7,22 C7,29 6.8,33.6 5.2,36.6 C3.8,39 1.8,40 0,40 C-1.8,40 -3.8,39 -5.2,36.6 C-6.8,33.6 -7,29 -7,22 C-7,17 -6.4,12.6 -5.2,10.4 L-6.2,7.6 L-3.2,5.2 C-2.6,2.6 -1.4,0 0,0 Z" fill="url(#medge)"/>
<ellipse cx="-3.2" cy="17" rx="3.0" ry="5.6" fill="url(#cool)"/>
<ellipse cx="3.6" cy="17.5" rx="3.2" ry="5.6" fill="url(#heat)"/>
</g>
<line x1="413.00" y1="613.80" x2="413.00" y2="617.50" stroke="#d0d0d0" stroke-width="1.0"/>
<g transform="translate(413.00 616.00) scale(1.300 1.300)">
<path d="M-0.6,39 L0.6,39 L0.3,48 L-0.3,48 Z" fill="#b8b8b8"/>
<ellipse cx="-6.2" cy="37.5" rx="1.6" ry="3" fill="#8a8a8a"/><ellipse cx="6.2" cy="37.5" rx="1.6" ry="3" fill="#8a8a8a"/>
<path d="M0,0 C1.4,0 2.6,2.6 3.2,5.2 L6.2,7.6 L5.2,10.4 C6.4,12.6 7,17 7,22 C7,29 6.8,33.6 5.2,36.6 C3.8,39 1.8,40 0,40 C-1.8,40 -3.8,39 -5.2,36.6 C-6.8,33.6 -7,29 -7,22 C-7,17 -6.4,12.6 -5.2,10.4 L-6.2,7.6 L-3.2,5.2 C-2.6,2.6 -1.4,0 0,0 Z" fill="url(#mbody)"/>
<path d="M0,0 C1.4,0 2.6,2.6 3.2,5.2 L6.2,7.6 L5.2,10.4 C6.4,12.6 7,17 7,22 C7,29 6.8,33.6 5.2,36.6 C3.8,39 1.8,40 0,40 C-1.8,40 -3.8,39 -5.2,36.6 C-6.8,33.6 -7,29 -7,22 C-7,17 -6.4,12.6 -5.2,10.4 L-6.2,7.6 L-3.2,5.2 C-2.6,2.6 -1.4,0 0,0 Z" fill="url(#medge)"/>
<ellipse cx="-2.4" cy="20" rx="3.2" ry="3.2" fill="url(#blu)"/>
<ellipse cx="3.0" cy="20.5" rx="3.2" ry="3.2" fill="url(#cool)"/>
</g>
<line x1="434.00" y1="613.80" x2="434.00" y2="617.50" stroke="#d0d0d0" stroke-width="1.0"/>
<g transform="translate(434.00 616.00) scale(1.300 1.300)">
<path d="M-0.6,39 L0.6,39 L0.3,48 L-0.3,48 Z" fill="#b8b8b8"/>
<ellipse cx="-6.2" cy="37.5" rx="1.6" ry="3" fill="#8a8a8a"/><ellipse cx="6.2" cy="37.5" rx="1.6" ry="3" fill="#8a8a8a"/>
<path d="M0,0 C1.4,0 2.6,2.6 3.2,5.2 L6.2,7.6 L5.2,10.4 C6.4,12.6 7,17 7,22 C7,29 6.8,33.6 5.2,36.6 C3.8,39 1.8,40 0,40 C-1.8,40 -3.8,39 -5.2,36.6 C-6.8,33.6 -7,29 -7,22 C-7,17 -6.4,12.6 -5.2,10.4 L-6.2,7.6 L-3.2,5.2 C-2.6,2.6 -1.4,0 0,0 Z" fill="url(#mbody)"/>
<path d="M0,0 C1.4,0 2.6,2.6 3.2,5.2 L6.2,7.6 L5.2,10.4 C6.4,12.6 7,17 7,22 C7,29 6.8,33.6 5.2,36.6 C3.8,39 1.8,40 0,40 C-1.8,40 -3.8,39 -5.2,36.6 C-6.8,33.6 -7,29 -7,22 C-7,17 -6.4,12.6 -5.2,10.4 L-6.2,7.6 L-3.2,5.2 C-2.6,2.6 -1.4,0 0,0 Z" fill="url(#medge)"/>
<ellipse cx="-3.2" cy="19" rx="2.6" ry="2.6" fill="url(#blu)"/>
<ellipse cx="4.0" cy="21" rx="2.4" ry="2.2" fill="url(#blu)"/>
</g>
<line x1="455.40" y1="613.80" x2="455.40" y2="617.50" stroke="#d0d0d0" stroke-width="1.0"/>
<g transform="translate(455.40 616.00) scale(1.300 1.300)">
<path d="M-0.6,39 L0.6,39 L0.3,48 L-0.3,48 Z" fill="#b8b8b8"/>
<ellipse cx="-6.2" cy="37.5" rx="1.6" ry="3" fill="#8a8a8a"/><ellipse cx="6.2" cy="37.5" rx="1.6" ry="3" fill="#8a8a8a"/>
<path d="M0,0 C1.4,0 2.6,2.6 3.2,5.2 L6.2,7.6 L5.2,10.4 C6.4,12.6 7,17 7,22 C7,29 6.8,33.6 5.2,36.6 C3.8,39 1.8,40 0,40 C-1.8,40 -3.8,39 -5.2,36.6 C-6.8,33.6 -7,29 -7,22 C-7,17 -6.4,12.6 -5.2,10.4 L-6.2,7.6 L-3.2,5.2 C-2.6,2.6 -1.4,0 0,0 Z" fill="url(#mbody)"/>
<path d="M0,0 C1.4,0 2.6,2.6 3.2,5.2 L6.2,7.6 L5.2,10.4 C6.4,12.6 7,17 7,22 C7,29 6.8,33.6 5.2,36.6 C3.8,39 1.8,40 0,40 C-1.8,40 -3.8,39 -5.2,36.6 C-6.8,33.6 -7,29 -7,22 C-7,17 -6.4,12.6 -5.2,10.4 L-6.2,7.6 L-3.2,5.2 C-2.6,2.6 -1.4,0 0,0 Z" fill="url(#medge)"/>
<ellipse cx="-2.2" cy="20" rx="3.4" ry="3.4" fill="url(#heat)"/>
<ellipse cx="4.6" cy="21" rx="2.2" ry="2.2" fill="url(#blu)"/>
</g>
<line x1="476.40" y1="613.80" x2="476.40" y2="617.50" stroke="#d0d0d0" stroke-width="1.0"/>
<g transform="translate(476.40 616.00) scale(1.300 1.300)">
<path d="M-0.6,39 L0.6,39 L0.3,48 L-0.3,48 Z" fill="#b8b8b8"/>
<ellipse cx="-6.2" cy="37.5" rx="1.6" ry="3" fill="#8a8a8a"/><ellipse cx="6.2" cy="37.5" rx="1.6" ry="3" fill="#8a8a8a"/>
<path d="M0,0 C1.4,0 2.6,2.6 3.2,5.2 L6.2,7.6 L5.2,10.4 C6.4,12.6 7,17 7,22 C7,29 6.8,33.6 5.2,36.6 C3.8,39 1.8,40 0,40 C-1.8,40 -3.8,39 -5.2,36.6 C-6.8,33.6 -7,29 -7,22 C-7,17 -6.4,12.6 -5.2,10.4 L-6.2,7.6 L-3.2,5.2 C-2.6,2.6 -1.4,0 0,0 Z" fill="url(#mbody)"/>
<path d="M0,0 C1.4,0 2.6,2.6 3.2,5.2 L6.2,7.6 L5.2,10.4 C6.4,12.6 7,17 7,22 C7,29 6.8,33.6 5.2,36.6 C3.8,39 1.8,40 0,40 C-1.8,40 -3.8,39 -5.2,36.6 C-6.8,33.6 -7,29 -7,22 C-7,17 -6.4,12.6 -5.2,10.4 L-6.2,7.6 L-3.2,5.2 C-2.6,2.6 -1.4,0 0,0 Z" fill="url(#medge)"/>
<ellipse cx="0" cy="14" rx="4.6" ry="2.2" fill="url(#blu)"/>
<ellipse cx="-1.8" cy="21" rx="3.4" ry="3.6" fill="url(#heat)"/>
<ellipse cx="4.6" cy="21" rx="2.2" ry="2.8" fill="url(#blu)"/>
</g>
<line x1="410.60" y1="682.20" x2="410.60" y2="685.50" stroke="#d0d0d0" stroke-width="1.0"/>
<g transform="translate(410.60 684.00) scale(1.300 1.300)">
<path d="M-0.6,39 L0.6,39 L0.3,52 L-0.3,52 Z" fill="#b8b8b8"/>
<ellipse cx="-6.2" cy="37.5" rx="1.6" ry="3" fill="#8a8a8a"/><ellipse cx="6.2" cy="37.5" rx="1.6" ry="3" fill="#8a8a8a"/>
<path d="M0,0 C1.4,0 2.6,2.6 3.2,5.2 L6.2,7.6 L5.2,10.4 C6.4,12.6 7,17 7,22 C7,29 6.8,33.6 5.2,36.6 C3.8,39 1.8,40 0,40 C-1.8,40 -3.8,39 -5.2,36.6 C-6.8,33.6 -7,29 -7,22 C-7,17 -6.4,12.6 -5.2,10.4 L-6.2,7.6 L-3.2,5.2 C-2.6,2.6 -1.4,0 0,0 Z" fill="url(#mbody)"/>
<path d="M0,0 C1.4,0 2.6,2.6 3.2,5.2 L6.2,7.6 L5.2,10.4 C6.4,12.6 7,17 7,22 C7,29 6.8,33.6 5.2,36.6 C3.8,39 1.8,40 0,40 C-1.8,40 -3.8,39 -5.2,36.6 C-6.8,33.6 -7,29 -7,22 C-7,17 -6.4,12.6 -5.2,10.4 L-6.2,7.6 L-3.2,5.2 C-2.6,2.6 -1.4,0 0,0 Z" fill="url(#medge)"/>
<ellipse cx="-2.6" cy="20" rx="3.4" ry="3.6" fill="url(#heat)"/>
</g>
<line x1="434.20" y1="682.20" x2="434.20" y2="685.50" stroke="#d0d0d0" stroke-width="1.0"/>
<g transform="translate(434.20 684.00) scale(1.300 1.300)">
<path d="M-0.6,39 L0.6,39 L0.3,52 L-0.3,52 Z" fill="#b8b8b8"/>
<ellipse cx="-6.2" cy="37.5" rx="1.6" ry="3" fill="#8a8a8a"/><ellipse cx="6.2" cy="37.5" rx="1.6" ry="3" fill="#8a8a8a"/>
<path d="M0,0 C1.4,0 2.6,2.6 3.2,5.2 L6.2,7.6 L5.2,10.4 C6.4,12.6 7,17 7,22 C7,29 6.8,33.6 5.2,36.6 C3.8,39 1.8,40 0,40 C-1.8,40 -3.8,39 -5.2,36.6 C-6.8,33.6 -7,29 -7,22 C-7,17 -6.4,12.6 -5.2,10.4 L-6.2,7.6 L-3.2,5.2 C-2.6,2.6 -1.4,0 0,0 Z" fill="url(#mbody)"/>
<path d="M0,0 C1.4,0 2.6,2.6 3.2,5.2 L6.2,7.6 L5.2,10.4 C6.4,12.6 7,17 7,22 C7,29 6.8,33.6 5.2,36.6 C3.8,39 1.8,40 0,40 C-1.8,40 -3.8,39 -5.2,36.6 C-6.8,33.6 -7,29 -7,22 C-7,17 -6.4,12.6 -5.2,10.4 L-6.2,7.6 L-3.2,5.2 C-2.6,2.6 -1.4,0 0,0 Z" fill="url(#medge)"/>
<ellipse cx="-3.0" cy="21" rx="2.4" ry="2.6" fill="url(#cool)"/>
<ellipse cx="3.8" cy="20.5" rx="2.4" ry="2.2" fill="url(#blu)"/>
</g>
<line x1="458.00" y1="682.20" x2="458.00" y2="685.50" stroke="#d0d0d0" stroke-width="1.0"/>
<g transform="translate(458.00 684.00) scale(1.300 1.300)">
<path d="M-0.6,39 L0.6,39 L0.3,52 L-0.3,52 Z" fill="#b8b8b8"/>
<ellipse cx="-6.2" cy="37.5" rx="1.6" ry="3" fill="#8a8a8a"/><ellipse cx="6.2" cy="37.5" rx="1.6" ry="3" fill="#8a8a8a"/>
<path d="M0,0 C1.4,0 2.6,2.6 3.2,5.2 L6.2,7.6 L5.2,10.4 C6.4,12.6 7,17 7,22 C7,29 6.8,33.6 5.2,36.6 C3.8,39 1.8,40 0,40 C-1.8,40 -3.8,39 -5.2,36.6 C-6.8,33.6 -7,29 -7,22 C-7,17 -6.4,12.6 -5.2,10.4 L-6.2,7.6 L-3.2,5.2 C-2.6,2.6 -1.4,0 0,0 Z" fill="url(#mbody)"/>
<path d="M0,0 C1.4,0 2.6,2.6 3.2,5.2 L6.2,7.6 L5.2,10.4 C6.4,12.6 7,17 7,22 C7,29 6.8,33.6 5.2,36.6 C3.8,39 1.8,40 0,40 C-1.8,40 -3.8,39 -5.2,36.6 C-6.8,33.6 -7,29 -7,22 C-7,17 -6.4,12.6 -5.2,10.4 L-6.2,7.6 L-3.2,5.2 C-2.6,2.6 -1.4,0 0,0 Z" fill="url(#medge)"/>
<ellipse cx="-3.0" cy="21" rx="3.4" ry="3.4" fill="url(#heat)"/>
<ellipse cx="4.2" cy="20" rx="3.2" ry="3.0" fill="url(#blu)"/>
</g>
<line x1="481.80" y1="682.20" x2="481.80" y2="685.50" stroke="#d0d0d0" stroke-width="1.0"/>
<g transform="translate(481.80 684.00) scale(1.300 1.300)">
<path d="M-0.6,39 L0.6,39 L0.3,52 L-0.3,52 Z" fill="#b8b8b8"/>
<ellipse cx="-6.2" cy="37.5" rx="1.6" ry="3" fill="#8a8a8a"/><ellipse cx="6.2" cy="37.5" rx="1.6" ry="3" fill="#8a8a8a"/>
<path d="M0,0 C1.4,0 2.6,2.6 3.2,5.2 L6.2,7.6 L5.2,10.4 C6.4,12.6 7,17 7,22 C7,29 6.8,33.6 5.2,36.6 C3.8,39 1.8,40 0,40 C-1.8,40 -3.8,39 -5.2,36.6 C-6.8,33.6 -7,29 -7,22 C-7,17 -6.4,12.6 -5.2,10.4 L-6.2,7.6 L-3.2,5.2 C-2.6,2.6 -1.4,0 0,0 Z" fill="url(#mbody)"/>
<path d="M0,0 C1.4,0 2.6,2.6 3.2,5.2 L6.2,7.6 L5.2,10.4 C6.4,12.6 7,17 7,22 C7,29 6.8,33.6 5.2,36.6 C3.8,39 1.8,40 0,40 C-1.8,40 -3.8,39 -5.2,36.6 C-6.8,33.6 -7,29 -7,22 C-7,17 -6.4,12.6 -5.2,10.4 L-6.2,7.6 L-3.2,5.2 C-2.6,2.6 -1.4,0 0,0 Z" fill="url(#medge)"/>
<ellipse cx="4.6" cy="21" rx="2.6" ry="3.0" fill="url(#cool)"/>
</g>
<rect x="493.60" y="540.60" width="20.70" height="130.40" fill="#fff"/>
<rect x="494.20" y="545.20" width="18.20" height="120.40" fill="url(#cbar)"/>
<path d="M494.2,665.6 L494.2,660.1 L497.9,665.6 Z" fill="#fff"/>
<line x1="513.60" y1="541.00" x2="513.60" y2="670.60" stroke="#999" stroke-width="0.6"/>
<line x1="512.40" y1="548.00" x2="514.00" y2="548.00" stroke="#999" stroke-width="0.5"/>
<line x1="512.40" y1="560.00" x2="514.00" y2="560.00" stroke="#999" stroke-width="0.5"/>
<line x1="512.40" y1="572.00" x2="514.00" y2="572.00" stroke="#999" stroke-width="0.5"/>
<line x1="512.40" y1="584.00" x2="514.00" y2="584.00" stroke="#999" stroke-width="0.5"/>
<line x1="512.40" y1="596.00" x2="514.00" y2="596.00" stroke="#999" stroke-width="0.5"/>
<line x1="512.40" y1="608.00" x2="514.00" y2="608.00" stroke="#999" stroke-width="0.5"/>
<line x1="512.40" y1="620.00" x2="514.00" y2="620.00" stroke="#999" stroke-width="0.5"/>
<line x1="512.40" y1="632.00" x2="514.00" y2="632.00" stroke="#999" stroke-width="0.5"/>
<line x1="512.40" y1="644.00" x2="514.00" y2="644.00" stroke="#999" stroke-width="0.5"/>
<line x1="512.40" y1="656.00" x2="514.00" y2="656.00" stroke="#999" stroke-width="0.5"/>
<rect x="493.80" y="671.90" width="20.50" height="6.80" fill="#0c0c0c"/>
<text x="498.3" y="570.8" font-size="4.4" font-weight="bold" text-anchor="start" fill="#222">4.0e6</text>
<text x="498.3" y="595.3" font-size="4.4" font-weight="bold" text-anchor="start" fill="#222">3.0e6</text>
<text x="498.3" y="619.7" font-size="4.4" font-weight="bold" text-anchor="start" fill="#222">2.0e6</text>
<text x="498.3" y="643.8" font-size="4.4" font-weight="bold" text-anchor="start" fill="#222">1.0e6</text>
<text x="505.0" y="544.4" font-size="3.6" font-weight="bold" text-anchor="start" fill="#222">5.1e6</text>
<text x="505.0" y="670.4" font-size="3.6" font-weight="bold" text-anchor="start" fill="#222">1.0e5</text>
<text x="0" y="0" font-size="9.7" font-weight="bold" text-anchor="middle" fill="#111" transform="translate(391.29 581.00) rotate(-90)">HSS-CM</text>
<text x="0" y="0" font-size="9.7" font-weight="bold" text-anchor="middle" fill="#111" transform="translate(379.29 656.00) rotate(-90)">HSS-CM</text>
<text x="0" y="0" font-size="9.7" font-weight="bold" text-anchor="middle" fill="#111" transform="translate(390.99 653.00) rotate(-90)">+Anti IL-8</text>
<text x="0" y="0" font-size="9.7" font-weight="bold" text-anchor="middle" fill="#111" transform="translate(379.29 728.80) rotate(-90)">silL-8</text>
<text x="0" y="0" font-size="9.7" font-weight="bold" text-anchor="middle" fill="#111" transform="translate(390.99 720.50) rotate(-90)">-HSS-CM</text>
<line x1="565.10" y1="572.80" x2="565.10" y2="656.30" stroke="#111" stroke-width="1.9"/>
<line x1="564.20" y1="655.40" x2="681.30" y2="655.40" stroke="#111" stroke-width="1.9"/>
<line x1="561.50" y1="573.60" x2="565.10" y2="573.60" stroke="#111" stroke-width="1.7"/>
<text x="561.2" y="577.0" font-size="9.3" font-weight="bold" text-anchor="end" fill="#111">6</text>
<line x1="561.50" y1="600.80" x2="565.10" y2="600.80" stroke="#111" stroke-width="1.7"/>
<text x="561.2" y="604.1999999999999" font-size="9.3" font-weight="bold" text-anchor="end" fill="#111">4</text>
<line x1="561.50" y1="628.10" x2="565.10" y2="628.10" stroke="#111" stroke-width="1.7"/>
<text x="561.2" y="631.5" font-size="9.3" font-weight="bold" text-anchor="end" fill="#111">2</text>
<line x1="561.50" y1="655.40" x2="565.10" y2="655.40" stroke="#111" stroke-width="1.7"/>
<text x="561.2" y="658.8" font-size="9.3" font-weight="bold" text-anchor="end" fill="#111">0</text>
<line x1="623.20" y1="655.40" x2="623.20" y2="658.40" stroke="#111" stroke-width="1.6"/>
<text x="617.5" y="551.0" font-size="9.6" font-weight="bold" text-anchor="middle" fill="#111">LoVo-Luc</text>
<text x="0" y="0" font-size="9.6" font-weight="bold" text-anchor="middle" fill="#111" transform="translate(549.46 619.60) rotate(-90)">Photon flux (p/s) x 10^6</text>
<line x1="584.55" y1="587.20" x2="584.55" y2="583.80" stroke="#111" stroke-width="1.8"/>
<line x1="578.35" y1="583.80" x2="590.75" y2="583.80" stroke="#111" stroke-width="1.7"/>
<rect x="571.40" y="587.20" width="26.30" height="67.30" fill="#111"/>
<line x1="623.40" y1="621.10" x2="623.40" y2="615.50" stroke="#111" stroke-width="1.8"/>
<line x1="616.10" y1="615.50" x2="630.70" y2="615.50" stroke="#111" stroke-width="1.7"/>
<rect x="610.50" y="621.10" width="25.80" height="33.40" fill="#111"/>
<line x1="662.10" y1="626.50" x2="662.10" y2="624.00" stroke="#111" stroke-width="1.8"/>
<line x1="654.70" y1="624.00" x2="669.50" y2="624.00" stroke="#111" stroke-width="1.7"/>
<rect x="649.40" y="626.50" width="25.40" height="28.00" fill="#111"/>
<line x1="585.00" y1="580.80" x2="623.60" y2="580.80" stroke="#111" stroke-width="1.3"/>
<line x1="585.00" y1="572.30" x2="661.80" y2="572.30" stroke="#111" stroke-width="1.3"/>
<text x="604.2" y="581.6" font-size="8.0" font-weight="bold" text-anchor="middle" fill="#222">**</text>
<text x="624.9" y="572.2" font-size="8.0" font-weight="bold" text-anchor="middle" fill="#222">***</text>
<text x="0" y="0" font-size="9.9" font-weight="bold" text-anchor="end" fill="#111" transform="translate(584.0 668.4) rotate(-45)">HSS-CM</text>
<text x="0" y="0" font-size="9.9" font-weight="bold" text-anchor="end" fill="#111" transform="translate(626.2 668.6) rotate(-45)">HSS-CM+Anti IL-8</text>
<text x="0" y="0" font-size="9.9" font-weight="bold" text-anchor="end" fill="#111" transform="translate(667.4 668.0) rotate(-45)">silL-8-HSS-CM</text>
</svg>
</body></html>
